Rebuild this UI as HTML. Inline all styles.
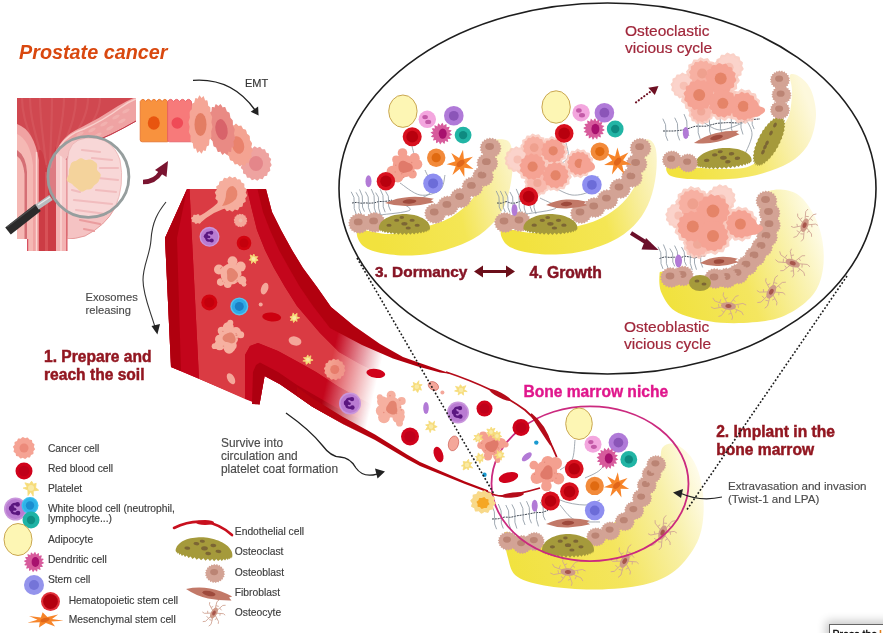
<!DOCTYPE html>
<html><head><meta charset="utf-8"><style>
html,body{margin:0;padding:0;background:#fff;}
body{width:883px;height:633px;overflow:hidden;position:relative;font-family:"Liberation Sans",sans-serif;}
svg{position:absolute;left:0;top:0;font-family:"Liberation Sans",sans-serif;filter:blur(0.3px);}
</style></head><body>
<svg width="883" height="633" viewBox="0 0 883 633">
<defs>
<linearGradient id="vfade" gradientUnits="userSpaceOnUse" x1="330" y1="366" x2="378" y2="377">
<stop offset="0" stop-color="#fff"/><stop offset="1" stop-color="#000"/></linearGradient>
<mask id="vmask" maskUnits="userSpaceOnUse" x="0" y="0" width="883" height="633"><rect x="0" y="0" width="883" height="633" fill="url(#vfade)"/></mask>
<linearGradient id="boneA" gradientUnits="objectBoundingBox" x1="0" y1="0.2" x2="1" y2="0">
<stop offset="0" stop-color="#f2e23e"/><stop offset="0.55" stop-color="#f4e655"/><stop offset="0.8" stop-color="#f8eea0"/><stop offset="1" stop-color="#fcf6d0"/></linearGradient>
<linearGradient id="boneB" gradientUnits="objectBoundingBox" x1="0" y1="0" x2="1" y2="0">
<stop offset="0" stop-color="#f3e445"/><stop offset="0.55" stop-color="#f5e862"/><stop offset="1" stop-color="#fffbe8" stop-opacity="0.2"/></linearGradient>
<marker id="ah" viewBox="0 0 10 10" refX="8" refY="5" markerWidth="7" markerHeight="7" orient="auto"><path d="M0,0 L10,5 L0,10 z" fill="#222"/></marker>
</defs>
<ellipse cx="607.5" cy="188.5" rx="268.5" ry="185.5" fill="#fff" stroke="#1e1e1e" stroke-width="1.6"/>
<g mask="url(#vmask)">
<path d="M187,189 L266,189 L272,212 L281,230 L292,250 L303,268 L317,287 L331,307 L354,326 L380,344 L403,357 L417,362 L430,394 L430,470 L420,466 L407,459 L375,440 L343,424 L312,406.5 L297,396 L280,384.3 L264.6,376 L259.5,404.5 L171,367 L165,238Z" fill="#c4061c"/>
<path d="M189.5,189 L247,189 L252,210 L257,230 L265,250 L274,268 L285,287 L297,306 L320,333 L339,352 L360,364 L385,376 L420,390 L430,394 L430,436 L420,431 L400,421 L370,404 L339,387 L316,372 L300,363 L278,351 L258,343 L250,346 L245,355 L245,399 L199,378.8Z" fill="#da3b43"/>
<path d="M257.5,189 L263,212 L270,230 L279,250 L289,268 L300,287 L313,306 L330,328 L362,345 L393,358.4 L417,366.3 L440,372.5 L452,374 L430,394 L420,390 L385,376 L360,364 L339,352 L320,333 L297,306 L285,287 L274,268 L265,250 L257,230 L252,210 L247,189Z" fill="#c4061c"/>
<path d="M187,189 L189.5,189 L199,378.8 L171,367 L165,238Z" fill="#c3051b"/>
<path d="M187,189 L177,238 L181,371 L171,367 L165,238Z" fill="#b0000f"/>
<path d="M245,399 L245,355 L250,346 L258,343 L278,351 L300,363 L316,372 L339,387 L370,404 L400,421 L420,431 L420,466 L407,459 L375,440 L343,424 L312,406.5 L297,396 L280,384.3 L264.6,376 L259.5,404.5Z" fill="#c4061c"/>
<path d="M252,404 L253,372 L256,365 L260,362.5 L278,372 L297,385 L335,407 L372,425 L400,441 L420,452 L420,466 L407,459 L375,440 L343,424 L312,406.5 L297,396 L280,384.3 L264.6,376 L259.5,404.5Z" fill="#ad0010"/>
</g>
<path d="M266,189 L272,212 L281,230 L292,250 L303,268 L317,287 L331,307 L354,326 L380,344 L403,357 L417,362 L440,370 L452,374 L452,374 L440,372.5 L417,366.3 L393,358.4 L362,345 L330,328 L313,306 L300,287 L289,268 L279,250 L270,230 L263,212 L257.5,189Z" fill="#b2010f"/>
<path d="M297,387 L312,398.0 L343,417 L375,434.5 L407,454.5 L420,462 L440,470.8 L465,481.4 L488,490.3 L488,492.5 L465,484 L440,474 L420,466 L407,459 L375,440 L343,424 L312,406.5 L297,396Z" fill="#b5030f"/>
<text x="19.0" y="58.5" font-size="19.8" fill="#d9480f" font-weight="bold" font-style="italic" letter-spacing="0">Prostate cancer</text>
<text x="245.0" y="86.7" font-size="11" fill="#333" font-weight="normal" font-style="normal" letter-spacing="0" stroke="#333" stroke-width="0.15" paint-order="stroke">EMT</text>
<text x="85.5" y="301.2" font-size="11.2" fill="#4a4a4a" font-weight="normal" font-style="normal" letter-spacing="0" stroke="#4a4a4a" stroke-width="0.15" paint-order="stroke">Exosomes</text>
<text x="85.5" y="313.9" font-size="11.2" fill="#4a4a4a" font-weight="normal" font-style="normal" letter-spacing="0" stroke="#4a4a4a" stroke-width="0.15" paint-order="stroke">releasing</text>
<text x="44.0" y="361.6" font-size="15.6" fill="#921620" font-weight="bold" font-style="normal" letter-spacing="0" stroke="#921620" stroke-width="0.45" paint-order="stroke">1. Prepare and</text>
<text x="44.0" y="379.9" font-size="15.6" fill="#921620" font-weight="bold" font-style="normal" letter-spacing="0" stroke="#921620" stroke-width="0.45" paint-order="stroke">reach the soil</text>
<text x="221.0" y="447.2" font-size="11.9" fill="#4a4a4a" font-weight="normal" font-style="normal" letter-spacing="0" stroke="#4a4a4a" stroke-width="0.15" paint-order="stroke">Survive into</text>
<text x="221.0" y="460.1" font-size="11.9" fill="#4a4a4a" font-weight="normal" font-style="normal" letter-spacing="0" stroke="#4a4a4a" stroke-width="0.15" paint-order="stroke">circulation and</text>
<text x="221.0" y="473.0" font-size="11.9" fill="#4a4a4a" font-weight="normal" font-style="normal" letter-spacing="0" stroke="#4a4a4a" stroke-width="0.15" paint-order="stroke">platelet coat formation</text>
<text x="375.0" y="276.8" font-size="15.4" fill="#861424" font-weight="bold" font-style="normal" letter-spacing="0" stroke="#861424" stroke-width="0.45" paint-order="stroke">3. Dormancy</text>
<text x="529.5" y="278.0" font-size="15.7" fill="#861424" font-weight="bold" font-style="normal" letter-spacing="0" stroke="#861424" stroke-width="0.45" paint-order="stroke">4. Growth</text>
<text x="625.0" y="36.3" font-size="15.5" fill="#a0263a" font-weight="normal" font-style="normal" letter-spacing="0" stroke="#a0263a" stroke-width="0.2" paint-order="stroke">Osteoclastic</text>
<text x="625.0" y="53.0" font-size="15.5" fill="#a0263a" font-weight="normal" font-style="normal" letter-spacing="0" stroke="#a0263a" stroke-width="0.2" paint-order="stroke">vicious cycle</text>
<text x="624.0" y="332.4" font-size="15.5" fill="#a0263a" font-weight="normal" font-style="normal" letter-spacing="0" stroke="#a0263a" stroke-width="0.2" paint-order="stroke">Osteoblastic</text>
<text x="624.0" y="349.4" font-size="15.5" fill="#a0263a" font-weight="normal" font-style="normal" letter-spacing="0" stroke="#a0263a" stroke-width="0.2" paint-order="stroke">vicious cycle</text>
<text x="523.4" y="397.4" font-size="15.6" fill="#e0168c" font-weight="bold" font-style="normal" letter-spacing="0" stroke="#e0168c" stroke-width="0.35" paint-order="stroke">Bone marrow niche</text>
<text x="716.2" y="437.4" font-size="15.6" fill="#921620" font-weight="bold" font-style="normal" letter-spacing="0" stroke="#921620" stroke-width="0.45" paint-order="stroke">2. Implant in the</text>
<text x="716.2" y="455.0" font-size="15.6" fill="#921620" font-weight="bold" font-style="normal" letter-spacing="0" stroke="#921620" stroke-width="0.45" paint-order="stroke">bone marrow</text>
<text x="728.0" y="490.0" font-size="11.6" fill="#4a4a4a" font-weight="normal" font-style="normal" letter-spacing="0" stroke="#4a4a4a" stroke-width="0.15" paint-order="stroke">Extravasation and invasion</text>
<text x="728.0" y="502.5" font-size="11.6" fill="#4a4a4a" font-weight="normal" font-style="normal" letter-spacing="0" stroke="#4a4a4a" stroke-width="0.15" paint-order="stroke">(Twist-1 and LPA)</text>
<text x="47.9" y="451.8" font-size="10.3" fill="#3c3c3c" font-weight="normal" font-style="normal" letter-spacing="0" stroke="#3c3c3c" stroke-width="0.15" paint-order="stroke">Cancer cell</text>
<text x="47.9" y="471.8" font-size="10.3" fill="#3c3c3c" font-weight="normal" font-style="normal" letter-spacing="0" stroke="#3c3c3c" stroke-width="0.15" paint-order="stroke">Red blood cell</text>
<text x="47.9" y="492.2" font-size="10.3" fill="#3c3c3c" font-weight="normal" font-style="normal" letter-spacing="0" stroke="#3c3c3c" stroke-width="0.15" paint-order="stroke">Platelet</text>
<text x="47.9" y="512.4" font-size="10.3" fill="#3c3c3c" font-weight="normal" font-style="normal" letter-spacing="0" stroke="#3c3c3c" stroke-width="0.15" paint-order="stroke">White blood cell (neutrophil,</text>
<text x="47.9" y="522.0" font-size="10.3" fill="#3c3c3c" font-weight="normal" font-style="normal" letter-spacing="0" stroke="#3c3c3c" stroke-width="0.15" paint-order="stroke">lymphocyte...)</text>
<text x="47.9" y="542.8" font-size="10.3" fill="#3c3c3c" font-weight="normal" font-style="normal" letter-spacing="0" stroke="#3c3c3c" stroke-width="0.15" paint-order="stroke">Adipocyte</text>
<text x="47.9" y="562.8" font-size="10.3" fill="#3c3c3c" font-weight="normal" font-style="normal" letter-spacing="0" stroke="#3c3c3c" stroke-width="0.15" paint-order="stroke">Dendritic cell</text>
<text x="47.9" y="583.2" font-size="10.3" fill="#3c3c3c" font-weight="normal" font-style="normal" letter-spacing="0" stroke="#3c3c3c" stroke-width="0.15" paint-order="stroke">Stem cell</text>
<text x="68.7" y="603.6" font-size="10.3" fill="#3c3c3c" font-weight="normal" font-style="normal" letter-spacing="0" stroke="#3c3c3c" stroke-width="0.15" paint-order="stroke">Hematopoietic stem cell</text>
<text x="68.7" y="623.0" font-size="10.3" fill="#3c3c3c" font-weight="normal" font-style="normal" letter-spacing="0" stroke="#3c3c3c" stroke-width="0.15" paint-order="stroke">Mesenchymal stem cell</text>
<text x="234.8" y="534.6" font-size="10.3" fill="#3c3c3c" font-weight="normal" font-style="normal" letter-spacing="0" stroke="#3c3c3c" stroke-width="0.15" paint-order="stroke">Endothelial cell</text>
<text x="234.8" y="555.0" font-size="10.3" fill="#3c3c3c" font-weight="normal" font-style="normal" letter-spacing="0" stroke="#3c3c3c" stroke-width="0.15" paint-order="stroke">Osteoclast</text>
<text x="234.8" y="575.5" font-size="10.3" fill="#3c3c3c" font-weight="normal" font-style="normal" letter-spacing="0" stroke="#3c3c3c" stroke-width="0.15" paint-order="stroke">Osteoblast</text>
<text x="234.8" y="595.5" font-size="10.3" fill="#3c3c3c" font-weight="normal" font-style="normal" letter-spacing="0" stroke="#3c3c3c" stroke-width="0.15" paint-order="stroke">Fibroblast</text>
<text x="234.8" y="615.6" font-size="10.3" fill="#3c3c3c" font-weight="normal" font-style="normal" letter-spacing="0" stroke="#3c3c3c" stroke-width="0.15" paint-order="stroke">Osteocyte</text>
<g mask="url(#vmask)">
<path d="M196,218 Q204,214 213,207 Q220,201 224,197 L232,206 Q222,209 214,213 Q205,218 199,224Z" fill="#f4ab9b"/>
<path d="M202.5,219.0 L203.0,220.0 L202.1,220.7 L201.0,221.2 L200.9,222.2 L200.4,223.2 L199.1,223.2 L197.9,222.9 L197.0,223.5 L195.8,223.9 L194.9,223.2 L194.3,222.3 L193.1,222.2 L191.9,221.8 L191.9,220.7 L192.3,219.8 L191.5,219.0 L191.0,218.0 L191.9,217.3 L193.0,216.8 L193.1,215.8 L193.6,214.8 L194.9,214.8 L196.1,215.1 L197.0,214.5 L198.2,214.1 L199.1,214.8 L199.7,215.7 L200.9,215.8 L202.1,216.2 L202.1,217.3 L201.7,218.2Z" fill="#f4ab9b"/>
<path d="M246.5,194.0 L247.2,195.6 L246.3,197.0 L245.2,198.2 L245.6,199.8 L245.8,201.5 L244.4,202.5 L243.1,203.3 L242.9,204.9 L242.5,206.6 L241.0,207.0 L239.4,207.2 L238.8,208.7 L237.9,210.2 L236.3,210.0 L234.8,209.6 L233.7,210.7 L232.4,211.8 L231.0,211.0 L229.7,210.1 L228.3,210.7 L226.8,211.2 L225.7,210.0 L224.8,208.6 L223.2,208.7 L221.7,208.6 L221.0,207.0 L220.6,205.4 L219.1,204.9 L217.7,204.2 L217.6,202.5 L217.7,200.8 L216.4,199.8 L215.3,198.6 L215.7,197.0 L216.3,195.4 L215.5,194.0 L214.8,192.4 L215.7,191.0 L216.8,189.8 L216.4,188.2 L216.2,186.5 L217.6,185.5 L218.9,184.7 L219.1,183.1 L219.5,181.4 L221.0,181.0 L222.6,180.8 L223.2,179.3 L224.1,177.8 L225.7,178.0 L227.2,178.4 L228.3,177.3 L229.6,176.2 L231.0,177.0 L232.3,177.9 L233.7,177.3 L235.2,176.8 L236.3,178.0 L237.2,179.4 L238.7,179.3 L240.3,179.4 L241.0,181.0 L241.4,182.6 L242.9,183.1 L244.3,183.8 L244.4,185.5 L244.3,187.2 L245.6,188.2 L246.7,189.4 L246.3,191.0 L245.7,192.6Z" fill="#f5ad9d"/>
<path d="M233,186 Q240,190 236,199 Q230,205 222,206 Q226,200 226,194 Q227,186 233,186Z" fill="#e8866e"/>
<path d="M247.0,220.5 L247.3,221.3 L246.8,221.9 L246.3,222.5 L246.4,223.3 L246.3,224.2 L245.6,224.6 L244.8,224.8 L244.6,225.6 L244.2,226.3 L243.3,226.4 L242.5,226.3 L241.9,226.8 L241.3,227.3 L240.5,227.0 L239.8,226.6 L239.1,226.8 L238.2,227.0 L237.7,226.4 L237.2,225.7 L236.4,225.6 L235.6,225.4 L235.4,224.6 L235.3,223.8 L234.6,223.3 L234.0,222.8 L234.2,221.9 L234.4,221.2 L234.0,220.5 L233.7,219.7 L234.2,219.1 L234.7,218.5 L234.6,217.7 L234.7,216.8 L235.4,216.4 L236.2,216.2 L236.4,215.4 L236.8,214.7 L237.7,214.6 L238.5,214.7 L239.1,214.2 L239.7,213.7 L240.5,214.0 L241.2,214.4 L241.9,214.2 L242.8,214.0 L243.3,214.6 L243.8,215.3 L244.6,215.4 L245.4,215.6 L245.6,216.4 L245.7,217.2 L246.4,217.7 L247.0,218.2 L246.8,219.1 L246.6,219.8Z" fill="#f4a79a" opacity="1"/>
<circle cx="240.5" cy="220.5" r="2.0" fill="#f0b8a8" opacity="1"/>
<circle cx="209.5" cy="236.8" r="10.0" fill="#c996dc"/>
<circle cx="209.5" cy="236.8" r="8.6" fill="#b97bd2"/>
<path d="M211.0,232.6 Q205.0,231.8 206.5,236.8 Q205.0,241.3 211.5,240.6" stroke="#5b1780" stroke-width="2.2" fill="none" stroke-linecap="round"/>
<circle cx="211.3" cy="232.8" r="2.0" fill="#5b1780"/>
<circle cx="206.2" cy="236.3" r="2.4" fill="#5b1780"/>
<circle cx="211.7" cy="240.4" r="2.0" fill="#5b1780"/>
<circle cx="209.0" cy="237.0" r="1.3" fill="#5b1780"/>
<circle cx="244.0" cy="243.0" r="7.3" fill="#d2030f"/>
<circle cx="244.0" cy="243.0" r="4.5" fill="#c4000c"/>
<path d="M258.1,260.2 L255.6,261.3 L255.6,263.4 L253.2,261.3 L251.5,263.5 L251.6,260.6 L249.2,260.1 L251.0,258.1 L250.2,254.9 L252.7,256.2 L253.9,254.1 L254.9,256.7 L257.8,256.7 L256.3,258.2Z" fill="#f6dc7a" stroke="#f6dc7a" stroke-width="0.8" stroke-linejoin="round"/>
<circle cx="253.6" cy="259.0" r="1.9" fill="#f9eaa6"/>
<g fill="#f6b0a0"><circle cx="231.0" cy="274.0" r="10.5"/><circle cx="218.9" cy="269.5" r="4.9"/><circle cx="232.5" cy="261.2" r="4.9"/><circle cx="240.7" cy="266.6" r="5.0"/><circle cx="242.0" cy="280.3" r="4.3"/><circle cx="244.0" cy="284.3" r="2.4"/><circle cx="227.7" cy="284.3" r="3.8"/><circle cx="220.7" cy="282.1" r="3.8"/></g>
<path d="M238.0,275.0 L238.0,275.6 L237.9,276.3 L237.7,276.8 L237.4,277.4 L237.1,277.9 L236.7,278.4 L236.3,278.9 L235.9,279.3 L235.5,279.8 L235.0,280.2 L234.5,280.6 L234.0,281.0 L233.4,281.4 L232.7,281.7 L232.0,281.9 L231.3,282.0 L230.5,281.9 L229.8,281.8 L229.1,281.5 L228.5,281.0 L228.0,280.5 L227.6,279.8 L227.4,279.2 L227.2,278.5 L227.2,277.8 L227.2,277.2 L227.2,276.6 L227.2,276.0 L227.2,275.5 L227.2,275.0 L227.1,274.5 L227.1,273.9 L227.0,273.4 L226.9,272.7 L226.9,272.0 L226.9,271.3 L227.1,270.6 L227.4,269.9 L227.8,269.3 L228.4,268.7 L229.0,268.3 L229.8,268.1 L230.5,268.0 L231.3,268.0 L232.0,268.2 L232.7,268.5 L233.3,268.8 L233.9,269.2 L234.4,269.6 L234.9,270.0 L235.3,270.5 L235.7,270.9 L236.1,271.3 L236.5,271.7 L236.9,272.2 L237.2,272.7 L237.5,273.2 L237.8,273.8 L237.9,274.4Z" fill="#e48470"/>
<circle cx="221.4" cy="267.5" r="0.7" fill="#e58a7a"/>
<circle cx="222.6" cy="281.1" r="0.7" fill="#e58a7a"/>
<circle cx="221.4" cy="278.8" r="0.7" fill="#e58a7a"/>
<circle cx="220.6" cy="268.6" r="0.7" fill="#e58a7a"/>
<circle cx="237.1" cy="280.9" r="0.7" fill="#e58a7a"/>
<circle cx="240.5" cy="276.2" r="0.7" fill="#e58a7a"/>
<ellipse cx="264.6" cy="288.6" rx="3.5" ry="6" transform="rotate(20 264.6 288.6)" fill="#f4a79a"/>
<circle cx="209.3" cy="302.4" r="8.0" fill="#d2030f"/>
<circle cx="209.3" cy="302.4" r="5.0" fill="#c4000c"/>
<circle cx="239.3" cy="306.4" r="9.0" fill="#58c3ee"/>
<circle cx="239.3" cy="306.4" r="7.6" fill="#2fa9e6"/>
<circle cx="239.3" cy="306.4" r="4.5" fill="#1b7fc4"/>
<circle cx="260.7" cy="304.4" r="2" fill="#f4a79a"/>
<ellipse cx="271.7" cy="317.0" rx="9.5" ry="4.5" transform="rotate(5 271.7 317.0)" fill="#cc000f"/>
<path d="M297.1,321.4 L295.3,320.2 L293.6,322.5 L292.9,320.1 L290.5,320.5 L291.6,318.2 L289.9,317.0 L292.4,316.0 L293.1,312.9 L294.6,315.2 L297.1,313.3 L296.7,316.8 L299.7,317.8 L296.6,318.8Z" fill="#f6dc7a" stroke="#f6dc7a" stroke-width="0.8" stroke-linejoin="round"/>
<circle cx="294.3" cy="318.0" r="1.9" fill="#f9eaa6"/>
<g fill="#f6b0a0"><circle cx="228.5" cy="337.0" r="9.9"/><circle cx="229.1" cy="348.3" r="5.4"/><circle cx="219.7" cy="345.0" r="5.3"/><circle cx="214.6" cy="346.2" r="2.9"/><circle cx="219.4" cy="339.2" r="4.4"/><circle cx="221.8" cy="330.8" r="4.1"/><circle cx="228.3" cy="327.5" r="5.5"/><circle cx="230.3" cy="322.7" r="3.0"/><circle cx="236.0" cy="331.9" r="4.9"/><circle cx="240.7" cy="334.7" r="3.5"/><circle cx="232.8" cy="345.4" r="3.9"/><circle cx="232.6" cy="349.2" r="2.1"/></g>
<path d="M235.4,338.0 L235.5,338.6 L235.6,339.3 L235.6,340.0 L235.4,340.6 L235.2,341.3 L234.9,341.9 L234.4,342.4 L233.9,342.8 L233.2,343.1 L232.6,343.3 L231.9,343.4 L231.2,343.3 L230.6,343.2 L230.0,343.0 L229.5,342.8 L229.0,342.6 L228.6,342.4 L228.1,342.3 L227.6,342.2 L227.1,342.1 L226.6,342.0 L226.0,341.9 L225.4,341.7 L224.8,341.4 L224.2,341.1 L223.6,340.6 L223.2,340.1 L222.8,339.4 L222.6,338.7 L222.6,338.0 L222.7,337.3 L223.0,336.6 L223.3,336.0 L223.8,335.5 L224.3,335.0 L224.8,334.6 L225.4,334.3 L225.9,334.0 L226.4,333.8 L226.9,333.5 L227.4,333.3 L227.9,333.1 L228.4,332.9 L228.9,332.7 L229.5,332.6 L230.1,332.5 L230.7,332.5 L231.3,332.6 L231.8,332.8 L232.4,333.1 L232.8,333.4 L233.3,333.8 L233.7,334.2 L234.0,334.7 L234.3,335.2 L234.6,335.7 L234.8,336.3 L235.0,336.8 L235.2,337.4Z" fill="#e48470"/>
<circle cx="222.9" cy="331.4" r="0.7" fill="#e58a7a"/>
<circle cx="236.3" cy="335.4" r="0.7" fill="#e58a7a"/>
<circle cx="237.0" cy="335.1" r="0.7" fill="#e58a7a"/>
<circle cx="237.3" cy="338.2" r="0.7" fill="#e58a7a"/>
<circle cx="236.1" cy="333.7" r="0.7" fill="#e58a7a"/>
<circle cx="223.4" cy="346.1" r="0.7" fill="#e58a7a"/>
<ellipse cx="295" cy="341" rx="6.5" ry="4.5" transform="rotate(15 295 341)" fill="#f4a79a"/>
<path d="M313.1,360.1 L310.2,361.0 L310.2,364.0 L308.7,362.5 L306.1,364.3 L305.8,361.4 L302.8,361.0 L305.7,359.8 L303.4,357.7 L306.4,357.5 L307.9,354.9 L308.6,357.5 L310.9,355.7 L310.4,358.9Z" fill="#f6dc7a" stroke="#f6dc7a" stroke-width="0.8" stroke-linejoin="round"/>
<circle cx="308.0" cy="359.7" r="1.9" fill="#f9eaa6"/>
<path d="M345.0,369.5 L345.5,370.7 L344.7,371.8 L343.8,372.7 L344.0,374.0 L343.9,375.3 L342.8,375.9 L341.5,376.3 L341.1,377.6 L340.5,378.7 L339.2,378.8 L337.9,378.6 L337.0,379.5 L335.9,380.3 L334.7,379.8 L333.6,379.1 L332.4,379.5 L331.1,379.8 L330.2,378.8 L329.5,377.7 L328.3,377.6 L327.0,377.2 L326.6,375.9 L326.5,374.7 L325.4,374.0 L324.4,373.1 L324.7,371.8 L325.1,370.6 L324.4,369.5 L323.9,368.3 L324.7,367.2 L325.6,366.3 L325.4,365.0 L325.5,363.7 L326.6,363.1 L327.9,362.7 L328.3,361.4 L328.9,360.3 L330.2,360.2 L331.5,360.4 L332.4,359.5 L333.5,358.7 L334.7,359.2 L335.8,359.9 L337.0,359.5 L338.3,359.2 L339.2,360.2 L339.9,361.3 L341.1,361.4 L342.4,361.8 L342.8,363.1 L342.9,364.3 L344.0,365.0 L345.0,365.9 L344.7,367.2 L344.3,368.4Z" fill="#f4a391" opacity="1"/>
<circle cx="334.7" cy="369.5" r="4.5" fill="#e8826e" opacity="1"/>
<ellipse cx="231" cy="378.7" rx="3.5" ry="6" transform="rotate(-30 231 378.7)" fill="#f4a79a"/>
</g>
<ellipse cx="375.8" cy="373.4" rx="9.5" ry="4.5" transform="rotate(8 375.8 373.4)" fill="#d0021b"/>
<circle cx="350.0" cy="403.5" r="11.0" fill="#c996dc"/>
<circle cx="350.0" cy="403.5" r="9.5" fill="#b97bd2"/>
<path d="M351.6,398.9 Q345.1,398.0 346.7,403.5 Q345.1,408.4 352.2,407.7" stroke="#5b1780" stroke-width="2.4" fill="none" stroke-linecap="round"/>
<circle cx="352.0" cy="399.1" r="2.2" fill="#5b1780"/>
<circle cx="346.4" cy="402.9" r="2.6" fill="#5b1780"/>
<circle cx="352.4" cy="407.5" r="2.2" fill="#5b1780"/>
<circle cx="349.4" cy="403.7" r="1.4" fill="#5b1780"/>
<g fill="#f6b0a0"><circle cx="391.0" cy="407.0" r="10.5"/><circle cx="382.5" cy="401.6" r="5.4"/><circle cx="379.8" cy="397.2" r="2.9"/><circle cx="391.2" cy="395.3" r="4.5"/><circle cx="401.6" cy="401.0" r="4.1"/><circle cx="400.5" cy="412.6" r="4.1"/><circle cx="402.4" cy="416.3" r="2.3"/><circle cx="398.5" cy="417.3" r="6.1"/><circle cx="399.5" cy="423.2" r="3.4"/><circle cx="384.0" cy="417.3" r="5.9"/><circle cx="381.4" cy="410.7" r="5.6"/></g>
<path d="M396.9,408.0 L397.1,408.5 L397.2,409.1 L397.3,409.7 L397.3,410.4 L397.3,411.1 L397.2,411.7 L396.9,412.4 L396.5,413.0 L396.0,413.5 L395.4,414.0 L394.8,414.3 L394.1,414.5 L393.4,414.5 L392.7,414.5 L392.0,414.4 L391.3,414.3 L390.7,414.1 L390.1,413.8 L389.5,413.6 L389.0,413.3 L388.4,412.9 L387.9,412.6 L387.4,412.1 L387.0,411.6 L386.6,411.1 L386.3,410.5 L386.1,409.9 L386.1,409.3 L386.1,408.6 L386.2,408.0 L386.3,407.4 L386.6,406.8 L386.8,406.3 L387.1,405.8 L387.4,405.4 L387.7,404.9 L388.0,404.4 L388.3,403.9 L388.6,403.4 L389.0,402.8 L389.4,402.3 L390.0,401.8 L390.6,401.3 L391.3,401.0 L392.0,400.7 L392.8,400.7 L393.5,400.7 L394.3,401.0 L394.9,401.4 L395.5,402.0 L395.9,402.6 L396.3,403.3 L396.5,404.0 L396.6,404.7 L396.7,405.3 L396.7,405.9 L396.7,406.5 L396.8,407.0 L396.8,407.5Z" fill="#e48470"/>
<circle cx="383.8" cy="412.5" r="0.7" fill="#e58a7a"/>
<circle cx="401.3" cy="409.9" r="0.7" fill="#e58a7a"/>
<circle cx="400.4" cy="407.3" r="0.7" fill="#e58a7a"/>
<circle cx="399.9" cy="400.1" r="0.7" fill="#e58a7a"/>
<circle cx="396.6" cy="413.6" r="0.7" fill="#e58a7a"/>
<circle cx="390.0" cy="395.8" r="0.7" fill="#e58a7a"/>
<path d="M421.4,390.2 L419.1,389.2 L417.7,392.5 L415.6,389.8 L413.0,390.9 L413.8,387.6 L411.1,386.6 L414.1,385.4 L413.2,382.4 L416.4,383.9 L418.9,380.7 L418.6,384.4 L422.1,384.7 L420.2,386.6Z" fill="#f6dc7a" stroke="#f6dc7a" stroke-width="0.8" stroke-linejoin="round"/>
<circle cx="416.8" cy="386.8" r="2.3" fill="#f9eaa6"/>
<ellipse cx="433.4" cy="386" rx="5.5" ry="4" transform="rotate(30 433.4 386)" fill="#f4a79a" stroke="#c9574e" stroke-width="0.6"/>
<circle cx="442.4" cy="392.4" r="2" fill="#f4a79a"/>
<path d="M467.2,391.6 L463.3,391.5 L463.5,395.2 L461.2,392.8 L458.1,395.0 L458.9,392.1 L454.6,391.0 L457.6,389.6 L455.5,386.4 L459.3,387.4 L460.3,384.8 L462.6,387.0 L465.9,385.7 L463.9,389.4Z" fill="#f6dc7a" stroke="#f6dc7a" stroke-width="0.8" stroke-linejoin="round"/>
<circle cx="461.0" cy="390.0" r="2.3" fill="#f9eaa6"/>
<ellipse cx="426" cy="408" rx="2.8" ry="6" fill="#b27ad6"/>
<path d="M435.2,430.5 L431.4,429.4 L430.2,432.6 L428.8,429.1 L425.7,429.8 L427.8,426.4 L425.6,424.9 L429.3,424.3 L428.8,420.9 L432.2,423.4 L434.6,421.2 L433.9,425.1 L437.2,426.7 L433.9,428.2Z" fill="#f6dc7a" stroke="#f6dc7a" stroke-width="0.8" stroke-linejoin="round"/>
<circle cx="431.0" cy="426.6" r="2.3" fill="#f9eaa6"/>
<circle cx="458.0" cy="412.5" r="11.0" fill="#c996dc"/>
<circle cx="458.0" cy="412.5" r="9.5" fill="#b97bd2"/>
<path d="M459.6,407.9 Q453.1,407.0 454.7,412.5 Q453.1,417.4 460.2,416.7" stroke="#5b1780" stroke-width="2.4" fill="none" stroke-linecap="round"/>
<circle cx="460.0" cy="408.1" r="2.2" fill="#5b1780"/>
<circle cx="454.4" cy="411.9" r="2.6" fill="#5b1780"/>
<circle cx="460.4" cy="416.5" r="2.2" fill="#5b1780"/>
<circle cx="457.4" cy="412.7" r="1.4" fill="#5b1780"/>
<circle cx="484.5" cy="408.6" r="8.0" fill="#d0021b"/>
<circle cx="484.5" cy="408.6" r="5.0" fill="#c0001a"/>
<circle cx="410.0" cy="436.5" r="9.0" fill="#d0021b"/>
<circle cx="410.0" cy="436.5" r="5.6" fill="#c0001a"/>
<ellipse cx="453.5" cy="443.4" rx="5" ry="7.5" transform="rotate(15 453.5 443.4)" fill="#f4a79a" stroke="#c9574e" stroke-width="0.6"/>
<ellipse cx="438.5" cy="454.5" rx="4.5" ry="8.0" transform="rotate(-20 438.5 454.5)" fill="#d0021b"/>
<path d="M472.8,468.1 L468.9,467.2 L468.3,470.0 L466.8,467.9 L463.1,470.0 L463.9,466.2 L461.4,465.9 L463.9,464.2 L463.2,461.5 L466.4,462.0 L468.6,459.2 L469.0,462.6 L472.1,462.8 L469.9,465.1Z" fill="#f6dc7a" stroke="#f6dc7a" stroke-width="0.8" stroke-linejoin="round"/>
<circle cx="467.0" cy="465.0" r="2.3" fill="#f9eaa6"/>
<clipPath id="pclip"><path d="M17,98 L136,98 L136,239 L67.5,239 L67.5,251 L27,251 L27,239 L17,239Z"/></clipPath>
<g clip-path="url(#pclip)">
<rect x="17" y="98" width="119" height="153" fill="#d04850"/>
<path d="M22,98 C22,120 31.0,135 40,165" stroke="#dc6a6e" stroke-width="2.2" fill="none" opacity="0.35"/>
<path d="M30,98 C30,120 36.5,135 43,165" stroke="#dc6a6e" stroke-width="2.2" fill="none" opacity="0.35"/>
<path d="M40,98 C40,120 43.0,135 46,165" stroke="#dc6a6e" stroke-width="2.2" fill="none" opacity="0.35"/>
<path d="M52,98 C52,120 51.0,135 50,165" stroke="#dc6a6e" stroke-width="2.2" fill="none" opacity="0.35"/>
<path d="M64,98 C64,120 59.0,135 54,165" stroke="#dc6a6e" stroke-width="2.2" fill="none" opacity="0.35"/>
<path d="M76,98 C76,120 66.5,135 57,165" stroke="#dc6a6e" stroke-width="2.2" fill="none" opacity="0.35"/>
<path d="M88,98 C88,120 73.5,135 59,165" stroke="#dc6a6e" stroke-width="2.2" fill="none" opacity="0.35"/>
<path d="M100,98 C100,120 81.0,135 62,165" stroke="#dc6a6e" stroke-width="2.2" fill="none" opacity="0.35"/>
<path d="M17,124 Q34,130 38.8,160 L38.8,251 L17,251Z" fill="#f0a2a2"/>
<path d="M17,134 Q30,140 33,165 L33,251 L17,251Z" fill="#f5b8b4"/>
<path d="M17,150 Q26,156 27,172 L27,251 L24.5,251 L24.5,174 Q23,160 17,156Z" fill="#c8505a" opacity="0.7"/>
<path d="M36.5,152 L36.5,251" stroke="#fbd6d2" stroke-width="1.4"/>
<rect x="17" y="239" width="10" height="12" fill="#fff"/>
<path d="M27.6,239 L27.6,251" stroke="#d85060" stroke-width="1.3"/>
<path d="M39,150 Q43,148 46,168 L52,168 Q54,150 56,146 L56,251 L39,251Z" fill="#cc3c45"/>
<path d="M46.5,172 L46.5,251" stroke="#dc5a60" stroke-width="3" opacity="0.7"/>
<path d="M56,150 Q60,146 66.6,148 L66.6,251 L56,251Z" fill="#f3b2b2"/>
<path d="M61,156 L61,251" stroke="#f9d2d0" stroke-width="1.6"/>
<path d="M67,150 L67,251" stroke="#d85060" stroke-width="1.1"/>
<path d="M96,141 Q112,135 136,121.5 L136,251 L67.5,251 L67.5,236 L92,226Z" fill="#ffffff"/>
<path d="M56,152 Q62,136 80,128 Q100,118 118,106 Q128,100 136,97 L136,121 Q120,130 102,138 Q84,144 74,150 Q68,154 66,160Z" fill="#efa3a3"/>
<ellipse cx="80" cy="134" rx="4" ry="1.6" transform="rotate(-28 80 134)" fill="#f6c0bc" opacity="0.5"/>
<ellipse cx="92" cy="130" rx="4" ry="1.6" transform="rotate(-28 92 130)" fill="#f6c0bc" opacity="0.5"/>
<ellipse cx="104" cy="124" rx="4" ry="1.6" transform="rotate(-28 104 124)" fill="#f6c0bc" opacity="0.5"/>
<ellipse cx="116" cy="117" rx="4" ry="1.6" transform="rotate(-28 116 117)" fill="#f6c0bc" opacity="0.5"/>
<ellipse cx="126" cy="111" rx="4" ry="1.6" transform="rotate(-28 126 111)" fill="#f6c0bc" opacity="0.5"/>
<ellipse cx="86" cy="139" rx="4" ry="1.6" transform="rotate(-28 86 139)" fill="#f6c0bc" opacity="0.5"/>
<ellipse cx="110" cy="128" rx="4" ry="1.6" transform="rotate(-28 110 128)" fill="#f6c0bc" opacity="0.5"/>
<ellipse cx="122" cy="121" rx="4" ry="1.6" transform="rotate(-28 122 121)" fill="#f6c0bc" opacity="0.5"/>
<ellipse cx="98" cy="135" rx="4" ry="1.6" transform="rotate(-28 98 135)" fill="#f6c0bc" opacity="0.5"/>
<path d="M60,146 Q68,134 84,129 Q104,120 120,108 Q128,102 136,99" stroke="#f9d0cc" stroke-width="1.4" fill="none"/>
<path d="M66,160 Q70,152 80,147 Q96,141 110,135 Q124,128 136,121" stroke="#c03848" stroke-width="1" fill="none"/>
<path d="M67.5,160 Q68,140 86,138 Q112,136 120,160 Q125,185 115,208 Q105,226 85,236 Q75,239 67.5,239Z" fill="#f5c3c3" stroke="#e08a8a" stroke-width="0.8"/>
<path d="M82,150 L100,152" stroke="#ea9c9e" stroke-width="2.2" stroke-linecap="round"/>
<path d="M92,158 L112,160" stroke="#ea9c9e" stroke-width="2.2" stroke-linecap="round"/>
<path d="M100,168 L118,168" stroke="#ea9c9e" stroke-width="2.2" stroke-linecap="round"/>
<path d="M98,178 L118,180" stroke="#ea9c9e" stroke-width="2.2" stroke-linecap="round"/>
<path d="M96,190 L116,192" stroke="#ea9c9e" stroke-width="2.2" stroke-linecap="round"/>
<path d="M74,200 L112,204" stroke="#ea9c9e" stroke-width="2.2" stroke-linecap="round"/>
<path d="M76,210 L106,214" stroke="#ea9c9e" stroke-width="2.2" stroke-linecap="round"/>
<path d="M80,220 L100,224" stroke="#ea9c9e" stroke-width="2.2" stroke-linecap="round"/>
<path d="M84,229 L94,231" stroke="#ea9c9e" stroke-width="2.2" stroke-linecap="round"/>
<path d="M72,190 L80,192" stroke="#ea9c9e" stroke-width="2.2" stroke-linecap="round"/>
</g>
<circle cx="88.4" cy="176.8" r="40.5" fill="#ffffff" opacity="0.33"/>
<path d="M100.7,174.5 L100.6,176.3 L100.0,178.0 L99.3,179.6 L98.7,181.2 L97.8,182.6 L96.4,183.8 L95.0,184.7 L93.9,185.8 L92.9,187.2 L91.8,188.6 L90.3,189.3 L88.6,189.4 L86.9,189.5 L85.3,190.2 L83.7,191.2 L81.9,191.7 L80.1,191.2 L78.7,190.0 L77.4,188.7 L76.1,187.7 L74.8,186.8 L73.6,185.7 L72.6,184.5 L71.3,183.5 L69.5,182.7 L67.7,181.6 L66.7,180.0 L67.0,178.1 L67.9,176.2 L68.7,174.5 L68.8,172.9 L68.7,171.3 L68.9,169.7 L69.4,168.2 L70.1,166.6 L70.5,164.9 L71.2,163.3 L72.5,162.0 L74.1,161.3 L75.8,160.9 L77.3,160.1 L78.7,159.0 L80.2,158.2 L82.0,158.3 L83.7,159.2 L85.2,159.9 L86.8,159.9 L88.5,159.6 L90.4,159.5 L92.1,160.0 L93.6,160.9 L95.0,161.9 L96.4,163.1 L97.2,164.7 L97.2,166.7 L96.9,168.6 L97.1,170.1 L98.3,171.4 L99.7,172.8Z" fill="#f4d39c"/>
<circle cx="88.4" cy="176.8" r="40.5" fill="none" stroke="#969e9e" stroke-width="2.8"/>
<path d="M8,231 L38,207.5" stroke="#2a2a2a" stroke-width="9"/>
<path d="M37,207 L51,197.5" stroke="#b8bcbe" stroke-width="6"/>
<path d="M38,205 L50,197" stroke="#e8eaea" stroke-width="1.4"/>
<path d="M7,227 L36,205" stroke="#555" stroke-width="1.2" opacity="0.8"/>
<path d="M140.2,139.8 L140.2,101.5 Q142.94,97.2 145.68,101.5 Q148.42,97.2 151.16,101.5 Q153.90,97.2 156.64,101.5 Q159.38,97.2 162.12,101.5 Q164.86,97.2 167.60,101.5 L167.6,141.8 L142.2,141.8 Q140.2,141.8 140.2,139.8Z" fill="#f8923e" stroke="#e36c25" stroke-width="0.8"/>
<path d="M167.6,139.8 L167.6,101.5 Q170.59,97.2 173.57,101.5 Q176.56,97.2 179.55,101.5 Q182.54,97.2 185.53,101.5 Q188.51,97.2 191.50,101.5 L191.5,141.8 L169.6,141.8 Q167.6,141.8 167.6,139.8Z" fill="#f77a7a" stroke="#e45a62" stroke-width="0.8"/>
<ellipse cx="153.8" cy="123" rx="6" ry="6.7" fill="#e8550f"/>
<circle cx="177.3" cy="123" r="5.8" fill="#ef4b57"/>
<path d="M271.0,163.5 L271.7,165.0 L270.8,166.4 L269.8,167.6 L270.1,169.1 L270.3,170.8 L269.0,171.8 L267.7,172.5 L267.5,174.1 L267.1,175.8 L265.6,176.1 L264.2,176.3 L263.5,177.8 L262.7,179.2 L261.1,179.0 L259.7,178.6 L258.6,179.7 L257.4,180.8 L256.0,180.0 L254.8,179.1 L253.4,179.7 L251.9,180.2 L250.9,179.0 L250.0,177.7 L248.5,177.8 L247.0,177.7 L246.4,176.1 L245.9,174.6 L244.5,174.1 L243.1,173.4 L243.0,171.8 L243.1,170.1 L241.9,169.1 L240.8,168.0 L241.2,166.4 L241.8,164.9 L241.0,163.5 L240.3,162.0 L241.2,160.6 L242.2,159.4 L241.9,157.9 L241.7,156.2 L243.0,155.2 L244.3,154.5 L244.5,152.9 L244.9,151.2 L246.4,150.9 L247.8,150.7 L248.5,149.2 L249.3,147.8 L250.9,148.0 L252.3,148.4 L253.4,147.3 L254.6,146.2 L256.0,147.0 L257.2,147.9 L258.6,147.3 L260.1,146.8 L261.1,148.0 L262.0,149.3 L263.5,149.2 L265.0,149.3 L265.6,150.9 L266.1,152.4 L267.5,152.9 L268.9,153.6 L269.0,155.2 L268.9,156.9 L270.1,157.9 L271.2,159.0 L270.8,160.6 L270.2,162.1Z" fill="#eea3a0"/>
<ellipse cx="256" cy="163.5" rx="7" ry="7.5" transform="rotate(0 256 163.5)" fill="#e4868a"/>
<path d="M251.0,141.5 L252.1,143.2 L251.8,145.1 L251.3,146.8 L252.1,148.7 L252.8,150.7 L252.0,152.1 L251.1,153.3 L251.5,155.4 L251.7,157.5 L250.5,158.3 L249.3,158.9 L249.2,160.8 L249.0,162.8 L247.6,162.9 L246.2,162.8 L245.6,164.4 L244.9,165.9 L243.4,165.3 L242.1,164.5 L241.1,165.6 L240.0,166.5 L238.6,165.3 L237.4,163.9 L236.2,164.3 L234.8,164.6 L233.8,162.8 L232.9,161.0 L231.5,160.7 L230.1,160.2 L229.4,158.2 L229.0,156.2 L227.6,155.2 L226.3,154.1 L226.1,152.0 L226.1,150.0 L225.0,148.5 L223.9,146.8 L224.2,144.9 L224.7,143.2 L223.9,141.3 L223.2,139.3 L224.0,137.9 L224.9,136.7 L224.5,134.6 L224.3,132.5 L225.5,131.7 L226.7,131.1 L226.8,129.2 L227.0,127.2 L228.4,127.1 L229.8,127.2 L230.4,125.6 L231.1,124.1 L232.6,124.7 L233.9,125.5 L234.9,124.4 L236.0,123.5 L237.4,124.7 L238.6,126.1 L239.8,125.7 L241.2,125.4 L242.2,127.2 L243.1,129.0 L244.5,129.3 L245.9,129.8 L246.6,131.8 L247.0,133.8 L248.4,134.8 L249.7,135.9 L249.9,138.0 L249.9,140.0Z" fill="#f4a392"/>
<ellipse cx="238" cy="145" rx="6" ry="9" transform="rotate(-15 238 145)" fill="#e9826c"/>
<path d="M233.8,127.3 L234.8,129.5 L234.4,131.6 L233.9,133.6 L234.6,135.9 L235.1,138.4 L234.3,139.9 L233.4,141.2 L233.7,143.7 L233.9,146.2 L232.7,147.0 L231.6,147.5 L231.4,149.7 L231.1,152.0 L229.8,151.9 L228.5,151.6 L227.9,153.4 L227.2,155.1 L225.8,154.1 L224.6,153.0 L223.6,154.1 L222.6,155.1 L221.4,153.4 L220.3,151.6 L219.1,151.9 L217.8,152.0 L216.9,149.8 L216.1,147.5 L214.9,147.0 L213.5,146.2 L213.0,143.7 L212.6,141.3 L211.4,140.0 L210.2,138.4 L210.1,135.9 L210.2,133.6 L209.2,131.7 L208.2,129.5 L208.6,127.4 L209.1,125.4 L208.4,123.1 L207.9,120.6 L208.7,119.1 L209.6,117.8 L209.3,115.3 L209.1,112.8 L210.3,112.0 L211.4,111.5 L211.6,109.3 L211.9,107.0 L213.2,107.1 L214.5,107.4 L215.1,105.6 L215.8,103.9 L217.2,104.9 L218.4,106.0 L219.4,104.9 L220.4,103.9 L221.6,105.6 L222.7,107.4 L223.9,107.1 L225.2,107.0 L226.1,109.2 L226.9,111.5 L228.1,112.0 L229.5,112.8 L230.0,115.3 L230.4,117.7 L231.6,119.0 L232.8,120.6 L232.9,123.1 L232.8,125.4Z" fill="#e98a84"/>
<ellipse cx="221.5" cy="129.5" rx="6" ry="10.5" transform="rotate(-10 221.5 129.5)" fill="#d8636a"/>
<path d="M212.0,124.5 L212.5,127.1 L211.8,129.4 L211.1,131.4 L211.3,134.1 L211.4,136.9 L210.5,138.5 L209.4,139.8 L209.3,142.5 L209.0,145.3 L207.9,145.9 L206.8,146.3 L206.2,148.7 L205.6,151.1 L204.4,150.8 L203.3,150.2 L202.5,152.1 L201.6,153.8 L200.5,152.5 L199.5,151.0 L198.5,152.1 L197.4,152.9 L196.6,150.8 L195.9,148.6 L194.8,148.7 L193.6,148.6 L193.1,145.9 L192.8,143.3 L191.7,142.5 L190.6,141.4 L190.5,138.5 L190.6,135.7 L189.7,134.1 L188.8,132.1 L189.2,129.4 L189.6,126.8 L189.0,124.5 L188.5,121.9 L189.2,119.6 L189.9,117.6 L189.7,114.9 L189.6,112.1 L190.5,110.5 L191.6,109.2 L191.7,106.5 L192.0,103.7 L193.1,103.1 L194.2,102.7 L194.8,100.3 L195.4,97.9 L196.6,98.2 L197.7,98.8 L198.5,96.9 L199.4,95.2 L200.5,96.5 L201.5,98.0 L202.5,96.9 L203.6,96.1 L204.4,98.2 L205.1,100.4 L206.2,100.3 L207.4,100.4 L207.9,103.1 L208.2,105.7 L209.3,106.5 L210.4,107.6 L210.5,110.5 L210.4,113.3 L211.3,114.9 L212.2,116.9 L211.8,119.6 L211.4,122.2Z" fill="#f5a696"/>
<ellipse cx="200.5" cy="124.5" rx="6" ry="11.5" transform="rotate(0 200.5 124.5)" fill="#e37d63"/>
<path d="M359.0,230.0 C354.2,231.8 358.3,241.2 362.0,245.0 C365.7,248.8 372.7,251.2 381.0,253.0 C389.3,254.8 401.8,255.8 412.0,255.5 C422.2,255.2 431.8,253.8 442.0,251.0 C452.2,248.2 464.3,243.8 473.0,239.0 C481.7,234.2 488.5,228.2 494.0,222.0 C499.5,215.8 503.0,209.8 506.0,202.0 C509.0,194.2 511.0,183.7 512.0,175.0 C513.0,166.3 513.0,155.8 512.0,150.0 C511.0,144.2 509.8,141.3 506.0,140.0 C502.2,138.7 491.7,139.2 489.0,142.0 C486.3,144.8 490.7,151.2 490.0,157.0 C489.3,162.8 487.8,170.2 485.0,177.0 C482.2,183.8 478.3,191.5 473.0,198.0 C467.7,204.5 460.5,211.3 453.0,216.0 C445.5,220.7 438.3,223.0 428.0,226.0 C417.7,229.0 402.5,233.3 391.0,234.0 C379.5,234.7 363.8,228.2 359.0,230.0Z" fill="url(#boneA)"/>
<path d="M352,203 L356.4,202.4 L360.9,203.2 L365.3,202.9 L369.8,203.2 L374.2,202.9 L378.7,201.5 L383.1,201.5 L387.6,201.1 L392.0,200.1 " stroke="#3e4651" stroke-width="1" fill="none" stroke-dasharray="2 0.8"/>
<path d="M351.2,191.8 Q355.2,197.4 354.2,202.9 Q353.2,208.5 356.2,214.1" stroke="#8f99a4" stroke-width="0.85" fill="none"/>
<path d="M356.1,192.4 Q360.1,197.5 359.1,202.7 Q358.1,208.5 361.1,214.3" stroke="#8f99a4" stroke-width="0.85" fill="none"/>
<path d="M359.5,189.4 Q363.5,195.9 362.5,202.4 Q361.5,207.0 364.5,211.6" stroke="#8f99a4" stroke-width="0.85" fill="none"/>
<path d="M365.4,191.7 Q369.4,196.9 368.4,202.2 Q367.4,207.5 370.4,212.8" stroke="#8f99a4" stroke-width="0.85" fill="none"/>
<path d="M371.3,189.1 Q375.3,195.5 374.3,201.9 Q373.3,208.1 376.3,214.2" stroke="#8f99a4" stroke-width="0.85" fill="none"/>
<path d="M375.6,192.6 Q379.6,197.1 378.6,201.7 Q377.6,208.2 380.6,214.7" stroke="#8f99a4" stroke-width="0.85" fill="none"/>
<path d="M380.2,189.3 Q384.2,195.4 383.2,201.4 Q382.2,206.8 385.2,212.3" stroke="#8f99a4" stroke-width="0.85" fill="none"/>
<path d="M385.6,191.4 Q389.6,196.3 388.6,201.2 Q387.6,205.9 390.6,210.7" stroke="#8f99a4" stroke-width="0.85" fill="none"/>
<path d="M412.0,146.0 C412.3,148.3 415.2,156.3 414.0,160.0 C412.8,163.7 406.5,166.7 405.0,168.0" stroke="#8d96a0" stroke-width="0.8" fill="none"/>
<path d="M400.0,183.0 C403.3,185.0 413.3,193.8 420.0,195.0 C426.7,196.2 435.8,193.3 440.0,190.0 C444.2,186.7 444.2,177.5 445.0,175.0" stroke="#8d96a0" stroke-width="0.8" fill="none"/>
<path d="M425.0,170.0 C426.2,173.3 433.2,185.0 432.0,190.0 C430.8,195.0 420.3,198.3 418.0,200.0" stroke="#8d96a0" stroke-width="0.8" fill="none"/>
<path d="M395.0,200.0 C397.5,201.7 412.5,207.5 410.0,210.0 C407.5,212.5 385.0,214.2 380.0,215.0" stroke="#8d96a0" stroke-width="0.8" fill="none"/>
<path d="M369.5,223.4 L370.2,224.1 L369.4,224.8 L368.6,225.3 L369.1,226.2 L369.5,227.1 L368.6,227.5 L367.6,227.8 L367.9,228.7 L368.0,229.7 L367.0,229.8 L366.0,229.8 L365.9,230.8 L365.8,231.8 L364.8,231.6 L363.8,231.4 L363.5,232.3 L363.0,233.2 L362.1,232.8 L361.2,232.3 L360.7,233.1 L360.0,233.9 L359.2,233.2 L358.5,232.5 L357.7,233.1 L356.9,233.6 L356.3,232.8 L355.9,231.9 L354.9,232.3 L353.9,232.6 L353.6,231.6 L353.5,230.7 L352.5,230.8 L351.4,230.8 L351.4,229.8 L351.5,228.9 L350.5,228.7 L349.5,228.4 L349.8,227.5 L350.2,226.6 L349.3,226.2 L348.4,225.6 L349.0,224.8 L349.7,224.1 L348.9,223.4 L348.2,222.7 L349.0,222.0 L349.8,221.5 L349.3,220.6 L348.9,219.7 L349.8,219.3 L350.8,219.0 L350.5,218.1 L350.4,217.1 L351.4,217.0 L352.4,217.0 L352.5,216.0 L352.6,215.0 L353.6,215.2 L354.6,215.4 L354.9,214.5 L355.4,213.6 L356.3,214.0 L357.2,214.5 L357.7,213.7 L358.4,212.9 L359.2,213.6 L359.9,214.3 L360.7,213.7 L361.5,213.2 L362.1,214.0 L362.5,214.9 L363.5,214.5 L364.5,214.2 L364.8,215.2 L364.9,216.1 L365.9,216.0 L367.0,216.0 L367.0,217.0 L366.9,217.9 L367.9,218.1 L368.9,218.4 L368.6,219.3 L368.2,220.2 L369.1,220.6 L370.0,221.2 L369.4,222.0 L368.7,222.7Z" fill="#d3a395"/>
<ellipse cx="358.2" cy="221.9" rx="4.4" ry="3.4" fill="#bb8474"/>
<path d="M384.9,222.4 L385.6,223.1 L384.8,223.8 L384.0,224.3 L384.5,225.2 L384.9,226.1 L384.0,226.5 L383.0,226.8 L383.3,227.7 L383.4,228.7 L382.4,228.8 L381.4,228.8 L381.3,229.8 L381.2,230.8 L380.2,230.6 L379.2,230.4 L378.9,231.3 L378.4,232.2 L377.5,231.8 L376.6,231.3 L376.1,232.1 L375.4,232.9 L374.6,232.2 L373.9,231.5 L373.1,232.1 L372.3,232.6 L371.7,231.8 L371.3,230.9 L370.3,231.3 L369.3,231.6 L369.0,230.6 L368.9,229.7 L367.9,229.8 L366.8,229.8 L366.8,228.8 L366.9,227.9 L365.9,227.7 L364.9,227.4 L365.2,226.5 L365.6,225.6 L364.7,225.2 L363.8,224.6 L364.4,223.8 L365.1,223.1 L364.3,222.4 L363.6,221.7 L364.4,221.0 L365.2,220.5 L364.7,219.6 L364.3,218.7 L365.2,218.3 L366.2,218.0 L365.9,217.1 L365.8,216.1 L366.8,216.0 L367.8,216.0 L367.9,215.0 L368.0,214.0 L369.0,214.2 L370.0,214.4 L370.3,213.5 L370.8,212.6 L371.7,213.0 L372.6,213.5 L373.1,212.7 L373.8,211.9 L374.6,212.6 L375.3,213.3 L376.1,212.7 L376.9,212.2 L377.5,213.0 L377.9,213.9 L378.9,213.5 L379.9,213.2 L380.2,214.2 L380.3,215.1 L381.3,215.0 L382.4,215.0 L382.4,216.0 L382.3,216.9 L383.3,217.1 L384.3,217.4 L384.0,218.3 L383.6,219.2 L384.5,219.6 L385.4,220.2 L384.8,221.0 L384.1,221.7Z" fill="#d3a395"/>
<ellipse cx="373.6" cy="220.9" rx="4.4" ry="3.4" fill="#bb8474"/>
<path d="M445.5,213.5 L446.2,214.2 L445.4,214.9 L444.6,215.4 L445.1,216.3 L445.5,217.2 L444.6,217.6 L443.6,217.9 L443.9,218.8 L444.0,219.8 L443.0,219.9 L442.0,219.9 L441.9,220.9 L441.8,221.9 L440.8,221.7 L439.8,221.5 L439.5,222.4 L439.0,223.3 L438.1,222.9 L437.2,222.4 L436.7,223.2 L436.0,224.0 L435.2,223.3 L434.5,222.6 L433.7,223.2 L432.9,223.7 L432.3,222.9 L431.9,222.0 L430.9,222.4 L429.9,222.7 L429.6,221.7 L429.5,220.8 L428.5,220.9 L427.4,220.9 L427.4,219.9 L427.5,219.0 L426.5,218.8 L425.5,218.5 L425.8,217.6 L426.2,216.7 L425.3,216.3 L424.4,215.7 L425.0,214.9 L425.7,214.2 L424.9,213.5 L424.2,212.8 L425.0,212.1 L425.8,211.6 L425.3,210.7 L424.9,209.8 L425.8,209.4 L426.8,209.1 L426.5,208.2 L426.4,207.2 L427.4,207.1 L428.4,207.1 L428.5,206.1 L428.6,205.1 L429.6,205.3 L430.6,205.5 L430.9,204.6 L431.4,203.7 L432.3,204.1 L433.2,204.6 L433.7,203.8 L434.4,203.0 L435.2,203.7 L435.9,204.4 L436.7,203.8 L437.5,203.3 L438.1,204.1 L438.5,205.0 L439.5,204.6 L440.5,204.3 L440.8,205.3 L440.9,206.2 L441.9,206.1 L443.0,206.1 L443.0,207.1 L442.9,208.0 L443.9,208.2 L444.9,208.5 L444.6,209.4 L444.2,210.3 L445.1,210.7 L446.0,211.3 L445.4,212.1 L444.7,212.8Z" fill="#d3a395"/>
<ellipse cx="434.2" cy="212.0" rx="4.4" ry="3.4" fill="#bb8474"/>
<path d="M458.2,205.9 L458.9,206.6 L458.1,207.3 L457.3,207.8 L457.8,208.7 L458.2,209.6 L457.3,210.0 L456.3,210.3 L456.6,211.2 L456.7,212.2 L455.7,212.3 L454.7,212.3 L454.6,213.3 L454.5,214.3 L453.5,214.1 L452.5,213.9 L452.2,214.8 L451.7,215.7 L450.8,215.3 L449.9,214.8 L449.4,215.6 L448.7,216.4 L447.9,215.7 L447.2,215.0 L446.4,215.6 L445.6,216.1 L445.0,215.3 L444.6,214.4 L443.6,214.8 L442.6,215.1 L442.3,214.1 L442.2,213.2 L441.2,213.3 L440.1,213.3 L440.1,212.3 L440.2,211.4 L439.2,211.2 L438.2,210.9 L438.5,210.0 L438.9,209.1 L438.0,208.7 L437.1,208.1 L437.7,207.3 L438.4,206.6 L437.6,205.9 L436.9,205.2 L437.7,204.5 L438.5,204.0 L438.0,203.1 L437.6,202.2 L438.5,201.8 L439.5,201.5 L439.2,200.6 L439.1,199.6 L440.1,199.5 L441.1,199.5 L441.2,198.5 L441.3,197.5 L442.3,197.7 L443.3,197.9 L443.6,197.0 L444.1,196.1 L445.0,196.5 L445.9,197.0 L446.4,196.2 L447.1,195.4 L447.9,196.1 L448.6,196.8 L449.4,196.2 L450.2,195.7 L450.8,196.5 L451.2,197.4 L452.2,197.0 L453.2,196.7 L453.5,197.7 L453.6,198.6 L454.6,198.5 L455.7,198.5 L455.7,199.5 L455.6,200.4 L456.6,200.6 L457.6,200.9 L457.3,201.8 L456.9,202.7 L457.8,203.1 L458.7,203.7 L458.1,204.5 L457.4,205.2Z" fill="#d3a395"/>
<ellipse cx="446.9" cy="204.4" rx="4.4" ry="3.4" fill="#bb8474"/>
<path d="M470.9,198.0 L471.6,198.7 L470.8,199.4 L470.0,199.9 L470.5,200.8 L470.9,201.7 L470.0,202.1 L469.0,202.4 L469.3,203.3 L469.4,204.3 L468.4,204.4 L467.4,204.4 L467.3,205.4 L467.2,206.4 L466.2,206.2 L465.2,206.0 L464.9,206.9 L464.4,207.8 L463.5,207.4 L462.6,206.9 L462.1,207.7 L461.4,208.5 L460.6,207.8 L459.9,207.1 L459.1,207.7 L458.3,208.2 L457.7,207.4 L457.3,206.5 L456.3,206.9 L455.3,207.2 L455.0,206.2 L454.9,205.3 L453.9,205.4 L452.8,205.4 L452.8,204.4 L452.9,203.5 L451.9,203.3 L450.9,203.0 L451.2,202.1 L451.6,201.2 L450.7,200.8 L449.8,200.2 L450.4,199.4 L451.1,198.7 L450.3,198.0 L449.6,197.3 L450.4,196.6 L451.2,196.1 L450.7,195.2 L450.3,194.3 L451.2,193.9 L452.2,193.6 L451.9,192.7 L451.8,191.7 L452.8,191.6 L453.8,191.6 L453.9,190.6 L454.0,189.6 L455.0,189.8 L456.0,190.0 L456.3,189.1 L456.8,188.2 L457.7,188.6 L458.6,189.1 L459.1,188.3 L459.8,187.5 L460.6,188.2 L461.3,188.9 L462.1,188.3 L462.9,187.8 L463.5,188.6 L463.9,189.5 L464.9,189.1 L465.9,188.8 L466.2,189.8 L466.3,190.7 L467.3,190.6 L468.4,190.6 L468.4,191.6 L468.3,192.5 L469.3,192.7 L470.3,193.0 L470.0,193.9 L469.6,194.8 L470.5,195.2 L471.4,195.8 L470.8,196.6 L470.1,197.3Z" fill="#d3a395"/>
<ellipse cx="459.6" cy="196.5" rx="4.4" ry="3.4" fill="#bb8474"/>
<path d="M482.7,186.9 L483.4,187.6 L482.6,188.3 L481.8,188.8 L482.3,189.7 L482.7,190.6 L481.8,191.0 L480.8,191.3 L481.1,192.2 L481.2,193.2 L480.2,193.3 L479.2,193.3 L479.1,194.3 L479.0,195.3 L478.0,195.1 L477.0,194.9 L476.7,195.8 L476.2,196.7 L475.3,196.3 L474.4,195.8 L473.9,196.6 L473.2,197.4 L472.4,196.7 L471.7,196.0 L470.9,196.6 L470.1,197.1 L469.5,196.3 L469.1,195.4 L468.1,195.8 L467.1,196.1 L466.8,195.1 L466.7,194.2 L465.7,194.3 L464.6,194.3 L464.6,193.3 L464.7,192.4 L463.7,192.2 L462.7,191.9 L463.0,191.0 L463.4,190.1 L462.5,189.7 L461.6,189.1 L462.2,188.3 L462.9,187.6 L462.1,186.9 L461.4,186.2 L462.2,185.5 L463.0,185.0 L462.5,184.1 L462.1,183.2 L463.0,182.8 L464.0,182.5 L463.7,181.6 L463.6,180.6 L464.6,180.5 L465.6,180.5 L465.7,179.5 L465.8,178.5 L466.8,178.7 L467.8,178.9 L468.1,178.0 L468.6,177.1 L469.5,177.5 L470.4,178.0 L470.9,177.2 L471.6,176.4 L472.4,177.1 L473.1,177.8 L473.9,177.2 L474.7,176.7 L475.3,177.5 L475.7,178.4 L476.7,178.0 L477.7,177.7 L478.0,178.7 L478.1,179.6 L479.1,179.5 L480.2,179.5 L480.2,180.5 L480.1,181.4 L481.1,181.6 L482.1,181.9 L481.8,182.8 L481.4,183.7 L482.3,184.1 L483.2,184.7 L482.6,185.5 L481.9,186.2Z" fill="#d3a395"/>
<ellipse cx="471.4" cy="185.4" rx="4.4" ry="3.4" fill="#bb8474"/>
<path d="M493.3,176.5 L494.0,177.2 L493.2,177.9 L492.4,178.4 L492.9,179.3 L493.3,180.2 L492.4,180.6 L491.4,180.9 L491.7,181.8 L491.8,182.8 L490.8,182.9 L489.8,182.9 L489.7,183.9 L489.6,184.9 L488.6,184.7 L487.6,184.5 L487.3,185.4 L486.8,186.3 L485.9,185.9 L485.0,185.4 L484.5,186.2 L483.8,187.0 L483.0,186.3 L482.3,185.6 L481.5,186.2 L480.7,186.7 L480.1,185.9 L479.7,185.0 L478.7,185.4 L477.7,185.7 L477.4,184.7 L477.3,183.8 L476.3,183.9 L475.2,183.9 L475.2,182.9 L475.3,182.0 L474.3,181.8 L473.3,181.5 L473.6,180.6 L474.0,179.7 L473.1,179.3 L472.2,178.7 L472.8,177.9 L473.5,177.2 L472.7,176.5 L472.0,175.8 L472.8,175.1 L473.6,174.6 L473.1,173.7 L472.7,172.8 L473.6,172.4 L474.6,172.1 L474.3,171.2 L474.2,170.2 L475.2,170.1 L476.2,170.1 L476.3,169.1 L476.4,168.1 L477.4,168.3 L478.4,168.5 L478.7,167.6 L479.2,166.7 L480.1,167.1 L481.0,167.6 L481.5,166.8 L482.2,166.0 L483.0,166.7 L483.7,167.4 L484.5,166.8 L485.3,166.3 L485.9,167.1 L486.3,168.0 L487.3,167.6 L488.3,167.3 L488.6,168.3 L488.7,169.2 L489.7,169.1 L490.8,169.1 L490.8,170.1 L490.7,171.0 L491.7,171.2 L492.7,171.5 L492.4,172.4 L492.0,173.3 L492.9,173.7 L493.8,174.3 L493.2,175.1 L492.5,175.8Z" fill="#d3a395"/>
<ellipse cx="482.0" cy="175.0" rx="4.4" ry="3.4" fill="#bb8474"/>
<path d="M497.7,163.2 L498.4,163.9 L497.6,164.6 L496.8,165.1 L497.3,166.0 L497.7,166.9 L496.8,167.3 L495.8,167.6 L496.1,168.5 L496.2,169.5 L495.2,169.6 L494.2,169.6 L494.1,170.6 L494.0,171.6 L493.0,171.4 L492.0,171.2 L491.7,172.1 L491.2,173.0 L490.3,172.6 L489.4,172.1 L488.9,172.9 L488.2,173.7 L487.4,173.0 L486.7,172.3 L485.9,172.9 L485.1,173.4 L484.5,172.6 L484.1,171.7 L483.1,172.1 L482.1,172.4 L481.8,171.4 L481.7,170.5 L480.7,170.6 L479.6,170.6 L479.6,169.6 L479.7,168.7 L478.7,168.5 L477.7,168.2 L478.0,167.3 L478.4,166.4 L477.5,166.0 L476.6,165.4 L477.2,164.6 L477.9,163.9 L477.1,163.2 L476.4,162.5 L477.2,161.8 L478.0,161.3 L477.5,160.4 L477.1,159.5 L478.0,159.1 L479.0,158.8 L478.7,157.9 L478.6,156.9 L479.6,156.8 L480.6,156.8 L480.7,155.8 L480.8,154.8 L481.8,155.0 L482.8,155.2 L483.1,154.3 L483.6,153.4 L484.5,153.8 L485.4,154.3 L485.9,153.5 L486.6,152.7 L487.4,153.4 L488.1,154.1 L488.9,153.5 L489.7,153.0 L490.3,153.8 L490.7,154.7 L491.7,154.3 L492.7,154.0 L493.0,155.0 L493.1,155.9 L494.1,155.8 L495.2,155.8 L495.2,156.8 L495.1,157.7 L496.1,157.9 L497.1,158.2 L496.8,159.1 L496.4,160.0 L497.3,160.4 L498.2,161.0 L497.6,161.8 L496.9,162.5Z" fill="#d3a395"/>
<ellipse cx="486.4" cy="161.7" rx="4.4" ry="3.4" fill="#bb8474"/>
<path d="M500.9,148.0 L501.6,148.7 L500.8,149.4 L500.0,149.9 L500.5,150.8 L500.9,151.7 L500.0,152.1 L499.0,152.4 L499.3,153.3 L499.4,154.3 L498.4,154.4 L497.4,154.4 L497.3,155.4 L497.2,156.4 L496.2,156.2 L495.2,156.0 L494.9,156.9 L494.4,157.8 L493.5,157.4 L492.6,156.9 L492.1,157.7 L491.4,158.5 L490.6,157.8 L489.9,157.1 L489.1,157.7 L488.3,158.2 L487.7,157.4 L487.3,156.5 L486.3,156.9 L485.3,157.2 L485.0,156.2 L484.9,155.3 L483.9,155.4 L482.8,155.4 L482.8,154.4 L482.9,153.5 L481.9,153.3 L480.9,153.0 L481.2,152.1 L481.6,151.2 L480.7,150.8 L479.8,150.2 L480.4,149.4 L481.1,148.7 L480.3,148.0 L479.6,147.3 L480.4,146.6 L481.2,146.1 L480.7,145.2 L480.3,144.3 L481.2,143.9 L482.2,143.6 L481.9,142.7 L481.8,141.7 L482.8,141.6 L483.8,141.6 L483.9,140.6 L484.0,139.6 L485.0,139.8 L486.0,140.0 L486.3,139.1 L486.8,138.2 L487.7,138.6 L488.6,139.1 L489.1,138.3 L489.8,137.5 L490.6,138.2 L491.3,138.9 L492.1,138.3 L492.9,137.8 L493.5,138.6 L493.9,139.5 L494.9,139.1 L495.9,138.8 L496.2,139.8 L496.3,140.7 L497.3,140.6 L498.4,140.6 L498.4,141.6 L498.3,142.5 L499.3,142.7 L500.3,143.0 L500.0,143.9 L499.6,144.8 L500.5,145.2 L501.4,145.8 L500.8,146.6 L500.1,147.3Z" fill="#d3a395"/>
<ellipse cx="489.6" cy="146.5" rx="4.4" ry="3.4" fill="#bb8474"/>
<g transform="translate(404.4 228) rotate(0)"><path d="M-25.6,0.0 L-25.5,-1.1 L-25.3,-2.2 L-24.9,-3.3 L-24.3,-4.3 L-23.7,-5.4 L-22.8,-6.4 L-21.8,-7.3 L-20.7,-8.2 L-19.5,-9.1 L-18.1,-9.9 L-16.6,-10.6 L-15.0,-11.3 L-13.4,-11.9 L-11.6,-12.5 L-9.8,-12.9 L-7.9,-13.3 L-6.0,-13.6 L-4.0,-13.8 L-2.0,-14.0 L-0.0,-14.0 L2.0,-14.0 L4.0,-13.8 L6.0,-13.6 L7.9,-13.3 L9.8,-12.9 L11.6,-12.5 L13.4,-11.9 L15.0,-11.3 L16.6,-10.6 L18.1,-9.9 L19.5,-9.1 L20.7,-8.2 L21.8,-7.3 L22.8,-6.4 L23.7,-5.4 L24.3,-4.3 L24.9,-3.3 L25.3,-2.2 L25.5,-1.1 L25.6,-0.0 L25.6,0.0 L25.5,1.7 L25.3,0.8 L24.9,2.5 L24.3,1.5 L23.7,3.4 L22.8,2.2 L21.8,4.2 L20.7,2.9 L19.5,4.9 L18.1,3.5 L16.6,5.6 L15.0,4.0 L13.4,6.1 L11.6,4.4 L9.8,6.5 L7.9,4.7 L6.0,6.8 L4.0,4.8 L2.0,6.9 L0.0,4.9 L-2.0,6.9 L-4.0,4.8 L-6.0,6.8 L-7.9,4.7 L-9.8,6.5 L-11.6,4.4 L-13.4,6.1 L-15.0,4.0 L-16.6,5.6 L-18.1,3.5 L-19.5,4.9 L-20.7,2.9 L-21.8,4.2 L-22.8,2.2 L-23.7,3.4 L-24.3,1.5 L-24.9,2.5 L-25.3,0.8 L-25.5,1.7 L-25.6,0.0Z" fill="#a59a3b"/><ellipse cx="-15.4" cy="-2.8" rx="2.6" ry="1.5" fill="#7c6634"/><ellipse cx="-7.7" cy="-7.7" rx="2.6" ry="1.5" fill="#7c6634"/><ellipse cx="0.0" cy="-4.2" rx="3.1" ry="1.8" fill="#7c6634"/><ellipse cx="7.7" cy="-7.7" rx="2.6" ry="1.5" fill="#7c6634"/><ellipse cx="12.8" cy="-2.8" rx="2.6" ry="1.5" fill="#7c6634"/><ellipse cx="-2.6" cy="-10.5" rx="2.3" ry="1.4" fill="#7c6634"/><ellipse cx="3.8" cy="0.0" rx="2.6" ry="1.5" fill="#7c6634"/></g>
<g transform="translate(409.5 201.5) rotate(-3.5)"><path d="M-24.5,0 Q-12.3,-4.5 0,-4.5 Q12.3,-4.5 24.5,-1.3 L21.5,0 L24.5,2.2 Q12.3,4.5 0,4.5 Q-12.3,4.5 -24.5,0Z" fill="#c27968"/><ellipse cx="0" cy="0" rx="6.9" ry="2.2" fill="#9e4a3c"/></g>
<ellipse cx="402.9" cy="111.2" rx="14.2" ry="16.2" fill="#fdf6b4" stroke="#c9a651" stroke-width="1"/>
<circle cx="427.3" cy="119.3" r="8.7" fill="#f3a6de"/>
<ellipse cx="425.1" cy="117.1" rx="2.8" ry="2.2" fill="#c45aa8"/>
<ellipse cx="428.2" cy="121.9" rx="3.0" ry="2.2" fill="#c45aa8"/>
<circle cx="453.8" cy="115.8" r="9.8" fill="#b07ad8"/>
<circle cx="453.8" cy="115.8" r="4.9" fill="#8b55b8"/>
<circle cx="412.2" cy="136.7" r="9.5" fill="#d8101e"/>
<circle cx="412.2" cy="136.7" r="5.9" fill="#b8000e"/>
<path d="M450.8,133.6 L452.1,134.7 L450.6,135.5 L449.1,136.0 L450.1,137.2 L450.9,138.7 L449.2,138.9 L447.6,138.8 L448.0,140.3 L448.2,142.0 L446.6,141.5 L445.2,140.8 L444.9,142.4 L444.4,144.0 L443.2,142.9 L442.1,141.7 L441.3,143.1 L440.2,144.4 L439.4,142.9 L438.9,141.4 L437.7,142.4 L436.2,143.2 L436.0,141.5 L436.1,139.9 L434.6,140.3 L432.9,140.5 L433.4,138.9 L434.1,137.5 L432.5,137.2 L430.9,136.7 L432.0,135.5 L433.2,134.4 L431.8,133.6 L430.5,132.5 L432.0,131.7 L433.5,131.2 L432.5,130.0 L431.7,128.5 L433.4,128.3 L435.0,128.4 L434.6,126.9 L434.4,125.2 L436.0,125.7 L437.4,126.4 L437.7,124.8 L438.2,123.2 L439.4,124.3 L440.5,125.5 L441.3,124.1 L442.4,122.8 L443.2,124.3 L443.7,125.8 L444.9,124.8 L446.4,124.0 L446.6,125.7 L446.5,127.3 L448.0,126.9 L449.7,126.7 L449.2,128.3 L448.5,129.7 L450.1,130.0 L451.7,130.5 L450.6,131.7 L449.4,132.8Z" fill="#d75b9c"/>
<ellipse cx="442.7" cy="133.6" rx="4.0" ry="5.2" fill="#a8116e"/>
<circle cx="463.1" cy="135.1" r="8.4" fill="#22b5a5"/>
<circle cx="463.1" cy="135.1" r="4.2" fill="#0e8a80"/>
<circle cx="436.2" cy="157.7" r="9.2" fill="#f28a3a"/>
<circle cx="436.2" cy="157.7" r="4.6" fill="#e06a10"/>
<path d="M473.5,169.0 L464.3,167.7 L464.4,177.0 L459.6,169.0 L452.4,174.9 L455.7,166.2 L446.6,164.2 L455.4,161.3 L451.3,153.0 L459.1,158.1 L463.0,149.7 L463.9,159.0 L472.9,156.8 L466.2,163.2Z" fill="#f7852a"/>
<ellipse cx="460.6" cy="163.5" rx="4.5" ry="2.8" transform="rotate(-37 460.6 163.5)" fill="#e0661a"/>
<g fill="#f4a090"><circle cx="404.0" cy="166.0" r="11.2"/><circle cx="414.6" cy="158.2" r="5.1"/><circle cx="417.1" cy="164.2" r="5.2"/><circle cx="412.5" cy="174.1" r="4.3"/><circle cx="397.9" cy="176.9" r="5.5"/><circle cx="393.3" cy="179.8" r="3.0"/><circle cx="392.2" cy="171.4" r="5.6"/><circle cx="396.2" cy="159.5" r="4.0"/><circle cx="402.5" cy="153.0" r="4.8"/></g>
<path d="M412.8,167.0 L412.8,167.8 L412.7,168.6 L412.3,169.4 L411.8,170.0 L411.2,170.6 L410.6,171.1 L409.9,171.4 L409.2,171.6 L408.5,171.8 L407.9,172.0 L407.3,172.1 L406.7,172.2 L406.1,172.4 L405.6,172.5 L405.0,172.7 L404.4,172.8 L403.8,172.9 L403.1,172.9 L402.4,172.8 L401.8,172.6 L401.1,172.3 L400.5,172.0 L400.0,171.5 L399.6,170.9 L399.2,170.3 L398.9,169.7 L398.7,169.0 L398.6,168.4 L398.5,167.7 L398.4,167.0 L398.4,166.3 L398.5,165.6 L398.6,164.9 L398.7,164.2 L398.9,163.5 L399.3,162.8 L399.7,162.2 L400.2,161.7 L400.8,161.2 L401.5,160.9 L402.2,160.7 L402.9,160.7 L403.7,160.7 L404.4,160.9 L405.0,161.1 L405.6,161.4 L406.1,161.7 L406.6,162.0 L407.1,162.2 L407.6,162.5 L408.1,162.7 L408.7,162.9 L409.3,163.1 L409.9,163.4 L410.6,163.8 L411.2,164.2 L411.8,164.8 L412.3,165.4 L412.6,166.2Z" fill="#e07a6a"/>
<circle cx="401.8" cy="173.8" r="0.7" fill="#e58a7a"/>
<circle cx="413.5" cy="171.6" r="0.7" fill="#e58a7a"/>
<circle cx="395.2" cy="171.9" r="0.7" fill="#e58a7a"/>
<circle cx="411.7" cy="162.5" r="0.7" fill="#e58a7a"/>
<circle cx="403.7" cy="177.5" r="0.7" fill="#e58a7a"/>
<circle cx="395.8" cy="165.3" r="0.7" fill="#e58a7a"/>
<circle cx="385.9" cy="181.3" r="9.2" fill="#d8101e"/>
<circle cx="385.9" cy="181.3" r="5.7" fill="#b8000e"/>
<ellipse cx="368.5" cy="181.3" rx="3" ry="6" fill="#b27ad6"/>
<circle cx="433.1" cy="183.4" r="9.9" fill="#8e8ef0"/>
<circle cx="433.1" cy="183.4" r="5.0" fill="#6c6cd8"/>
<path d="M503.0,229.0 C497.8,230.8 502.3,240.2 506.0,244.0 C509.7,247.8 516.7,250.2 525.0,252.0 C533.3,253.8 545.5,254.8 556.0,254.5 C566.5,254.2 577.7,252.8 588.0,250.0 C598.3,247.2 609.7,242.8 618.0,238.0 C626.3,233.2 632.7,227.3 638.0,221.0 C643.3,214.7 647.0,207.8 650.0,200.0 C653.0,192.2 655.0,182.3 656.0,174.0 C657.0,165.7 657.0,155.7 656.0,150.0 C655.0,144.3 652.2,141.3 650.0,140.0 C647.8,138.7 644.0,139.2 643.0,142.0 C642.0,144.8 644.7,151.2 644.0,157.0 C643.3,162.8 641.8,170.2 639.0,177.0 C636.2,183.8 632.3,191.7 627.0,198.0 C621.7,204.3 614.5,210.5 607.0,215.0 C599.5,219.5 593.7,222.0 582.0,225.0 C570.3,228.0 550.2,232.3 537.0,233.0 C523.8,233.7 508.2,227.2 503.0,229.0Z" fill="url(#boneA)"/>
<path d="M497,203 L501.6,203.2 L506.1,201.5 L510.7,203.1 L515.2,203.1 L519.8,201.5 L524.3,200.7 L528.9,200.5 L533.4,201.0 L538.0,200.5 " stroke="#3e4651" stroke-width="1" fill="none" stroke-dasharray="2 0.8"/>
<path d="M496.2,190.9 Q500.2,196.9 499.2,202.9 Q498.2,207.0 501.2,211.1" stroke="#8f99a4" stroke-width="0.85" fill="none"/>
<path d="M500.3,190.9 Q504.3,196.8 503.3,202.7 Q502.3,207.4 505.3,212.1" stroke="#8f99a4" stroke-width="0.85" fill="none"/>
<path d="M505.0,191.3 Q509.0,196.8 508.0,202.4 Q507.0,207.6 510.0,212.7" stroke="#8f99a4" stroke-width="0.85" fill="none"/>
<path d="M509.9,191.9 Q513.9,197.1 512.9,202.2 Q511.9,208.5 514.9,214.8" stroke="#8f99a4" stroke-width="0.85" fill="none"/>
<path d="M516.2,188.9 Q520.2,195.4 519.2,201.9 Q518.2,207.1 521.2,212.2" stroke="#8f99a4" stroke-width="0.85" fill="none"/>
<path d="M521.2,190.3 Q525.2,196.0 524.2,201.7 Q523.2,208.0 526.2,214.3" stroke="#8f99a4" stroke-width="0.85" fill="none"/>
<path d="M527.2,189.2 Q531.2,195.3 530.2,201.4 Q529.2,206.7 532.2,212.0" stroke="#8f99a4" stroke-width="0.85" fill="none"/>
<path d="M531.0,191.3 Q535.0,196.2 534.0,201.2 Q533.0,207.5 536.0,213.9" stroke="#8f99a4" stroke-width="0.85" fill="none"/>
<path d="M566.0,143.0 C566.3,145.3 569.3,153.2 568.0,157.0 C566.7,160.8 559.7,164.5 558.0,166.0" stroke="#8d96a0" stroke-width="0.8" fill="none"/>
<path d="M550.0,185.0 C553.7,186.7 565.0,194.2 572.0,195.0 C579.0,195.8 587.7,193.2 592.0,190.0 C596.3,186.8 597.0,178.3 598.0,176.0" stroke="#8d96a0" stroke-width="0.8" fill="none"/>
<path d="M540.0,198.0 C542.7,199.7 558.3,205.3 556.0,208.0 C553.7,210.7 531.0,213.0 526.0,214.0" stroke="#8d96a0" stroke-width="0.8" fill="none"/>
<path d="M515.3,222.5 L516.0,223.2 L515.2,223.9 L514.4,224.4 L514.9,225.3 L515.3,226.2 L514.4,226.6 L513.4,226.9 L513.7,227.8 L513.8,228.8 L512.8,228.9 L511.8,228.9 L511.7,229.9 L511.6,230.9 L510.6,230.7 L509.6,230.5 L509.3,231.4 L508.8,232.3 L507.9,231.9 L507.0,231.4 L506.5,232.2 L505.8,233.0 L505.0,232.3 L504.3,231.6 L503.5,232.2 L502.7,232.7 L502.1,231.9 L501.7,231.0 L500.7,231.4 L499.7,231.7 L499.4,230.7 L499.3,229.8 L498.3,229.9 L497.2,229.9 L497.2,228.9 L497.3,228.0 L496.3,227.8 L495.3,227.5 L495.6,226.6 L496.0,225.7 L495.1,225.3 L494.2,224.7 L494.8,223.9 L495.5,223.2 L494.7,222.5 L494.0,221.8 L494.8,221.1 L495.6,220.6 L495.1,219.7 L494.7,218.8 L495.6,218.4 L496.6,218.1 L496.3,217.2 L496.2,216.2 L497.2,216.1 L498.2,216.1 L498.3,215.1 L498.4,214.1 L499.4,214.3 L500.4,214.5 L500.7,213.6 L501.2,212.7 L502.1,213.1 L503.0,213.6 L503.5,212.8 L504.2,212.0 L505.0,212.7 L505.7,213.4 L506.5,212.8 L507.3,212.3 L507.9,213.1 L508.3,214.0 L509.3,213.6 L510.3,213.3 L510.6,214.3 L510.7,215.2 L511.7,215.1 L512.8,215.1 L512.8,216.1 L512.7,217.0 L513.7,217.2 L514.7,217.5 L514.4,218.4 L514.0,219.3 L514.9,219.7 L515.8,220.3 L515.2,221.1 L514.5,221.8Z" fill="#d3a395"/>
<ellipse cx="504.0" cy="221.0" rx="4.4" ry="3.4" fill="#bb8474"/>
<path d="M530.3,221.5 L531.0,222.2 L530.2,222.9 L529.4,223.4 L529.9,224.3 L530.3,225.2 L529.4,225.6 L528.4,225.9 L528.7,226.8 L528.8,227.8 L527.8,227.9 L526.8,227.9 L526.7,228.9 L526.6,229.9 L525.6,229.7 L524.6,229.5 L524.3,230.4 L523.8,231.3 L522.9,230.9 L522.0,230.4 L521.5,231.2 L520.8,232.0 L520.0,231.3 L519.3,230.6 L518.5,231.2 L517.7,231.7 L517.1,230.9 L516.7,230.0 L515.7,230.4 L514.7,230.7 L514.4,229.7 L514.3,228.8 L513.3,228.9 L512.2,228.9 L512.2,227.9 L512.3,227.0 L511.3,226.8 L510.3,226.5 L510.6,225.6 L511.0,224.7 L510.1,224.3 L509.2,223.7 L509.8,222.9 L510.5,222.2 L509.7,221.5 L509.0,220.8 L509.8,220.1 L510.6,219.6 L510.1,218.7 L509.7,217.8 L510.6,217.4 L511.6,217.1 L511.3,216.2 L511.2,215.2 L512.2,215.1 L513.2,215.1 L513.3,214.1 L513.4,213.1 L514.4,213.3 L515.4,213.5 L515.7,212.6 L516.2,211.7 L517.1,212.1 L518.0,212.6 L518.5,211.8 L519.2,211.0 L520.0,211.7 L520.7,212.4 L521.5,211.8 L522.3,211.3 L522.9,212.1 L523.3,213.0 L524.3,212.6 L525.3,212.3 L525.6,213.3 L525.7,214.2 L526.7,214.1 L527.8,214.1 L527.8,215.1 L527.7,216.0 L528.7,216.2 L529.7,216.5 L529.4,217.4 L529.0,218.3 L529.9,218.7 L530.8,219.3 L530.2,220.1 L529.5,220.8Z" fill="#d3a395"/>
<ellipse cx="519.0" cy="220.0" rx="4.4" ry="3.4" fill="#bb8474"/>
<path d="M591.3,213.5 L592.0,214.2 L591.2,214.9 L590.4,215.4 L590.9,216.3 L591.3,217.2 L590.4,217.6 L589.4,217.9 L589.7,218.8 L589.8,219.8 L588.8,219.9 L587.8,219.9 L587.7,220.9 L587.6,221.9 L586.6,221.7 L585.6,221.5 L585.3,222.4 L584.8,223.3 L583.9,222.9 L583.0,222.4 L582.5,223.2 L581.8,224.0 L581.0,223.3 L580.3,222.6 L579.5,223.2 L578.7,223.7 L578.1,222.9 L577.7,222.0 L576.7,222.4 L575.7,222.7 L575.4,221.7 L575.3,220.8 L574.3,220.9 L573.2,220.9 L573.2,219.9 L573.3,219.0 L572.3,218.8 L571.3,218.5 L571.6,217.6 L572.0,216.7 L571.1,216.3 L570.2,215.7 L570.8,214.9 L571.5,214.2 L570.7,213.5 L570.0,212.8 L570.8,212.1 L571.6,211.6 L571.1,210.7 L570.7,209.8 L571.6,209.4 L572.6,209.1 L572.3,208.2 L572.2,207.2 L573.2,207.1 L574.2,207.1 L574.3,206.1 L574.4,205.1 L575.4,205.3 L576.4,205.5 L576.7,204.6 L577.2,203.7 L578.1,204.1 L579.0,204.6 L579.5,203.8 L580.2,203.0 L581.0,203.7 L581.7,204.4 L582.5,203.8 L583.3,203.3 L583.9,204.1 L584.3,205.0 L585.3,204.6 L586.3,204.3 L586.6,205.3 L586.7,206.2 L587.7,206.1 L588.8,206.1 L588.8,207.1 L588.7,208.0 L589.7,208.2 L590.7,208.5 L590.4,209.4 L590.0,210.3 L590.9,210.7 L591.8,211.3 L591.2,212.1 L590.5,212.8Z" fill="#d3a395"/>
<ellipse cx="580.0" cy="212.0" rx="4.4" ry="3.4" fill="#bb8474"/>
<path d="M605.0,207.5 L605.7,208.2 L604.9,208.9 L604.1,209.4 L604.6,210.3 L605.0,211.2 L604.1,211.6 L603.1,211.9 L603.4,212.8 L603.5,213.8 L602.5,213.9 L601.5,213.9 L601.4,214.9 L601.3,215.9 L600.3,215.7 L599.3,215.5 L599.0,216.4 L598.5,217.3 L597.6,216.9 L596.7,216.4 L596.2,217.2 L595.5,218.0 L594.7,217.3 L594.0,216.6 L593.2,217.2 L592.4,217.7 L591.8,216.9 L591.4,216.0 L590.4,216.4 L589.4,216.7 L589.1,215.7 L589.0,214.8 L588.0,214.9 L586.9,214.9 L586.9,213.9 L587.0,213.0 L586.0,212.8 L585.0,212.5 L585.3,211.6 L585.7,210.7 L584.8,210.3 L583.9,209.7 L584.5,208.9 L585.2,208.2 L584.4,207.5 L583.7,206.8 L584.5,206.1 L585.3,205.6 L584.8,204.7 L584.4,203.8 L585.3,203.4 L586.3,203.1 L586.0,202.2 L585.9,201.2 L586.9,201.1 L587.9,201.1 L588.0,200.1 L588.1,199.1 L589.1,199.3 L590.1,199.5 L590.4,198.6 L590.9,197.7 L591.8,198.1 L592.7,198.6 L593.2,197.8 L593.9,197.0 L594.7,197.7 L595.4,198.4 L596.2,197.8 L597.0,197.3 L597.6,198.1 L598.0,199.0 L599.0,198.6 L600.0,198.3 L600.3,199.3 L600.4,200.2 L601.4,200.1 L602.5,200.1 L602.5,201.1 L602.4,202.0 L603.4,202.2 L604.4,202.5 L604.1,203.4 L603.7,204.3 L604.6,204.7 L605.5,205.3 L604.9,206.1 L604.2,206.8Z" fill="#d3a395"/>
<ellipse cx="593.7" cy="206.0" rx="4.4" ry="3.4" fill="#bb8474"/>
<path d="M617.7,199.6 L618.4,200.3 L617.6,201.0 L616.8,201.5 L617.3,202.4 L617.7,203.3 L616.8,203.7 L615.8,204.0 L616.1,204.9 L616.2,205.9 L615.2,206.0 L614.2,206.0 L614.1,207.0 L614.0,208.0 L613.0,207.8 L612.0,207.6 L611.7,208.5 L611.2,209.4 L610.3,209.0 L609.4,208.5 L608.9,209.3 L608.2,210.1 L607.4,209.4 L606.7,208.7 L605.9,209.3 L605.1,209.8 L604.5,209.0 L604.1,208.1 L603.1,208.5 L602.1,208.8 L601.8,207.8 L601.7,206.9 L600.7,207.0 L599.6,207.0 L599.6,206.0 L599.7,205.1 L598.7,204.9 L597.7,204.6 L598.0,203.7 L598.4,202.8 L597.5,202.4 L596.6,201.8 L597.2,201.0 L597.9,200.3 L597.1,199.6 L596.4,198.9 L597.2,198.2 L598.0,197.7 L597.5,196.8 L597.1,195.9 L598.0,195.5 L599.0,195.2 L598.7,194.3 L598.6,193.3 L599.6,193.2 L600.6,193.2 L600.7,192.2 L600.8,191.2 L601.8,191.4 L602.8,191.6 L603.1,190.7 L603.6,189.8 L604.5,190.2 L605.4,190.7 L605.9,189.9 L606.6,189.1 L607.4,189.8 L608.1,190.5 L608.9,189.9 L609.7,189.4 L610.3,190.2 L610.7,191.1 L611.7,190.7 L612.7,190.4 L613.0,191.4 L613.1,192.3 L614.1,192.2 L615.2,192.2 L615.2,193.2 L615.1,194.1 L616.1,194.3 L617.1,194.6 L616.8,195.5 L616.4,196.4 L617.3,196.8 L618.2,197.4 L617.6,198.2 L616.9,198.9Z" fill="#d3a395"/>
<ellipse cx="606.4" cy="198.1" rx="4.4" ry="3.4" fill="#bb8474"/>
<path d="M630.3,188.5 L631.0,189.2 L630.2,189.9 L629.4,190.4 L629.9,191.3 L630.3,192.2 L629.4,192.6 L628.4,192.9 L628.7,193.8 L628.8,194.8 L627.8,194.9 L626.8,194.9 L626.7,195.9 L626.6,196.9 L625.6,196.7 L624.6,196.5 L624.3,197.4 L623.8,198.3 L622.9,197.9 L622.0,197.4 L621.5,198.2 L620.8,199.0 L620.0,198.3 L619.3,197.6 L618.5,198.2 L617.7,198.7 L617.1,197.9 L616.7,197.0 L615.7,197.4 L614.7,197.7 L614.4,196.7 L614.3,195.8 L613.3,195.9 L612.2,195.9 L612.2,194.9 L612.3,194.0 L611.3,193.8 L610.3,193.5 L610.6,192.6 L611.0,191.7 L610.1,191.3 L609.2,190.7 L609.8,189.9 L610.5,189.2 L609.7,188.5 L609.0,187.8 L609.8,187.1 L610.6,186.6 L610.1,185.7 L609.7,184.8 L610.6,184.4 L611.6,184.1 L611.3,183.2 L611.2,182.2 L612.2,182.1 L613.2,182.1 L613.3,181.1 L613.4,180.1 L614.4,180.3 L615.4,180.5 L615.7,179.6 L616.2,178.7 L617.1,179.1 L618.0,179.6 L618.5,178.8 L619.2,178.0 L620.0,178.7 L620.7,179.4 L621.5,178.8 L622.3,178.3 L622.9,179.1 L623.3,180.0 L624.3,179.6 L625.3,179.3 L625.6,180.3 L625.7,181.2 L626.7,181.1 L627.8,181.1 L627.8,182.1 L627.7,183.0 L628.7,183.2 L629.7,183.5 L629.4,184.4 L629.0,185.3 L629.9,185.7 L630.8,186.3 L630.2,187.1 L629.5,187.8Z" fill="#d3a395"/>
<ellipse cx="619.0" cy="187.0" rx="4.4" ry="3.4" fill="#bb8474"/>
<path d="M642.2,177.4 L642.9,178.1 L642.1,178.8 L641.3,179.3 L641.8,180.2 L642.2,181.1 L641.3,181.5 L640.3,181.8 L640.6,182.7 L640.7,183.7 L639.7,183.8 L638.7,183.8 L638.6,184.8 L638.5,185.8 L637.5,185.6 L636.5,185.4 L636.2,186.3 L635.7,187.2 L634.8,186.8 L633.9,186.3 L633.4,187.1 L632.7,187.9 L631.9,187.2 L631.2,186.5 L630.4,187.1 L629.6,187.6 L629.0,186.8 L628.6,185.9 L627.6,186.3 L626.6,186.6 L626.3,185.6 L626.2,184.7 L625.2,184.8 L624.1,184.8 L624.1,183.8 L624.2,182.9 L623.2,182.7 L622.2,182.4 L622.5,181.5 L622.9,180.6 L622.0,180.2 L621.1,179.6 L621.7,178.8 L622.4,178.1 L621.6,177.4 L620.9,176.7 L621.7,176.0 L622.5,175.5 L622.0,174.6 L621.6,173.7 L622.5,173.3 L623.5,173.0 L623.2,172.1 L623.1,171.1 L624.1,171.0 L625.1,171.0 L625.2,170.0 L625.3,169.0 L626.3,169.2 L627.3,169.4 L627.6,168.5 L628.1,167.6 L629.0,168.0 L629.9,168.5 L630.4,167.7 L631.1,166.9 L631.9,167.6 L632.6,168.3 L633.4,167.7 L634.2,167.2 L634.8,168.0 L635.2,168.9 L636.2,168.5 L637.2,168.2 L637.5,169.2 L637.6,170.1 L638.6,170.0 L639.7,170.0 L639.7,171.0 L639.6,171.9 L640.6,172.1 L641.6,172.4 L641.3,173.3 L640.9,174.2 L641.8,174.6 L642.7,175.2 L642.1,176.0 L641.4,176.7Z" fill="#d3a395"/>
<ellipse cx="630.9" cy="175.9" rx="4.4" ry="3.4" fill="#bb8474"/>
<path d="M646.9,164.0 L647.6,164.7 L646.8,165.4 L646.0,165.9 L646.5,166.8 L646.9,167.7 L646.0,168.1 L645.0,168.4 L645.3,169.3 L645.4,170.3 L644.4,170.4 L643.4,170.4 L643.3,171.4 L643.2,172.4 L642.2,172.2 L641.2,172.0 L640.9,172.9 L640.4,173.8 L639.5,173.4 L638.6,172.9 L638.1,173.7 L637.4,174.5 L636.6,173.8 L635.9,173.1 L635.1,173.7 L634.3,174.2 L633.7,173.4 L633.3,172.5 L632.3,172.9 L631.3,173.2 L631.0,172.2 L630.9,171.3 L629.9,171.4 L628.8,171.4 L628.8,170.4 L628.9,169.5 L627.9,169.3 L626.9,169.0 L627.2,168.1 L627.6,167.2 L626.7,166.8 L625.8,166.2 L626.4,165.4 L627.1,164.7 L626.3,164.0 L625.6,163.3 L626.4,162.6 L627.2,162.1 L626.7,161.2 L626.3,160.3 L627.2,159.9 L628.2,159.6 L627.9,158.7 L627.8,157.7 L628.8,157.6 L629.8,157.6 L629.9,156.6 L630.0,155.6 L631.0,155.8 L632.0,156.0 L632.3,155.1 L632.8,154.2 L633.7,154.6 L634.6,155.1 L635.1,154.3 L635.8,153.5 L636.6,154.2 L637.3,154.9 L638.1,154.3 L638.9,153.8 L639.5,154.6 L639.9,155.5 L640.9,155.1 L641.9,154.8 L642.2,155.8 L642.3,156.7 L643.3,156.6 L644.4,156.6 L644.4,157.6 L644.3,158.5 L645.3,158.7 L646.3,159.0 L646.0,159.9 L645.6,160.8 L646.5,161.2 L647.4,161.8 L646.8,162.6 L646.1,163.3Z" fill="#d3a395"/>
<ellipse cx="635.6" cy="162.5" rx="4.4" ry="3.4" fill="#bb8474"/>
<path d="M650.9,148.2 L651.6,148.9 L650.8,149.6 L650.0,150.1 L650.5,151.0 L650.9,151.9 L650.0,152.3 L649.0,152.6 L649.3,153.5 L649.4,154.5 L648.4,154.6 L647.4,154.6 L647.3,155.6 L647.2,156.6 L646.2,156.4 L645.2,156.2 L644.9,157.1 L644.4,158.0 L643.5,157.6 L642.6,157.1 L642.1,157.9 L641.4,158.7 L640.6,158.0 L639.9,157.3 L639.1,157.9 L638.3,158.4 L637.7,157.6 L637.3,156.7 L636.3,157.1 L635.3,157.4 L635.0,156.4 L634.9,155.5 L633.9,155.6 L632.8,155.6 L632.8,154.6 L632.9,153.7 L631.9,153.5 L630.9,153.2 L631.2,152.3 L631.6,151.4 L630.7,151.0 L629.8,150.4 L630.4,149.6 L631.1,148.9 L630.3,148.2 L629.6,147.5 L630.4,146.8 L631.2,146.3 L630.7,145.4 L630.3,144.5 L631.2,144.1 L632.2,143.8 L631.9,142.9 L631.8,141.9 L632.8,141.8 L633.8,141.8 L633.9,140.8 L634.0,139.8 L635.0,140.0 L636.0,140.2 L636.3,139.3 L636.8,138.4 L637.7,138.8 L638.6,139.3 L639.1,138.5 L639.8,137.7 L640.6,138.4 L641.3,139.1 L642.1,138.5 L642.9,138.0 L643.5,138.8 L643.9,139.7 L644.9,139.3 L645.9,139.0 L646.2,140.0 L646.3,140.9 L647.3,140.8 L648.4,140.8 L648.4,141.8 L648.3,142.7 L649.3,142.9 L650.3,143.2 L650.0,144.1 L649.6,145.0 L650.5,145.4 L651.4,146.0 L650.8,146.8 L650.1,147.5Z" fill="#d3a395"/>
<ellipse cx="639.6" cy="146.7" rx="4.4" ry="3.4" fill="#bb8474"/>
<g transform="translate(550.4 228) rotate(0)"><path d="M-27.0,0.0 L-26.9,-1.1 L-26.7,-2.2 L-26.3,-3.3 L-25.7,-4.3 L-24.9,-5.4 L-24.1,-6.4 L-23.0,-7.3 L-21.8,-8.2 L-20.5,-9.1 L-19.1,-9.9 L-17.5,-10.6 L-15.9,-11.3 L-14.1,-11.9 L-12.3,-12.5 L-10.3,-12.9 L-8.3,-13.3 L-6.3,-13.6 L-4.2,-13.8 L-2.1,-14.0 L-0.0,-14.0 L2.1,-14.0 L4.2,-13.8 L6.3,-13.6 L8.3,-13.3 L10.3,-12.9 L12.3,-12.5 L14.1,-11.9 L15.9,-11.3 L17.5,-10.6 L19.1,-9.9 L20.5,-9.1 L21.8,-8.2 L23.0,-7.3 L24.1,-6.4 L24.9,-5.4 L25.7,-4.3 L26.3,-3.3 L26.7,-2.2 L26.9,-1.1 L27.0,-0.0 L27.0,0.0 L26.9,1.7 L26.7,0.8 L26.3,2.5 L25.7,1.5 L24.9,3.4 L24.1,2.2 L23.0,4.2 L21.8,2.9 L20.5,4.9 L19.1,3.5 L17.5,5.6 L15.9,4.0 L14.1,6.1 L12.3,4.4 L10.3,6.5 L8.3,4.7 L6.3,6.8 L4.2,4.8 L2.1,6.9 L0.0,4.9 L-2.1,6.9 L-4.2,4.8 L-6.3,6.8 L-8.3,4.7 L-10.3,6.5 L-12.3,4.4 L-14.1,6.1 L-15.9,4.0 L-17.5,5.6 L-19.1,3.5 L-20.5,4.9 L-21.8,2.9 L-23.0,4.2 L-24.1,2.2 L-24.9,3.4 L-25.7,1.5 L-26.3,2.5 L-26.7,0.8 L-26.9,1.7 L-27.0,0.0Z" fill="#a59a3b"/><ellipse cx="-16.2" cy="-2.8" rx="2.7" ry="1.6" fill="#7c6634"/><ellipse cx="-8.1" cy="-7.7" rx="2.7" ry="1.6" fill="#7c6634"/><ellipse cx="0.0" cy="-4.2" rx="3.2" ry="1.9" fill="#7c6634"/><ellipse cx="8.1" cy="-7.7" rx="2.7" ry="1.6" fill="#7c6634"/><ellipse cx="13.5" cy="-2.8" rx="2.7" ry="1.6" fill="#7c6634"/><ellipse cx="-2.7" cy="-10.5" rx="2.4" ry="1.5" fill="#7c6634"/><ellipse cx="4.0" cy="0.0" rx="2.7" ry="1.6" fill="#7c6634"/></g>
<g transform="translate(566.5 204.0) rotate(-2.8)"><path d="M-20.5,0 Q-10.3,-4.5 0,-4.5 Q10.3,-4.5 20.5,-1.3 L17.5,0 L20.5,2.2 Q10.3,4.5 0,4.5 Q-10.3,4.5 -20.5,0Z" fill="#c27968"/><ellipse cx="0" cy="0" rx="5.7" ry="2.2" fill="#9e4a3c"/></g>
<ellipse cx="556.1" cy="107.0" rx="14.2" ry="16.2" fill="#fdf6b4" stroke="#c9a651" stroke-width="1"/>
<circle cx="581.1" cy="112.7" r="8.7" fill="#f3a6de"/>
<ellipse cx="578.9" cy="110.5" rx="2.8" ry="2.2" fill="#c45aa8"/>
<ellipse cx="582.0" cy="115.3" rx="3.0" ry="2.2" fill="#c45aa8"/>
<circle cx="604.4" cy="112.7" r="9.8" fill="#b07ad8"/>
<circle cx="604.4" cy="112.7" r="4.9" fill="#8b55b8"/>
<path d="M603.5,129.0 L604.8,130.1 L603.3,130.9 L601.8,131.4 L602.8,132.6 L603.6,134.1 L601.9,134.3 L600.3,134.2 L600.7,135.7 L600.9,137.4 L599.3,136.9 L597.9,136.2 L597.6,137.8 L597.1,139.4 L595.9,138.3 L594.8,137.1 L594.0,138.5 L592.9,139.8 L592.1,138.3 L591.6,136.8 L590.4,137.8 L588.9,138.6 L588.7,136.9 L588.8,135.3 L587.3,135.7 L585.6,135.9 L586.1,134.3 L586.8,132.9 L585.2,132.6 L583.6,132.1 L584.7,130.9 L585.9,129.8 L584.5,129.0 L583.2,127.9 L584.7,127.1 L586.2,126.6 L585.2,125.4 L584.4,123.9 L586.1,123.7 L587.7,123.8 L587.3,122.3 L587.1,120.6 L588.7,121.1 L590.1,121.8 L590.4,120.2 L590.9,118.6 L592.1,119.7 L593.2,120.9 L594.0,119.5 L595.1,118.2 L595.9,119.7 L596.4,121.2 L597.6,120.2 L599.1,119.4 L599.3,121.1 L599.2,122.7 L600.7,122.3 L602.4,122.1 L601.9,123.7 L601.2,125.1 L602.8,125.4 L604.4,125.9 L603.3,127.1 L602.1,128.2Z" fill="#d75b9c"/>
<ellipse cx="595.4" cy="129.0" rx="4.0" ry="5.2" fill="#a8116e"/>
<circle cx="615.2" cy="129.0" r="8.4" fill="#22b5a5"/>
<circle cx="615.2" cy="129.0" r="4.2" fill="#0e8a80"/>
<circle cx="599.8" cy="151.6" r="9.2" fill="#f28a3a"/>
<circle cx="599.8" cy="151.6" r="4.6" fill="#e06a10"/>
<path d="M631.4,164.4 L622.2,165.0 L624.1,174.1 L617.8,167.2 L611.9,174.4 L613.4,165.2 L604.1,165.0 L612.2,160.5 L606.5,153.1 L615.1,156.6 L617.4,147.6 L620.0,156.5 L628.4,152.6 L623.1,160.2Z" fill="#f7852a"/>
<ellipse cx="617.7" cy="161.6" rx="4.5" ry="2.8" transform="rotate(-49 617.7 161.6)" fill="#e0661a"/>
<path d="M530.2,159.5 L530.9,161.0 L529.9,162.3 L528.8,163.4 L529.0,165.0 L528.9,166.6 L527.5,167.4 L526.0,167.9 L525.5,169.4 L524.7,170.8 L523.1,170.9 L521.5,170.7 L520.4,171.8 L519.1,172.8 L517.6,172.1 L516.3,171.3 L514.8,171.8 L513.2,172.1 L512.1,170.9 L511.3,169.6 L509.7,169.4 L508.1,169.0 L507.7,167.4 L507.5,165.8 L506.2,165.0 L505.0,163.9 L505.3,162.3 L505.8,160.8 L505.0,159.5 L504.3,158.0 L505.3,156.7 L506.4,155.6 L506.2,154.0 L506.3,152.4 L507.7,151.6 L509.2,151.1 L509.7,149.6 L510.5,148.2 L512.1,148.1 L513.7,148.3 L514.8,147.2 L516.1,146.2 L517.6,146.9 L518.9,147.7 L520.4,147.2 L522.0,146.9 L523.1,148.1 L523.9,149.4 L525.5,149.6 L527.1,150.0 L527.5,151.6 L527.7,153.2 L529.0,154.0 L530.2,155.1 L529.9,156.7 L529.4,158.2Z" fill="#f9c9bd" opacity="0.85"/>
<path d="M547.5,147.6 L548.2,149.2 L547.2,150.6 L546.0,151.7 L546.2,153.4 L546.2,155.1 L544.6,155.9 L543.1,156.5 L542.5,158.0 L541.7,159.6 L540.0,159.6 L538.3,159.4 L537.2,160.6 L535.8,161.6 L534.2,160.9 L532.8,160.1 L531.2,160.6 L529.5,160.9 L528.4,159.6 L527.5,158.2 L525.9,158.0 L524.2,157.6 L523.8,155.9 L523.6,154.3 L522.2,153.4 L520.9,152.3 L521.2,150.6 L521.7,149.0 L520.9,147.6 L520.2,146.0 L521.2,144.6 L522.4,143.5 L522.2,141.8 L522.2,140.1 L523.8,139.3 L525.3,138.7 L525.9,137.2 L526.7,135.6 L528.4,135.6 L530.1,135.8 L531.2,134.6 L532.6,133.6 L534.2,134.3 L535.6,135.1 L537.2,134.6 L538.9,134.3 L540.0,135.6 L540.9,137.0 L542.5,137.2 L544.2,137.6 L544.6,139.3 L544.8,140.9 L546.2,141.8 L547.5,142.9 L547.2,144.6 L546.7,146.2Z" fill="#f9c9bd" opacity="0.85"/>
<path d="M550.0,183.0 L550.7,184.5 L549.7,185.8 L548.6,186.9 L548.8,188.5 L548.7,190.1 L547.3,190.9 L545.8,191.4 L545.3,192.9 L544.5,194.3 L542.9,194.4 L541.3,194.2 L540.2,195.3 L538.9,196.3 L537.4,195.6 L536.1,194.8 L534.6,195.3 L533.0,195.6 L531.9,194.4 L531.1,193.1 L529.5,192.9 L527.9,192.5 L527.5,190.9 L527.3,189.3 L526.0,188.5 L524.8,187.4 L525.1,185.8 L525.6,184.3 L524.8,183.0 L524.1,181.5 L525.1,180.2 L526.2,179.1 L526.0,177.5 L526.1,175.9 L527.5,175.1 L529.0,174.6 L529.5,173.1 L530.3,171.7 L531.9,171.6 L533.5,171.8 L534.6,170.7 L535.9,169.7 L537.4,170.4 L538.7,171.2 L540.2,170.7 L541.8,170.4 L542.9,171.6 L543.7,172.9 L545.3,173.1 L546.9,173.5 L547.3,175.1 L547.5,176.7 L548.8,177.5 L550.0,178.6 L549.7,180.2 L549.2,181.7Z" fill="#f9c9bd" opacity="0.85"/>
<path d="M567.2,150.8 L568.0,152.5 L566.9,153.9 L565.6,155.2 L565.8,156.9 L565.8,158.7 L564.2,159.5 L562.5,160.1 L561.9,161.8 L561.1,163.4 L559.3,163.4 L557.6,163.2 L556.3,164.5 L554.9,165.6 L553.2,164.8 L551.7,163.9 L550.1,164.5 L548.3,164.8 L547.1,163.4 L546.2,162.0 L544.5,161.8 L542.7,161.3 L542.2,159.5 L542.0,157.8 L540.6,156.9 L539.2,155.7 L539.5,153.9 L540.1,152.3 L539.2,150.8 L538.4,149.1 L539.5,147.7 L540.8,146.4 L540.6,144.7 L540.6,142.9 L542.2,142.1 L543.9,141.5 L544.5,139.8 L545.3,138.2 L547.1,138.2 L548.8,138.4 L550.1,137.1 L551.5,136.0 L553.2,136.8 L554.7,137.7 L556.3,137.1 L558.1,136.8 L559.3,138.2 L560.2,139.6 L561.9,139.8 L563.7,140.3 L564.2,142.1 L564.4,143.8 L565.8,144.7 L567.2,145.9 L566.9,147.7 L566.3,149.3Z" fill="#f9c9bd" opacity="0.85"/>
<path d="M593.2,163.4 L594.0,165.1 L592.9,166.5 L591.6,167.8 L591.8,169.5 L591.8,171.3 L590.2,172.1 L588.5,172.7 L587.9,174.4 L587.1,176.0 L585.3,176.0 L583.6,175.8 L582.3,177.1 L580.9,178.2 L579.2,177.4 L577.7,176.5 L576.1,177.1 L574.3,177.4 L573.1,176.0 L572.2,174.6 L570.5,174.4 L568.7,173.9 L568.2,172.1 L568.0,170.4 L566.6,169.5 L565.2,168.3 L565.5,166.5 L566.1,164.9 L565.2,163.4 L564.4,161.7 L565.5,160.3 L566.8,159.0 L566.6,157.3 L566.6,155.5 L568.2,154.7 L569.9,154.1 L570.5,152.4 L571.3,150.8 L573.1,150.8 L574.8,151.0 L576.1,149.7 L577.5,148.6 L579.2,149.4 L580.7,150.3 L582.3,149.7 L584.1,149.4 L585.3,150.8 L586.2,152.2 L587.9,152.4 L589.7,152.9 L590.2,154.7 L590.4,156.4 L591.8,157.3 L593.2,158.5 L592.9,160.3 L592.3,161.9Z" fill="#f9c9bd" opacity="0.85"/>
<path d="M548.0,166.6 L548.9,168.4 L547.6,170.0 L546.3,171.4 L546.5,173.3 L546.5,175.3 L544.7,176.2 L542.9,176.9 L542.2,178.7 L541.3,180.5 L539.3,180.5 L537.4,180.3 L536.0,181.6 L534.4,182.9 L532.6,182.0 L531.0,181.0 L529.2,181.6 L527.2,182.0 L525.9,180.5 L524.9,178.9 L523.0,178.7 L521.0,178.2 L520.5,176.2 L520.3,174.3 L518.7,173.3 L517.2,172.0 L517.6,170.0 L518.2,168.2 L517.2,166.6 L516.3,164.8 L517.6,163.2 L518.9,161.8 L518.7,159.9 L518.7,157.9 L520.5,157.0 L522.3,156.3 L523.0,154.5 L523.9,152.7 L525.9,152.7 L527.8,152.9 L529.2,151.6 L530.8,150.3 L532.6,151.2 L534.2,152.2 L536.0,151.6 L538.0,151.2 L539.3,152.7 L540.3,154.3 L542.2,154.5 L544.2,155.0 L544.7,157.0 L544.9,158.9 L546.5,159.9 L548.0,161.2 L547.6,163.2 L547.0,165.0Z" fill="#f9c9bd" opacity="0.85"/>
<path d="M571.0,175.3 L571.9,177.1 L570.6,178.7 L569.3,180.1 L569.5,182.0 L569.5,184.0 L567.7,184.9 L565.9,185.6 L565.2,187.4 L564.3,189.2 L562.3,189.2 L560.4,189.0 L559.0,190.3 L557.4,191.6 L555.6,190.7 L554.0,189.7 L552.2,190.3 L550.2,190.7 L548.9,189.2 L547.9,187.6 L546.0,187.4 L544.0,186.9 L543.5,184.9 L543.3,183.0 L541.7,182.0 L540.2,180.7 L540.6,178.7 L541.2,176.9 L540.2,175.3 L539.3,173.5 L540.6,171.9 L541.9,170.5 L541.7,168.6 L541.7,166.6 L543.5,165.7 L545.3,165.0 L546.0,163.2 L546.9,161.4 L548.9,161.4 L550.8,161.6 L552.2,160.3 L553.8,159.0 L555.6,159.9 L557.2,160.9 L559.0,160.3 L561.0,159.9 L562.3,161.4 L563.3,163.0 L565.2,163.2 L567.2,163.7 L567.7,165.7 L567.9,167.6 L569.5,168.6 L571.0,169.9 L570.6,171.9 L570.0,173.7Z" fill="#f9c9bd" opacity="0.85"/>
<path d="M528.0,159.5 L528.5,160.7 L527.7,161.8 L526.8,162.7 L526.9,164.0 L526.9,165.3 L525.7,166.0 L524.5,166.4 L524.1,167.6 L523.4,168.8 L522.1,168.8 L520.8,168.7 L519.9,169.6 L518.8,170.4 L517.6,169.8 L516.5,169.2 L515.3,169.6 L514.0,169.9 L513.1,168.8 L512.4,167.7 L511.1,167.6 L509.8,167.3 L509.5,166.0 L509.4,164.7 L508.3,164.0 L507.2,163.1 L507.5,161.8 L507.9,160.6 L507.2,159.5 L506.7,158.3 L507.5,157.2 L508.4,156.3 L508.3,155.0 L508.3,153.7 L509.5,153.0 L510.7,152.6 L511.1,151.4 L511.8,150.2 L513.1,150.2 L514.4,150.3 L515.3,149.4 L516.4,148.6 L517.6,149.2 L518.7,149.8 L519.9,149.4 L521.2,149.1 L522.1,150.2 L522.8,151.3 L524.1,151.4 L525.4,151.7 L525.7,153.0 L525.8,154.3 L526.9,155.0 L528.0,155.9 L527.7,157.2 L527.3,158.4Z" fill="#fbd3cb" opacity="1"/>
<circle cx="517.6" cy="159.5" r="4.1" fill="#f7c0b4" opacity="1"/>
<path d="M545.1,147.6 L545.7,148.9 L544.9,150.0 L543.9,151.0 L544.0,152.3 L544.0,153.8 L542.7,154.4 L541.5,154.9 L541.0,156.1 L540.4,157.4 L538.9,157.4 L537.6,157.3 L536.6,158.3 L535.5,159.1 L534.2,158.5 L533.1,157.8 L531.8,158.3 L530.4,158.5 L529.5,157.4 L528.7,156.3 L527.4,156.1 L526.0,155.8 L525.7,154.4 L525.5,153.1 L524.4,152.3 L523.3,151.4 L523.5,150.0 L524.0,148.7 L523.3,147.6 L522.7,146.3 L523.5,145.2 L524.5,144.2 L524.4,142.9 L524.4,141.4 L525.7,140.8 L526.9,140.3 L527.4,139.1 L528.0,137.8 L529.5,137.8 L530.8,137.9 L531.8,136.9 L532.9,136.1 L534.2,136.7 L535.3,137.4 L536.6,136.9 L538.0,136.7 L538.9,137.8 L539.7,138.9 L541.0,139.1 L542.4,139.4 L542.7,140.8 L542.9,142.1 L544.0,142.9 L545.1,143.8 L544.9,145.2 L544.4,146.5Z" fill="#f7b0a2" opacity="1"/>
<circle cx="534.2" cy="147.6" r="4.4" fill="#efa08e" opacity="1"/>
<path d="M547.8,183.0 L548.3,184.2 L547.5,185.3 L546.6,186.2 L546.7,187.5 L546.7,188.8 L545.5,189.5 L544.3,189.9 L543.9,191.1 L543.2,192.3 L541.9,192.3 L540.6,192.2 L539.7,193.1 L538.6,193.9 L537.4,193.3 L536.3,192.7 L535.1,193.1 L533.8,193.4 L532.9,192.3 L532.2,191.2 L530.9,191.1 L529.6,190.8 L529.3,189.5 L529.2,188.2 L528.1,187.5 L527.0,186.6 L527.3,185.3 L527.7,184.1 L527.0,183.0 L526.5,181.8 L527.3,180.7 L528.2,179.8 L528.1,178.5 L528.1,177.2 L529.3,176.5 L530.5,176.1 L530.9,174.9 L531.6,173.7 L532.9,173.7 L534.2,173.8 L535.1,172.9 L536.2,172.1 L537.4,172.7 L538.5,173.3 L539.7,172.9 L541.0,172.6 L541.9,173.7 L542.6,174.8 L543.9,174.9 L545.2,175.2 L545.5,176.5 L545.6,177.8 L546.7,178.5 L547.8,179.4 L547.5,180.7 L547.1,181.9Z" fill="#f8b9ad" opacity="1"/>
<circle cx="537.4" cy="183.0" r="4.1" fill="#f0a898" opacity="1"/>
<path d="M564.7,150.8 L565.3,152.2 L564.4,153.4 L563.4,154.4 L563.6,155.8 L563.5,157.3 L562.2,158.0 L560.8,158.4 L560.4,159.8 L559.7,161.1 L558.2,161.2 L556.8,161.0 L555.8,162.0 L554.6,162.9 L553.2,162.3 L552.0,161.5 L550.6,162.0 L549.2,162.3 L548.2,161.2 L547.4,160.0 L546.0,159.8 L544.6,159.4 L544.2,158.0 L544.0,156.6 L542.8,155.8 L541.7,154.8 L542.0,153.4 L542.5,152.0 L541.7,150.8 L541.1,149.4 L542.0,148.2 L543.0,147.2 L542.8,145.8 L542.9,144.3 L544.2,143.6 L545.6,143.2 L546.0,141.8 L546.7,140.5 L548.2,140.4 L549.6,140.6 L550.6,139.6 L551.8,138.7 L553.2,139.3 L554.4,140.1 L555.8,139.6 L557.2,139.3 L558.2,140.4 L559.0,141.6 L560.4,141.8 L561.8,142.2 L562.2,143.6 L562.4,145.0 L563.6,145.8 L564.7,146.8 L564.4,148.2 L563.9,149.6Z" fill="#f5a394" opacity="1"/>
<circle cx="553.2" cy="150.8" r="4.6" fill="#e58468" opacity="1"/>
<path d="M590.7,163.4 L591.3,164.8 L590.4,166.0 L589.4,167.0 L589.6,168.4 L589.5,169.9 L588.2,170.6 L586.8,171.0 L586.4,172.4 L585.7,173.7 L584.2,173.8 L582.8,173.6 L581.8,174.6 L580.6,175.5 L579.2,174.9 L578.0,174.1 L576.6,174.6 L575.2,174.9 L574.2,173.8 L573.4,172.6 L572.0,172.4 L570.6,172.0 L570.2,170.6 L570.0,169.2 L568.8,168.4 L567.7,167.4 L568.0,166.0 L568.5,164.6 L567.7,163.4 L567.1,162.0 L568.0,160.8 L569.0,159.8 L568.8,158.4 L568.9,156.9 L570.2,156.2 L571.6,155.8 L572.0,154.4 L572.7,153.1 L574.2,153.0 L575.6,153.2 L576.6,152.2 L577.8,151.3 L579.2,151.9 L580.4,152.7 L581.8,152.2 L583.2,151.9 L584.2,153.0 L585.0,154.2 L586.4,154.4 L587.8,154.8 L588.2,156.2 L588.4,157.6 L589.6,158.4 L590.7,159.4 L590.4,160.8 L589.9,162.2Z" fill="#f5a394" opacity="1"/>
<circle cx="579.2" cy="163.4" r="4.6" fill="#e58468" opacity="1"/>
<path d="M545.2,166.6 L545.9,168.1 L544.9,169.4 L543.8,170.5 L544.0,172.1 L544.0,173.7 L542.5,174.5 L541.0,175.0 L540.5,176.5 L539.7,178.0 L538.1,178.0 L536.5,177.8 L535.4,178.9 L534.1,179.9 L532.6,179.2 L531.3,178.4 L529.8,178.9 L528.2,179.3 L527.1,178.0 L526.3,176.7 L524.7,176.5 L523.1,176.1 L522.7,174.5 L522.5,172.9 L521.2,172.1 L519.9,171.0 L520.3,169.4 L520.8,167.9 L520.0,166.6 L519.3,165.1 L520.3,163.8 L521.4,162.7 L521.2,161.1 L521.2,159.5 L522.7,158.7 L524.2,158.2 L524.7,156.7 L525.5,155.2 L527.1,155.2 L528.7,155.4 L529.8,154.3 L531.1,153.3 L532.6,153.9 L533.9,154.8 L535.4,154.3 L537.0,153.9 L538.1,155.2 L538.9,156.5 L540.5,156.7 L542.1,157.1 L542.5,158.7 L542.7,160.3 L544.0,161.1 L545.3,162.2 L544.9,163.8 L544.4,165.3Z" fill="#f5a394" opacity="1"/>
<circle cx="532.6" cy="166.6" r="5.1" fill="#e58468" opacity="1"/>
<path d="M568.2,175.3 L568.9,176.8 L567.9,178.1 L566.8,179.2 L567.0,180.8 L567.0,182.4 L565.5,183.2 L564.0,183.7 L563.5,185.2 L562.7,186.7 L561.1,186.7 L559.5,186.5 L558.4,187.6 L557.1,188.6 L555.6,188.0 L554.3,187.1 L552.8,187.6 L551.2,188.0 L550.1,186.7 L549.3,185.4 L547.7,185.2 L546.1,184.8 L545.7,183.2 L545.5,181.6 L544.2,180.8 L542.9,179.7 L543.3,178.1 L543.8,176.6 L543.0,175.3 L542.3,173.8 L543.3,172.5 L544.4,171.4 L544.2,169.8 L544.2,168.2 L545.7,167.4 L547.2,166.9 L547.7,165.4 L548.5,163.9 L550.1,163.9 L551.7,164.1 L552.8,163.0 L554.1,162.0 L555.6,162.7 L556.9,163.5 L558.4,163.0 L560.0,162.6 L561.1,163.9 L561.9,165.2 L563.5,165.4 L565.1,165.8 L565.5,167.4 L565.7,169.0 L567.0,169.8 L568.3,170.9 L567.9,172.5 L567.4,174.0Z" fill="#f5a394" opacity="1"/>
<circle cx="555.6" cy="175.3" r="5.1" fill="#e58468" opacity="1"/>
<path d="M594.9,166.0 L595.0,166.8 L594.9,167.7 L594.6,168.5 L594.1,169.2 L593.6,169.8 L592.9,170.3 L592.2,170.6 L591.4,170.9 L590.7,171.1 L590.1,171.3 L589.4,171.5 L588.8,171.7 L588.3,171.9 L587.6,172.2 L587.0,172.4 L586.3,172.7 L585.5,172.9 L584.7,173.0 L583.9,173.0 L583.1,172.8 L582.3,172.5 L581.6,172.0 L581.1,171.3 L580.7,170.6 L580.4,169.8 L580.4,169.0 L580.4,168.1 L580.5,167.4 L580.7,166.7 L580.9,166.0 L581.0,165.4 L581.2,164.8 L581.3,164.1 L581.3,163.5 L581.4,162.8 L581.6,162.0 L581.8,161.3 L582.1,160.5 L582.5,159.8 L583.1,159.2 L583.7,158.7 L584.5,158.3 L585.3,158.2 L586.2,158.2 L587.0,158.4 L587.8,158.8 L588.4,159.2 L589.0,159.7 L589.6,160.2 L590.1,160.7 L590.5,161.2 L591.0,161.6 L591.5,162.0 L592.0,162.4 L592.6,162.8 L593.2,163.3 L593.7,163.8 L594.2,164.5 L594.6,165.2Z" fill="#f5a394"/>
<circle cx="564.2" cy="133.4" r="9.3" fill="#d8101e"/>
<circle cx="564.2" cy="133.4" r="5.8" fill="#b8000e"/>
<circle cx="528.7" cy="196.6" r="9.5" fill="#d8101e"/>
<circle cx="528.7" cy="196.6" r="5.9" fill="#b8000e"/>
<ellipse cx="514.5" cy="210" rx="3" ry="6" fill="#b27ad6"/>
<circle cx="591.9" cy="184.8" r="9.8" fill="#8e8ef0"/>
<circle cx="591.9" cy="184.8" r="4.9" fill="#6c6cd8"/>
<linearGradient id="boneC" gradientUnits="userSpaceOnUse" x1="680" y1="170" x2="815" y2="120"><stop offset="0" stop-color="#f2e23e"/><stop offset="0.5" stop-color="#f5e868"/><stop offset="0.8" stop-color="#f9f0b0"/><stop offset="1" stop-color="#fdf8dc"/></linearGradient>
<linearGradient id="boneD" gradientUnits="userSpaceOnUse" x1="670" y1="300" x2="830" y2="240"><stop offset="0" stop-color="#f1e23f"/><stop offset="0.45" stop-color="#f4e660"/><stop offset="0.8" stop-color="#faf3b8"/><stop offset="1" stop-color="#fffdf0"/></linearGradient>
<linearGradient id="boneN" gradientUnits="userSpaceOnUse" x1="510" y1="570" x2="710" y2="500"><stop offset="0" stop-color="#f1e23f"/><stop offset="0.5" stop-color="#f4e55e"/><stop offset="0.8" stop-color="#f8f0a8"/><stop offset="1" stop-color="#fffcec"/></linearGradient>
<path d="M668.0,165.0 C664.8,166.5 665.7,173.6 671.0,176.0 C676.3,178.4 688.5,179.2 700.0,179.5 C711.5,179.8 728.3,179.4 740.0,178.0 C751.7,176.6 760.8,174.2 770.0,171.0 C779.2,167.8 788.3,164.0 795.0,159.0 C801.7,154.0 806.5,148.3 810.0,141.0 C813.5,133.7 815.8,123.5 816.0,115.0 C816.2,106.5 813.7,96.3 811.0,90.0 C808.3,83.7 803.5,79.5 800.0,77.0 C796.5,74.5 791.3,72.8 790.0,75.0 C788.7,77.2 792.0,83.8 792.0,90.0 C792.0,96.2 791.3,106.2 790.0,112.0 C788.7,117.8 787.3,119.0 784.0,125.0 C780.7,131.0 775.7,141.2 770.0,148.0 C764.3,154.8 758.3,162.5 750.0,166.0 C741.7,169.5 730.0,168.8 720.0,169.0 C710.0,169.2 698.7,167.7 690.0,167.0 C681.3,166.3 671.2,163.5 668.0,165.0Z" fill="url(#boneC)"/>
<path d="M663,131 L673.8,131.0 L684.6,129.8 L695.3,126.2 L706.1,126.2 L716.9,123.3 L727.7,122.6 L738.4,123.0 L749.2,119.8 L760.0,118.9 " stroke="#3e4651" stroke-width="1" fill="none" stroke-dasharray="2 0.8"/>
<path d="M662.8,118.7 Q666.8,124.6 665.8,130.6 Q664.8,135.7 667.8,140.8" stroke="#8f99a4" stroke-width="0.85" fill="none"/>
<path d="M674.7,117.7 Q678.7,123.5 677.7,129.3 Q676.7,134.8 679.7,140.4" stroke="#8f99a4" stroke-width="0.85" fill="none"/>
<path d="M684.0,114.1 Q688.0,121.0 687.0,127.9 Q686.0,132.0 689.0,136.0" stroke="#8f99a4" stroke-width="0.85" fill="none"/>
<path d="M695.2,113.5 Q699.2,120.0 698.2,126.6 Q697.2,132.8 700.2,139.0" stroke="#8f99a4" stroke-width="0.85" fill="none"/>
<path d="M706.6,114.5 Q710.6,119.9 709.6,125.3 Q708.6,131.2 711.6,137.2" stroke="#8f99a4" stroke-width="0.85" fill="none"/>
<path d="M717.4,111.3 Q721.4,117.6 720.4,123.9 Q719.4,128.6 722.4,133.3" stroke="#8f99a4" stroke-width="0.85" fill="none"/>
<path d="M728.4,109.5 Q732.4,116.0 731.4,122.6 Q730.4,128.7 733.4,134.7" stroke="#8f99a4" stroke-width="0.85" fill="none"/>
<path d="M738.0,111.3 Q742.0,116.3 741.0,121.3 Q740.0,127.9 743.0,134.5" stroke="#8f99a4" stroke-width="0.85" fill="none"/>
<path d="M749.2,109.8 Q753.2,114.9 752.2,119.9 Q751.2,124.5 754.2,129.1" stroke="#8f99a4" stroke-width="0.85" fill="none"/>
<path d="M745.0,118.0 C746.2,120.8 752.5,128.0 752.0,135.0 C751.5,142.0 743.7,155.8 742.0,160.0" stroke="#8d96a0" stroke-width="0.8" fill="none"/>
<path d="M700.0,120.0 C703.3,121.7 712.5,129.7 720.0,130.0 C727.5,130.3 740.8,123.3 745.0,122.0" stroke="#8d96a0" stroke-width="0.8" fill="none"/>
<g transform="translate(723.7 162) rotate(-4)"><path d="M-28.0,0.0 L-27.9,-1.1 L-27.7,-2.2 L-27.2,-3.3 L-26.6,-4.3 L-25.9,-5.4 L-24.9,-6.4 L-23.9,-7.3 L-22.7,-8.2 L-21.3,-9.1 L-19.8,-9.9 L-18.2,-10.6 L-16.5,-11.3 L-14.6,-11.9 L-12.7,-12.5 L-10.7,-12.9 L-8.7,-13.3 L-6.5,-13.6 L-4.4,-13.8 L-2.2,-14.0 L-0.0,-14.0 L2.2,-14.0 L4.4,-13.8 L6.5,-13.6 L8.7,-13.3 L10.7,-12.9 L12.7,-12.5 L14.6,-11.9 L16.5,-11.3 L18.2,-10.6 L19.8,-9.9 L21.3,-9.1 L22.7,-8.2 L23.9,-7.3 L24.9,-6.4 L25.9,-5.4 L26.6,-4.3 L27.2,-3.3 L27.7,-2.2 L27.9,-1.1 L28.0,-0.0 L28.0,0.0 L27.9,1.7 L27.7,0.8 L27.2,2.5 L26.6,1.5 L25.9,3.4 L24.9,2.2 L23.9,4.2 L22.7,2.9 L21.3,4.9 L19.8,3.5 L18.2,5.6 L16.5,4.0 L14.6,6.1 L12.7,4.4 L10.7,6.5 L8.7,4.7 L6.5,6.8 L4.4,4.8 L2.2,6.9 L0.0,4.9 L-2.2,6.9 L-4.4,4.8 L-6.5,6.8 L-8.7,4.7 L-10.7,6.5 L-12.7,4.4 L-14.6,6.1 L-16.5,4.0 L-18.2,5.6 L-19.8,3.5 L-21.3,4.9 L-22.7,2.9 L-23.9,4.2 L-24.9,2.2 L-25.9,3.4 L-26.6,1.5 L-27.2,2.5 L-27.7,0.8 L-27.9,1.7 L-28.0,0.0Z" fill="#a59a3b"/><ellipse cx="-16.8" cy="-2.8" rx="2.8" ry="1.7" fill="#7c6634"/><ellipse cx="-8.4" cy="-7.7" rx="2.8" ry="1.7" fill="#7c6634"/><ellipse cx="0.0" cy="-4.2" rx="3.4" ry="2.0" fill="#7c6634"/><ellipse cx="8.4" cy="-7.7" rx="2.8" ry="1.7" fill="#7c6634"/><ellipse cx="14.0" cy="-2.8" rx="2.8" ry="1.7" fill="#7c6634"/><ellipse cx="-2.8" cy="-10.5" rx="2.5" ry="1.5" fill="#7c6634"/><ellipse cx="4.2" cy="0.0" rx="2.8" ry="1.7" fill="#7c6634"/></g>
<path d="M781.7,117.2 L782.6,116.5 L782.4,117.7 L782.2,118.9 L783.1,118.4 L784.0,117.9 L783.6,119.2 L783.3,120.6 L784.1,120.3 L784.9,120.1 L784.4,121.5 L783.9,122.9 L784.6,122.8 L785.3,122.8 L784.7,124.3 L784.1,125.7 L784.7,125.9 L785.2,126.2 L784.5,127.6 L783.8,129.0 L784.2,129.5 L784.7,130.0 L783.9,131.4 L783.0,132.7 L783.4,133.3 L783.6,134.1 L782.8,135.4 L781.9,136.6 L782.0,137.5 L782.2,138.4 L781.2,139.6 L780.3,140.7 L780.3,141.7 L780.3,142.8 L779.3,143.8 L778.4,144.7 L778.3,145.9 L778.1,147.2 L777.1,148.0 L776.2,148.7 L775.9,150.0 L775.6,151.4 L774.7,151.9 L773.8,152.4 L773.4,153.8 L772.9,155.2 L772.0,155.5 L771.3,155.8 L770.7,157.2 L770.0,158.6 L769.3,158.7 L768.7,158.7 L768.0,160.1 L767.2,161.5 L766.6,161.3 L766.0,161.1 L765.2,162.4 L764.4,163.8 L763.9,163.4 L763.5,162.8 L762.7,164.1 L761.8,165.4 L761.4,164.7 L761.2,164.0 L760.3,165.1 L759.3,166.2 L759.2,165.3 L759.0,164.4 L758.1,165.3 L757.2,166.3 L757.2,165.2 L757.2,164.1 L756.3,164.8 L755.4,165.5 L755.6,164.3 L755.8,163.1 L754.9,163.6 L754.0,164.1 L754.4,162.8 L754.7,161.4 L753.9,161.7 L753.1,161.9 L753.6,160.5 L754.1,159.1 L753.4,159.2 L752.7,159.2 L753.3,157.7 L753.9,156.3 L753.3,156.1 L752.8,155.8 L753.5,154.4 L754.2,153.0 L753.8,152.5 L753.3,152.0 L754.1,150.6 L755.0,149.3 L754.6,148.7 L754.4,147.9 L755.2,146.6 L756.1,145.4 L756.0,144.5 L755.8,143.6 L756.8,142.4 L757.7,141.3 L757.7,140.3 L757.7,139.2 L758.7,138.2 L759.6,137.3 L759.7,136.1 L759.9,134.8 L760.9,134.0 L761.8,133.3 L762.1,132.0 L762.4,130.6 L763.3,130.1 L764.2,129.6 L764.6,128.2 L765.1,126.8 L766.0,126.5 L766.7,126.2 L767.3,124.8 L768.0,123.4 L768.7,123.3 L769.3,123.3 L770.0,121.9 L770.8,120.5 L771.4,120.7 L772.0,120.9 L772.8,119.6 L773.6,118.2 L774.1,118.6 L774.5,119.2 L775.3,117.9 L776.2,116.6 L776.6,117.3 L776.8,118.0 L777.7,116.9 L778.7,115.8 L778.8,116.7 L779.0,117.6 L779.9,116.7 L780.8,115.7 L780.8,116.8 L780.8,117.9Z" fill="#a59a3b"/>
<ellipse cx="763" cy="152" rx="2.6" ry="1.6" transform="rotate(-62 763 152)" fill="#7c6634"/>
<ellipse cx="767" cy="143" rx="2.6" ry="1.6" transform="rotate(-62 767 143)" fill="#7c6634"/>
<ellipse cx="771" cy="133" rx="2.6" ry="1.6" transform="rotate(-62 771 133)" fill="#7c6634"/>
<ellipse cx="775" cy="125" rx="2.6" ry="1.6" transform="rotate(-62 775 125)" fill="#7c6634"/>
<ellipse cx="765" cy="147" rx="2.6" ry="1.6" transform="rotate(-62 765 147)" fill="#7c6634"/>
<path d="M789.5,80.0 L790.1,80.7 L789.4,81.3 L788.6,81.8 L789.1,82.5 L789.5,83.4 L788.6,83.7 L787.7,84.0 L787.9,84.9 L788.1,85.8 L787.1,85.9 L786.2,85.9 L786.2,86.8 L786.1,87.7 L785.1,87.6 L784.2,87.3 L783.9,88.2 L783.5,89.0 L782.7,88.6 L781.9,88.2 L781.3,88.9 L780.7,89.6 L780.0,89.0 L779.4,88.3 L778.7,88.9 L777.9,89.4 L777.3,88.6 L776.9,87.8 L776.1,88.2 L775.2,88.5 L774.9,87.6 L774.7,86.7 L773.8,86.8 L772.9,86.8 L772.9,85.9 L773.0,85.0 L772.1,84.9 L771.1,84.6 L771.4,83.7 L771.8,82.9 L770.9,82.5 L770.1,82.0 L770.6,81.3 L771.2,80.6 L770.5,80.0 L769.9,79.3 L770.6,78.7 L771.4,78.2 L770.9,77.5 L770.5,76.6 L771.4,76.3 L772.3,76.0 L772.1,75.1 L771.9,74.2 L772.9,74.1 L773.8,74.1 L773.8,73.2 L773.9,72.3 L774.9,72.4 L775.8,72.7 L776.1,71.8 L776.5,71.0 L777.3,71.4 L778.1,71.8 L778.7,71.1 L779.3,70.4 L780.0,71.0 L780.6,71.7 L781.3,71.1 L782.1,70.6 L782.7,71.4 L783.1,72.2 L783.9,71.8 L784.8,71.5 L785.1,72.4 L785.3,73.3 L786.2,73.2 L787.1,73.2 L787.1,74.1 L787.0,75.0 L787.9,75.1 L788.9,75.4 L788.6,76.3 L788.2,77.1 L789.1,77.5 L789.9,78.0 L789.4,78.7 L788.8,79.4Z" fill="#d3a395"/>
<ellipse cx="779.1" cy="78.7" rx="4.0" ry="3.1" fill="#bb8474"/>
<path d="M791.0,95.0 L791.6,95.7 L790.9,96.3 L790.1,96.8 L790.6,97.5 L791.0,98.4 L790.1,98.7 L789.2,99.0 L789.4,99.9 L789.6,100.8 L788.6,100.9 L787.7,100.9 L787.7,101.8 L787.6,102.7 L786.6,102.6 L785.7,102.3 L785.4,103.2 L785.0,104.0 L784.2,103.6 L783.4,103.2 L782.8,103.9 L782.2,104.6 L781.5,104.0 L780.9,103.3 L780.2,103.9 L779.4,104.4 L778.8,103.6 L778.4,102.8 L777.6,103.2 L776.7,103.5 L776.4,102.6 L776.2,101.7 L775.3,101.8 L774.4,101.8 L774.4,100.9 L774.5,100.0 L773.6,99.9 L772.6,99.6 L772.9,98.7 L773.3,97.9 L772.4,97.5 L771.6,97.0 L772.1,96.3 L772.7,95.6 L772.0,95.0 L771.4,94.3 L772.1,93.7 L772.9,93.2 L772.4,92.5 L772.0,91.6 L772.9,91.3 L773.8,91.0 L773.6,90.1 L773.4,89.2 L774.4,89.1 L775.3,89.1 L775.3,88.2 L775.4,87.3 L776.4,87.4 L777.3,87.7 L777.6,86.8 L778.0,86.0 L778.8,86.4 L779.6,86.8 L780.2,86.1 L780.8,85.4 L781.5,86.0 L782.1,86.7 L782.8,86.1 L783.6,85.6 L784.2,86.4 L784.6,87.2 L785.4,86.8 L786.3,86.5 L786.6,87.4 L786.8,88.3 L787.7,88.2 L788.6,88.2 L788.6,89.1 L788.5,90.0 L789.4,90.1 L790.4,90.4 L790.1,91.3 L789.7,92.1 L790.6,92.5 L791.4,93.0 L790.9,93.7 L790.3,94.4Z" fill="#d3a395"/>
<ellipse cx="780.6" cy="93.7" rx="4.0" ry="3.1" fill="#bb8474"/>
<path d="M789.5,110.0 L790.1,110.7 L789.4,111.3 L788.6,111.8 L789.1,112.5 L789.5,113.4 L788.6,113.7 L787.7,114.0 L787.9,114.9 L788.1,115.8 L787.1,115.9 L786.2,115.9 L786.2,116.8 L786.1,117.7 L785.1,117.6 L784.2,117.3 L783.9,118.2 L783.5,119.0 L782.7,118.6 L781.9,118.2 L781.3,118.9 L780.7,119.6 L780.0,119.0 L779.4,118.3 L778.7,118.9 L777.9,119.4 L777.3,118.6 L776.9,117.8 L776.1,118.2 L775.2,118.5 L774.9,117.6 L774.7,116.7 L773.8,116.8 L772.9,116.8 L772.9,115.9 L773.0,115.0 L772.1,114.9 L771.1,114.6 L771.4,113.7 L771.8,112.9 L770.9,112.5 L770.1,112.0 L770.6,111.3 L771.2,110.6 L770.5,110.0 L769.9,109.3 L770.6,108.7 L771.4,108.2 L770.9,107.5 L770.5,106.6 L771.4,106.3 L772.3,106.0 L772.1,105.1 L771.9,104.2 L772.9,104.1 L773.8,104.1 L773.8,103.2 L773.9,102.3 L774.9,102.4 L775.8,102.7 L776.1,101.8 L776.5,101.0 L777.3,101.4 L778.1,101.8 L778.7,101.1 L779.3,100.4 L780.0,101.0 L780.6,101.7 L781.3,101.1 L782.1,100.6 L782.7,101.4 L783.1,102.2 L783.9,101.8 L784.8,101.5 L785.1,102.4 L785.3,103.3 L786.2,103.2 L787.1,103.2 L787.1,104.1 L787.0,105.0 L787.9,105.1 L788.9,105.4 L788.6,106.3 L788.2,107.1 L789.1,107.5 L789.9,108.0 L789.4,108.7 L788.8,109.4Z" fill="#d3a395"/>
<ellipse cx="779.1" cy="108.7" rx="4.0" ry="3.1" fill="#bb8474"/>
<path d="M681.5,160.0 L682.1,160.7 L681.4,161.3 L680.6,161.8 L681.1,162.5 L681.5,163.4 L680.6,163.7 L679.7,164.0 L679.9,164.9 L680.1,165.8 L679.1,165.9 L678.2,165.9 L678.2,166.8 L678.1,167.7 L677.1,167.6 L676.2,167.3 L675.9,168.2 L675.5,169.0 L674.7,168.6 L673.9,168.2 L673.3,168.9 L672.7,169.6 L672.0,169.0 L671.4,168.3 L670.7,168.9 L669.9,169.4 L669.3,168.6 L668.9,167.8 L668.1,168.2 L667.2,168.5 L666.9,167.6 L666.7,166.7 L665.8,166.8 L664.9,166.8 L664.9,165.9 L665.0,165.0 L664.1,164.9 L663.1,164.6 L663.4,163.7 L663.8,162.9 L662.9,162.5 L662.1,162.0 L662.6,161.3 L663.2,160.6 L662.5,160.0 L661.9,159.3 L662.6,158.7 L663.4,158.2 L662.9,157.5 L662.5,156.6 L663.4,156.3 L664.3,156.0 L664.1,155.1 L663.9,154.2 L664.9,154.1 L665.8,154.1 L665.8,153.2 L665.9,152.3 L666.9,152.4 L667.8,152.7 L668.1,151.8 L668.5,151.0 L669.3,151.4 L670.1,151.8 L670.7,151.1 L671.3,150.4 L672.0,151.0 L672.6,151.7 L673.3,151.1 L674.1,150.6 L674.7,151.4 L675.1,152.2 L675.9,151.8 L676.8,151.5 L677.1,152.4 L677.3,153.3 L678.2,153.2 L679.1,153.2 L679.1,154.1 L679.0,155.0 L679.9,155.1 L680.9,155.4 L680.6,156.3 L680.2,157.1 L681.1,157.5 L681.9,158.0 L681.4,158.7 L680.8,159.4Z" fill="#d3a395"/>
<ellipse cx="671.1" cy="158.7" rx="4.0" ry="3.1" fill="#bb8474"/>
<path d="M697.5,163.0 L698.1,163.7 L697.4,164.3 L696.6,164.8 L697.1,165.5 L697.5,166.4 L696.6,166.7 L695.7,167.0 L695.9,167.9 L696.1,168.8 L695.1,168.9 L694.2,168.9 L694.2,169.8 L694.1,170.7 L693.1,170.6 L692.2,170.3 L691.9,171.2 L691.5,172.0 L690.7,171.6 L689.9,171.2 L689.3,171.9 L688.7,172.6 L688.0,172.0 L687.4,171.3 L686.7,171.9 L685.9,172.4 L685.3,171.6 L684.9,170.8 L684.1,171.2 L683.2,171.5 L682.9,170.6 L682.7,169.7 L681.8,169.8 L680.9,169.8 L680.9,168.9 L681.0,168.0 L680.1,167.9 L679.1,167.6 L679.4,166.7 L679.8,165.9 L678.9,165.5 L678.1,165.0 L678.6,164.3 L679.2,163.6 L678.5,163.0 L677.9,162.3 L678.6,161.7 L679.4,161.2 L678.9,160.5 L678.5,159.6 L679.4,159.3 L680.3,159.0 L680.1,158.1 L679.9,157.2 L680.9,157.1 L681.8,157.1 L681.8,156.2 L681.9,155.3 L682.9,155.4 L683.8,155.7 L684.1,154.8 L684.5,154.0 L685.3,154.4 L686.1,154.8 L686.7,154.1 L687.3,153.4 L688.0,154.0 L688.6,154.7 L689.3,154.1 L690.1,153.6 L690.7,154.4 L691.1,155.2 L691.9,154.8 L692.8,154.5 L693.1,155.4 L693.3,156.3 L694.2,156.2 L695.1,156.2 L695.1,157.1 L695.0,158.0 L695.9,158.1 L696.9,158.4 L696.6,159.3 L696.2,160.1 L697.1,160.5 L697.9,161.0 L697.4,161.7 L696.8,162.4Z" fill="#d3a395"/>
<ellipse cx="687.1" cy="161.7" rx="4.0" ry="3.1" fill="#bb8474"/>
<g transform="translate(716.5 137.5) rotate(-13.7)"><path d="M-23.2,0 Q-11.6,-4.5 0,-4.5 Q11.6,-4.5 23.2,-1.3 L20.2,0 L23.2,2.2 Q11.6,4.5 0,4.5 Q-11.6,4.5 -23.2,0Z" fill="#c27968"/><ellipse cx="0" cy="0" rx="6.5" ry="2.2" fill="#9e4a3c"/></g>
<ellipse cx="685.8" cy="133" rx="3" ry="6" fill="#b27ad6"/>
<path d="M696.4,85.8 L697.1,87.3 L696.1,88.6 L695.0,89.7 L695.2,91.3 L695.1,92.9 L693.7,93.7 L692.2,94.2 L691.7,95.7 L690.9,97.1 L689.3,97.2 L687.7,97.0 L686.6,98.1 L685.3,99.1 L683.8,98.4 L682.5,97.6 L681.0,98.1 L679.4,98.4 L678.3,97.2 L677.5,95.9 L675.9,95.7 L674.3,95.3 L673.9,93.7 L673.7,92.1 L672.4,91.3 L671.2,90.2 L671.5,88.6 L672.0,87.1 L671.2,85.8 L670.5,84.3 L671.5,83.0 L672.6,81.9 L672.4,80.3 L672.5,78.7 L673.9,77.9 L675.4,77.4 L675.9,75.9 L676.7,74.5 L678.3,74.4 L679.9,74.6 L681.0,73.5 L682.3,72.5 L683.8,73.2 L685.1,74.0 L686.6,73.5 L688.2,73.2 L689.3,74.4 L690.1,75.7 L691.7,75.9 L693.3,76.3 L693.7,77.9 L693.9,79.5 L695.2,80.3 L696.4,81.4 L696.1,83.0 L695.6,84.5Z" fill="#f9c9bd" opacity="0.85"/>
<path d="M743.0,67.3 L743.8,69.0 L742.7,70.4 L741.4,71.7 L741.6,73.4 L741.6,75.2 L740.0,76.0 L738.3,76.6 L737.7,78.3 L736.9,79.9 L735.1,79.9 L733.4,79.7 L732.1,81.0 L730.7,82.1 L729.0,81.3 L727.5,80.4 L725.9,81.0 L724.1,81.3 L722.9,79.9 L722.0,78.5 L720.3,78.3 L718.5,77.8 L718.0,76.0 L717.8,74.3 L716.4,73.4 L715.0,72.2 L715.3,70.4 L715.9,68.8 L715.0,67.3 L714.2,65.6 L715.3,64.2 L716.6,62.9 L716.4,61.2 L716.4,59.4 L718.0,58.6 L719.7,58.0 L720.3,56.3 L721.1,54.7 L722.9,54.7 L724.6,54.9 L725.9,53.6 L727.3,52.5 L729.0,53.3 L730.5,54.2 L732.1,53.6 L733.9,53.3 L735.1,54.7 L736.0,56.1 L737.7,56.3 L739.5,56.8 L740.0,58.6 L740.2,60.3 L741.6,61.2 L743.0,62.4 L742.7,64.2 L742.1,65.8Z" fill="#f9c9bd" opacity="0.85"/>
<path d="M717.6,73.5 L718.5,75.3 L717.2,76.9 L715.9,78.3 L716.1,80.2 L716.1,82.2 L714.3,83.1 L712.5,83.8 L711.8,85.6 L710.9,87.4 L708.9,87.4 L707.0,87.2 L705.6,88.5 L704.0,89.8 L702.2,88.9 L700.6,87.9 L698.8,88.5 L696.8,88.9 L695.5,87.4 L694.5,85.8 L692.6,85.6 L690.6,85.1 L690.1,83.1 L689.9,81.2 L688.3,80.2 L686.8,78.9 L687.2,76.9 L687.8,75.1 L686.8,73.5 L685.9,71.7 L687.2,70.1 L688.5,68.7 L688.3,66.8 L688.3,64.8 L690.1,63.9 L691.9,63.2 L692.6,61.4 L693.5,59.6 L695.5,59.6 L697.4,59.8 L698.8,58.5 L700.4,57.2 L702.2,58.1 L703.8,59.1 L705.6,58.5 L707.6,58.1 L708.9,59.6 L709.9,61.2 L711.8,61.4 L713.8,61.9 L714.3,63.9 L714.5,65.8 L716.1,66.8 L717.6,68.1 L717.2,70.1 L716.6,71.9Z" fill="#f9c9bd" opacity="0.85"/>
<path d="M713.8,111.5 L714.5,113.0 L713.5,114.3 L712.4,115.4 L712.6,117.0 L712.5,118.6 L711.1,119.4 L709.6,119.9 L709.1,121.4 L708.3,122.8 L706.7,122.9 L705.1,122.7 L704.0,123.8 L702.7,124.8 L701.2,124.1 L699.9,123.3 L698.4,123.8 L696.8,124.1 L695.7,122.9 L694.9,121.6 L693.3,121.4 L691.7,121.0 L691.3,119.4 L691.1,117.8 L689.8,117.0 L688.6,115.9 L688.9,114.3 L689.4,112.8 L688.6,111.5 L687.9,110.0 L688.9,108.7 L690.0,107.6 L689.8,106.0 L689.9,104.4 L691.3,103.6 L692.8,103.1 L693.3,101.6 L694.1,100.2 L695.7,100.1 L697.3,100.3 L698.4,99.2 L699.7,98.2 L701.2,98.9 L702.5,99.7 L704.0,99.2 L705.6,98.9 L706.7,100.1 L707.5,101.4 L709.1,101.6 L710.7,102.0 L711.1,103.6 L711.3,105.2 L712.6,106.0 L713.8,107.1 L713.5,108.7 L713.0,110.2Z" fill="#f9c9bd" opacity="0.85"/>
<path d="M738.9,78.6 L739.9,80.8 L738.5,82.7 L736.9,84.3 L737.1,86.5 L737.1,88.9 L735.0,90.0 L732.8,90.7 L732.1,92.9 L731.0,95.0 L728.6,95.0 L726.4,94.8 L724.8,96.4 L722.9,97.8 L720.7,96.8 L718.8,95.6 L716.6,96.4 L714.3,96.8 L712.8,95.0 L711.6,93.1 L709.3,92.9 L707.0,92.3 L706.4,90.0 L706.2,87.7 L704.3,86.5 L702.5,85.0 L702.9,82.7 L703.7,80.5 L702.5,78.6 L701.5,76.4 L702.9,74.5 L704.5,72.9 L704.3,70.7 L704.3,68.3 L706.4,67.2 L708.6,66.5 L709.3,64.3 L710.4,62.2 L712.8,62.2 L715.0,62.4 L716.6,60.8 L718.5,59.4 L720.7,60.4 L722.6,61.6 L724.8,60.8 L727.1,60.4 L728.6,62.2 L729.8,64.1 L732.1,64.3 L734.4,64.9 L735.0,67.2 L735.2,69.5 L737.1,70.7 L738.9,72.2 L738.5,74.5 L737.7,76.7Z" fill="#f9c9bd" opacity="0.85"/>
<path d="M717.4,95.0 L718.4,97.2 L717.0,99.1 L715.4,100.7 L715.6,102.9 L715.6,105.3 L713.5,106.4 L711.3,107.1 L710.6,109.3 L709.5,111.4 L707.1,111.4 L704.9,111.2 L703.3,112.8 L701.4,114.2 L699.2,113.2 L697.3,112.0 L695.1,112.8 L692.8,113.2 L691.3,111.4 L690.1,109.5 L687.8,109.3 L685.5,108.7 L684.9,106.4 L684.7,104.1 L682.8,102.9 L681.0,101.4 L681.4,99.1 L682.2,96.9 L681.0,95.0 L680.0,92.8 L681.4,90.9 L683.0,89.3 L682.8,87.1 L682.8,84.7 L684.9,83.6 L687.1,82.9 L687.8,80.7 L688.9,78.6 L691.3,78.6 L693.5,78.8 L695.1,77.2 L697.0,75.8 L699.2,76.8 L701.1,78.0 L703.3,77.2 L705.6,76.8 L707.1,78.6 L708.3,80.5 L710.6,80.7 L712.9,81.3 L713.5,83.6 L713.7,85.9 L715.6,87.1 L717.4,88.6 L717.0,90.9 L716.2,93.1Z" fill="#f9c9bd" opacity="0.85"/>
<path d="M760.1,106.3 L761.0,108.3 L759.7,110.0 L758.2,111.5 L758.5,113.6 L758.4,115.8 L756.5,116.8 L754.5,117.5 L753.8,119.5 L752.8,121.4 L750.6,121.5 L748.5,121.2 L747.0,122.7 L745.3,124.0 L743.3,123.1 L741.5,122.0 L739.6,122.7 L737.4,123.1 L736.0,121.5 L734.9,119.7 L732.8,119.5 L730.7,118.9 L730.1,116.8 L729.9,114.7 L728.1,113.6 L726.5,112.2 L726.9,110.0 L727.6,108.1 L726.5,106.3 L725.6,104.3 L726.9,102.6 L728.4,101.1 L728.1,99.0 L728.2,96.8 L730.1,95.8 L732.1,95.1 L732.8,93.1 L733.8,91.2 L736.0,91.1 L738.1,91.4 L739.6,89.9 L741.3,88.6 L743.3,89.5 L745.1,90.6 L747.0,89.9 L749.2,89.5 L750.6,91.1 L751.7,92.9 L753.8,93.1 L755.9,93.7 L756.5,95.8 L756.7,97.9 L758.5,99.0 L760.1,100.4 L759.7,102.6 L759.0,104.5Z" fill="#f9c9bd" opacity="0.85"/>
<path d="M739.6,103.3 L740.5,105.3 L739.2,107.0 L737.7,108.5 L738.0,110.6 L737.9,112.8 L736.0,113.8 L734.0,114.5 L733.3,116.5 L732.3,118.4 L730.1,118.5 L728.0,118.2 L726.5,119.7 L724.8,121.0 L722.8,120.1 L721.0,119.0 L719.1,119.7 L716.9,120.1 L715.5,118.5 L714.4,116.7 L712.3,116.5 L710.2,115.9 L709.6,113.8 L709.4,111.7 L707.6,110.6 L706.0,109.2 L706.4,107.0 L707.1,105.1 L706.0,103.3 L705.1,101.3 L706.4,99.6 L707.9,98.1 L707.6,96.0 L707.7,93.8 L709.6,92.8 L711.6,92.1 L712.3,90.1 L713.3,88.2 L715.5,88.1 L717.6,88.4 L719.1,86.9 L720.8,85.6 L722.8,86.5 L724.6,87.6 L726.5,86.9 L728.7,86.5 L730.1,88.1 L731.2,89.9 L733.3,90.1 L735.4,90.7 L736.0,92.8 L736.2,94.9 L738.0,96.0 L739.6,97.4 L739.2,99.6 L738.5,101.5Z" fill="#f9c9bd" opacity="0.85"/>
<path d="M694.1,85.8 L694.7,87.0 L693.9,88.1 L693.0,89.0 L693.1,90.3 L693.1,91.6 L691.9,92.3 L690.7,92.7 L690.3,93.9 L689.6,95.1 L688.3,95.1 L687.0,95.0 L686.1,95.9 L685.0,96.7 L683.8,96.1 L682.7,95.5 L681.5,95.9 L680.2,96.2 L679.3,95.1 L678.6,94.0 L677.3,93.9 L676.0,93.6 L675.7,92.3 L675.6,91.0 L674.5,90.3 L673.4,89.4 L673.7,88.1 L674.1,86.9 L673.4,85.8 L672.9,84.6 L673.7,83.5 L674.6,82.6 L674.5,81.3 L674.5,80.0 L675.7,79.3 L676.9,78.9 L677.3,77.7 L678.0,76.5 L679.3,76.5 L680.6,76.6 L681.5,75.7 L682.6,74.9 L683.8,75.5 L684.9,76.1 L686.1,75.7 L687.4,75.4 L688.3,76.5 L689.0,77.6 L690.3,77.7 L691.6,78.0 L691.9,79.3 L692.0,80.6 L693.1,81.3 L694.2,82.2 L693.9,83.5 L693.5,84.7Z" fill="#fbd3cb" opacity="1"/>
<circle cx="683.8" cy="85.8" r="4.1" fill="#f7c0b4" opacity="1"/>
<path d="M740.5,67.3 L741.1,68.7 L740.2,69.9 L739.2,70.9 L739.4,72.3 L739.3,73.8 L738.0,74.5 L736.6,74.9 L736.2,76.3 L735.5,77.6 L734.0,77.7 L732.6,77.5 L731.6,78.5 L730.4,79.4 L729.0,78.8 L727.8,78.0 L726.4,78.5 L725.0,78.8 L724.0,77.7 L723.2,76.5 L721.8,76.3 L720.4,75.9 L720.0,74.5 L719.8,73.1 L718.6,72.3 L717.5,71.3 L717.8,69.9 L718.3,68.5 L717.5,67.3 L716.9,65.9 L717.8,64.7 L718.8,63.7 L718.6,62.3 L718.7,60.8 L720.0,60.1 L721.4,59.7 L721.8,58.3 L722.5,57.0 L724.0,56.9 L725.4,57.1 L726.4,56.1 L727.6,55.2 L729.0,55.8 L730.2,56.6 L731.6,56.1 L733.0,55.8 L734.0,56.9 L734.8,58.1 L736.2,58.3 L737.6,58.7 L738.0,60.1 L738.2,61.5 L739.4,62.3 L740.5,63.3 L740.2,64.7 L739.7,66.1Z" fill="#fbd3cb" opacity="1"/>
<circle cx="729.0" cy="67.3" r="4.6" fill="#f7c0b4" opacity="1"/>
<path d="M714.9,73.5 L715.5,75.0 L714.5,76.3 L713.4,77.4 L713.6,79.0 L713.6,80.6 L712.1,81.4 L710.6,81.9 L710.1,83.4 L709.3,84.9 L707.7,84.9 L706.1,84.7 L705.0,85.8 L703.7,86.8 L702.2,86.2 L700.9,85.3 L699.4,85.8 L697.8,86.2 L696.7,84.9 L695.9,83.6 L694.3,83.4 L692.7,83.0 L692.3,81.4 L692.1,79.8 L690.8,79.0 L689.5,77.9 L689.9,76.3 L690.4,74.8 L689.6,73.5 L688.9,72.0 L689.9,70.7 L691.0,69.6 L690.8,68.0 L690.8,66.4 L692.3,65.6 L693.8,65.1 L694.3,63.6 L695.1,62.1 L696.7,62.1 L698.3,62.3 L699.4,61.2 L700.7,60.2 L702.2,60.9 L703.5,61.7 L705.0,61.2 L706.6,60.8 L707.7,62.1 L708.5,63.4 L710.1,63.6 L711.7,64.0 L712.1,65.6 L712.3,67.2 L713.6,68.0 L714.9,69.1 L714.5,70.7 L714.0,72.2Z" fill="#f7b0a2" opacity="1"/>
<circle cx="702.2" cy="73.5" r="5.1" fill="#efa08e" opacity="1"/>
<path d="M711.6,111.5 L712.1,112.7 L711.3,113.8 L710.4,114.7 L710.5,116.0 L710.5,117.3 L709.3,118.0 L708.1,118.4 L707.7,119.6 L707.0,120.8 L705.7,120.8 L704.4,120.7 L703.5,121.6 L702.4,122.4 L701.2,121.8 L700.1,121.2 L698.9,121.6 L697.6,121.9 L696.7,120.8 L696.0,119.7 L694.7,119.6 L693.4,119.3 L693.1,118.0 L693.0,116.7 L691.9,116.0 L690.8,115.1 L691.1,113.8 L691.5,112.6 L690.9,111.5 L690.3,110.3 L691.1,109.2 L692.0,108.3 L691.9,107.0 L691.9,105.7 L693.1,105.0 L694.3,104.6 L694.7,103.4 L695.4,102.2 L696.7,102.2 L698.0,102.3 L698.9,101.4 L700.0,100.6 L701.2,101.2 L702.3,101.8 L703.5,101.4 L704.8,101.1 L705.7,102.2 L706.4,103.3 L707.7,103.4 L709.0,103.7 L709.3,105.0 L709.4,106.3 L710.5,107.0 L711.6,107.9 L711.3,109.2 L710.9,110.4Z" fill="#f8b9ad" opacity="1"/>
<circle cx="701.2" cy="111.5" r="4.1" fill="#f0a898" opacity="1"/>
<path d="M735.7,78.6 L736.4,80.4 L735.3,81.9 L734.0,83.2 L734.2,85.1 L734.1,87.0 L732.4,87.9 L730.6,88.5 L730.0,90.3 L729.1,92.0 L727.2,92.1 L725.3,91.9 L724.0,93.2 L722.5,94.3 L720.7,93.5 L719.1,92.6 L717.4,93.2 L715.5,93.6 L714.2,92.1 L713.2,90.5 L711.4,90.3 L709.5,89.8 L709.0,87.9 L708.8,86.1 L707.2,85.1 L705.7,83.8 L706.1,81.9 L706.7,80.2 L705.8,78.6 L705.0,76.8 L706.1,75.3 L707.4,74.0 L707.2,72.1 L707.3,70.2 L709.0,69.3 L710.8,68.7 L711.4,66.9 L712.3,65.2 L714.2,65.1 L716.1,65.3 L717.4,64.0 L718.9,62.9 L720.7,63.6 L722.3,64.6 L724.0,64.0 L725.9,63.6 L727.2,65.1 L728.2,66.7 L730.0,66.9 L731.9,67.4 L732.4,69.3 L732.6,71.1 L734.2,72.1 L735.7,73.4 L735.3,75.3 L734.7,77.0Z" fill="#f5a394" opacity="1"/>
<circle cx="720.7" cy="78.6" r="6.0" fill="#e58468" opacity="1"/>
<path d="M714.2,95.0 L714.9,96.8 L713.8,98.3 L712.5,99.6 L712.7,101.5 L712.6,103.4 L710.9,104.3 L709.1,104.9 L708.5,106.7 L707.6,108.4 L705.7,108.5 L703.8,108.3 L702.5,109.6 L701.0,110.7 L699.2,110.0 L697.6,109.0 L695.9,109.6 L694.0,110.0 L692.7,108.5 L691.7,106.9 L689.9,106.7 L688.0,106.2 L687.5,104.3 L687.3,102.5 L685.7,101.5 L684.2,100.2 L684.6,98.3 L685.2,96.6 L684.2,95.0 L683.5,93.2 L684.6,91.7 L685.9,90.4 L685.7,88.5 L685.8,86.6 L687.5,85.7 L689.3,85.1 L689.9,83.3 L690.8,81.6 L692.7,81.5 L694.6,81.7 L695.9,80.4 L697.4,79.3 L699.2,80.0 L700.8,81.0 L702.5,80.4 L704.4,80.0 L705.7,81.5 L706.7,83.1 L708.5,83.3 L710.4,83.8 L710.9,85.7 L711.1,87.5 L712.7,88.5 L714.2,89.8 L713.8,91.7 L713.2,93.4Z" fill="#f5a394" opacity="1"/>
<circle cx="699.2" cy="95.0" r="6.0" fill="#e58468" opacity="1"/>
<path d="M757.1,106.3 L757.8,107.9 L756.8,109.4 L755.5,110.6 L755.7,112.3 L755.7,114.1 L754.1,114.9 L752.5,115.5 L751.9,117.1 L751.1,118.7 L749.3,118.7 L747.6,118.5 L746.4,119.8 L744.9,120.8 L743.3,120.1 L741.8,119.2 L740.2,119.8 L738.5,120.1 L737.3,118.7 L736.4,117.3 L734.7,117.1 L733.0,116.6 L732.5,114.9 L732.3,113.2 L730.9,112.3 L729.5,111.1 L729.8,109.4 L730.4,107.8 L729.5,106.3 L728.8,104.7 L729.8,103.2 L731.1,102.0 L730.9,100.3 L730.9,98.5 L732.5,97.7 L734.1,97.1 L734.7,95.5 L735.5,93.9 L737.3,93.9 L739.0,94.1 L740.2,92.8 L741.7,91.8 L743.3,92.5 L744.8,93.4 L746.4,92.8 L748.1,92.5 L749.3,93.9 L750.2,95.3 L751.9,95.5 L753.6,96.0 L754.1,97.7 L754.3,99.4 L755.7,100.3 L757.1,101.5 L756.8,103.2 L756.2,104.8Z" fill="#f5a394" opacity="1"/>
<circle cx="743.3" cy="106.3" r="5.5" fill="#e58468" opacity="1"/>
<path d="M736.6,103.3 L737.3,104.9 L736.3,106.4 L735.0,107.6 L735.2,109.3 L735.2,111.1 L733.6,111.9 L732.0,112.5 L731.4,114.1 L730.6,115.7 L728.8,115.7 L727.1,115.5 L725.9,116.8 L724.4,117.8 L722.8,117.1 L721.3,116.2 L719.7,116.8 L718.0,117.1 L716.8,115.7 L715.9,114.3 L714.2,114.1 L712.5,113.6 L712.0,111.9 L711.8,110.2 L710.4,109.3 L709.0,108.1 L709.3,106.4 L709.9,104.8 L709.0,103.3 L708.3,101.7 L709.3,100.2 L710.6,99.0 L710.4,97.3 L710.4,95.5 L712.0,94.7 L713.6,94.1 L714.2,92.5 L715.0,90.9 L716.8,90.9 L718.5,91.1 L719.7,89.8 L721.2,88.8 L722.8,89.5 L724.3,90.4 L725.9,89.8 L727.6,89.5 L728.8,90.9 L729.7,92.3 L731.4,92.5 L733.1,93.0 L733.6,94.7 L733.8,96.4 L735.2,97.3 L736.6,98.5 L736.3,100.2 L735.7,101.8Z" fill="#f5a394" opacity="1"/>
<circle cx="722.8" cy="103.3" r="5.5" fill="#e58468" opacity="1"/>
<path d="M765.1,110.0 L765.0,111.0 L764.5,112.0 L763.7,112.8 L762.8,113.5 L762.0,114.0 L761.2,114.5 L760.5,115.0 L759.9,115.5 L759.3,115.9 L758.7,116.3 L757.9,116.6 L757.2,116.8 L756.4,116.8 L755.7,116.8 L755.0,116.8 L754.3,116.9 L753.5,117.1 L752.6,117.5 L751.5,117.8 L750.4,118.0 L749.2,118.0 L748.1,117.6 L747.4,116.9 L746.9,115.9 L746.9,114.7 L747.3,113.4 L747.8,112.3 L748.4,111.4 L748.8,110.6 L749.1,110.0 L749.0,109.4 L748.8,108.7 L748.5,107.9 L748.2,107.0 L748.1,106.0 L748.3,105.1 L748.6,104.3 L749.2,103.6 L749.9,103.0 L750.7,102.5 L751.4,102.0 L752.3,101.6 L753.1,101.2 L754.0,100.9 L755.0,100.8 L755.9,101.0 L756.8,101.5 L757.5,102.3 L758.0,103.2 L758.4,104.2 L758.6,105.0 L758.8,105.7 L759.2,106.2 L759.9,106.5 L760.8,106.7 L761.9,106.9 L763.0,107.4 L764.0,108.1 L764.8,109.0Z" fill="#f5a394"/>
<path d="M659.5,275.0 C659.2,278.7 658.8,287.7 662.0,294.0 C665.2,300.3 668.7,308.2 678.5,313.0 C688.3,317.8 705.9,321.5 721.0,322.7 C736.1,323.9 756.3,322.7 769.0,320.3 C781.7,317.9 789.5,313.5 797.4,308.4 C805.3,303.2 812.1,296.9 816.5,289.4 C820.9,281.9 822.8,272.3 823.6,263.2 C824.4,254.1 823.2,243.4 821.2,234.7 C819.2,226.0 815.7,217.7 811.7,211.0 C807.7,204.3 803.0,197.9 797.4,194.3 C791.8,190.7 784.3,189.5 778.4,189.5 C772.5,189.5 765.2,191.7 761.8,194.3 C758.4,196.9 756.3,199.9 758.0,205.0 C759.7,210.1 771.3,217.5 772.0,225.0 C772.7,232.5 766.0,242.5 762.0,250.0 C758.0,257.5 755.0,265.0 748.0,270.0 C741.0,275.0 729.7,278.5 720.0,280.0 C710.3,281.5 699.3,280.3 690.0,279.0 C680.7,277.7 669.1,272.7 664.0,272.0 C658.9,271.3 659.8,271.3 659.5,275.0Z" fill="url(#boneD)"/>
<path d="M659.5,258.5 L664.6,256.9 L669.6,257.4 L674.7,257.2 L679.7,258.0 L684.8,256.2 L689.8,257.0 L694.9,258.0 L699.9,256.3 L705.0,256.0 " stroke="#3e4651" stroke-width="1" fill="none" stroke-dasharray="2 0.8"/>
<path d="M658.0,246.7 Q662.0,252.5 661.0,258.4 Q660.0,263.6 663.0,268.9" stroke="#8f99a4" stroke-width="0.85" fill="none"/>
<path d="M663.4,244.5 Q667.4,251.3 666.4,258.1 Q665.4,263.5 668.4,268.9" stroke="#8f99a4" stroke-width="0.85" fill="none"/>
<path d="M669.8,248.5 Q673.8,253.1 672.8,257.8 Q671.8,262.1 674.8,266.4" stroke="#8f99a4" stroke-width="0.85" fill="none"/>
<path d="M674.6,245.6 Q678.6,251.5 677.6,257.5 Q676.6,262.3 679.6,267.2" stroke="#8f99a4" stroke-width="0.85" fill="none"/>
<path d="M681.5,247.0 Q685.5,252.1 684.5,257.2 Q683.5,261.4 686.5,265.6" stroke="#8f99a4" stroke-width="0.85" fill="none"/>
<path d="M687.3,246.0 Q691.3,251.4 690.3,256.8 Q689.3,263.5 692.3,270.1" stroke="#8f99a4" stroke-width="0.85" fill="none"/>
<path d="M691.5,244.8 Q695.5,250.7 694.5,256.5 Q693.5,263.1 696.5,269.7" stroke="#8f99a4" stroke-width="0.85" fill="none"/>
<path d="M697.7,246.7 Q701.7,251.5 700.7,256.2 Q699.7,261.8 702.7,267.5" stroke="#8f99a4" stroke-width="0.85" fill="none"/>
<path d="M776.8,201.0 L777.5,201.7 L776.7,202.4 L775.9,202.9 L776.4,203.8 L776.8,204.7 L775.9,205.1 L774.9,205.4 L775.2,206.3 L775.3,207.3 L774.3,207.4 L773.3,207.4 L773.2,208.4 L773.1,209.4 L772.1,209.2 L771.1,209.0 L770.8,209.9 L770.3,210.8 L769.4,210.4 L768.5,209.9 L768.0,210.7 L767.3,211.5 L766.5,210.8 L765.8,210.1 L765.0,210.7 L764.2,211.2 L763.6,210.4 L763.2,209.5 L762.2,209.9 L761.2,210.2 L760.9,209.2 L760.8,208.3 L759.8,208.4 L758.7,208.4 L758.7,207.4 L758.8,206.5 L757.8,206.3 L756.8,206.0 L757.1,205.1 L757.5,204.2 L756.6,203.8 L755.7,203.2 L756.3,202.4 L757.0,201.7 L756.2,201.0 L755.5,200.3 L756.3,199.6 L757.1,199.1 L756.6,198.2 L756.2,197.3 L757.1,196.9 L758.1,196.6 L757.8,195.7 L757.7,194.7 L758.7,194.6 L759.7,194.6 L759.8,193.6 L759.9,192.6 L760.9,192.8 L761.9,193.0 L762.2,192.1 L762.7,191.2 L763.6,191.6 L764.5,192.1 L765.0,191.3 L765.7,190.5 L766.5,191.2 L767.2,191.9 L768.0,191.3 L768.8,190.8 L769.4,191.6 L769.8,192.5 L770.8,192.1 L771.8,191.8 L772.1,192.8 L772.2,193.7 L773.2,193.6 L774.3,193.6 L774.3,194.6 L774.2,195.5 L775.2,195.7 L776.2,196.0 L775.9,196.9 L775.5,197.8 L776.4,198.2 L777.3,198.8 L776.7,199.6 L776.0,200.3Z" fill="#d3a395"/>
<ellipse cx="765.5" cy="199.5" rx="4.4" ry="3.4" fill="#bb8474"/>
<path d="M779.8,213.0 L780.5,213.7 L779.7,214.4 L778.9,214.9 L779.4,215.8 L779.8,216.7 L778.9,217.1 L777.9,217.4 L778.2,218.3 L778.3,219.3 L777.3,219.4 L776.3,219.4 L776.2,220.4 L776.1,221.4 L775.1,221.2 L774.1,221.0 L773.8,221.9 L773.3,222.8 L772.4,222.4 L771.5,221.9 L771.0,222.7 L770.3,223.5 L769.5,222.8 L768.8,222.1 L768.0,222.7 L767.2,223.2 L766.6,222.4 L766.2,221.5 L765.2,221.9 L764.2,222.2 L763.9,221.2 L763.8,220.3 L762.8,220.4 L761.7,220.4 L761.7,219.4 L761.8,218.5 L760.8,218.3 L759.8,218.0 L760.1,217.1 L760.5,216.2 L759.6,215.8 L758.7,215.2 L759.3,214.4 L760.0,213.7 L759.2,213.0 L758.5,212.3 L759.3,211.6 L760.1,211.1 L759.6,210.2 L759.2,209.3 L760.1,208.9 L761.1,208.6 L760.8,207.7 L760.7,206.7 L761.7,206.6 L762.7,206.6 L762.8,205.6 L762.9,204.6 L763.9,204.8 L764.9,205.0 L765.2,204.1 L765.7,203.2 L766.6,203.6 L767.5,204.1 L768.0,203.3 L768.7,202.5 L769.5,203.2 L770.2,203.9 L771.0,203.3 L771.8,202.8 L772.4,203.6 L772.8,204.5 L773.8,204.1 L774.8,203.8 L775.1,204.8 L775.2,205.7 L776.2,205.6 L777.3,205.6 L777.3,206.6 L777.2,207.5 L778.2,207.7 L779.2,208.0 L778.9,208.9 L778.5,209.8 L779.4,210.2 L780.3,210.8 L779.7,211.6 L779.0,212.3Z" fill="#d3a395"/>
<ellipse cx="768.5" cy="211.5" rx="4.4" ry="3.4" fill="#bb8474"/>
<path d="M780.3,225.2 L781.0,225.9 L780.2,226.6 L779.4,227.1 L779.9,228.0 L780.3,228.9 L779.4,229.3 L778.4,229.6 L778.7,230.5 L778.8,231.5 L777.8,231.6 L776.8,231.6 L776.7,232.6 L776.6,233.6 L775.6,233.4 L774.6,233.2 L774.3,234.1 L773.8,235.0 L772.9,234.6 L772.0,234.1 L771.5,234.9 L770.8,235.7 L770.0,235.0 L769.3,234.3 L768.5,234.9 L767.7,235.4 L767.1,234.6 L766.7,233.7 L765.7,234.1 L764.7,234.4 L764.4,233.4 L764.3,232.5 L763.3,232.6 L762.2,232.6 L762.2,231.6 L762.3,230.7 L761.3,230.5 L760.3,230.2 L760.6,229.3 L761.0,228.4 L760.1,228.0 L759.2,227.4 L759.8,226.6 L760.5,225.9 L759.7,225.2 L759.0,224.5 L759.8,223.8 L760.6,223.3 L760.1,222.4 L759.7,221.5 L760.6,221.1 L761.6,220.8 L761.3,219.9 L761.2,218.9 L762.2,218.8 L763.2,218.8 L763.3,217.8 L763.4,216.8 L764.4,217.0 L765.4,217.2 L765.7,216.3 L766.2,215.4 L767.1,215.8 L768.0,216.3 L768.5,215.5 L769.2,214.7 L770.0,215.4 L770.7,216.1 L771.5,215.5 L772.3,215.0 L772.9,215.8 L773.3,216.7 L774.3,216.3 L775.3,216.0 L775.6,217.0 L775.7,217.9 L776.7,217.8 L777.8,217.8 L777.8,218.8 L777.7,219.7 L778.7,219.9 L779.7,220.2 L779.4,221.1 L779.0,222.0 L779.9,222.4 L780.8,223.0 L780.2,223.8 L779.5,224.5Z" fill="#d3a395"/>
<ellipse cx="769.0" cy="223.7" rx="4.4" ry="3.4" fill="#bb8474"/>
<path d="M777.3,237.0 L778.0,237.7 L777.2,238.4 L776.4,238.9 L776.9,239.8 L777.3,240.7 L776.4,241.1 L775.4,241.4 L775.7,242.3 L775.8,243.3 L774.8,243.4 L773.8,243.4 L773.7,244.4 L773.6,245.4 L772.6,245.2 L771.6,245.0 L771.3,245.9 L770.8,246.8 L769.9,246.4 L769.0,245.9 L768.5,246.7 L767.8,247.5 L767.0,246.8 L766.3,246.1 L765.5,246.7 L764.7,247.2 L764.1,246.4 L763.7,245.5 L762.7,245.9 L761.7,246.2 L761.4,245.2 L761.3,244.3 L760.3,244.4 L759.2,244.4 L759.2,243.4 L759.3,242.5 L758.3,242.3 L757.3,242.0 L757.6,241.1 L758.0,240.2 L757.1,239.8 L756.2,239.2 L756.8,238.4 L757.5,237.7 L756.7,237.0 L756.0,236.3 L756.8,235.6 L757.6,235.1 L757.1,234.2 L756.7,233.3 L757.6,232.9 L758.6,232.6 L758.3,231.7 L758.2,230.7 L759.2,230.6 L760.2,230.6 L760.3,229.6 L760.4,228.6 L761.4,228.8 L762.4,229.0 L762.7,228.1 L763.2,227.2 L764.1,227.6 L765.0,228.1 L765.5,227.3 L766.2,226.5 L767.0,227.2 L767.7,227.9 L768.5,227.3 L769.3,226.8 L769.9,227.6 L770.3,228.5 L771.3,228.1 L772.3,227.8 L772.6,228.8 L772.7,229.7 L773.7,229.6 L774.8,229.6 L774.8,230.6 L774.7,231.5 L775.7,231.7 L776.7,232.0 L776.4,232.9 L776.0,233.8 L776.9,234.2 L777.8,234.8 L777.2,235.6 L776.5,236.3Z" fill="#d3a395"/>
<ellipse cx="766.0" cy="235.5" rx="4.4" ry="3.4" fill="#bb8474"/>
<path d="M772.3,247.0 L773.0,247.7 L772.2,248.4 L771.4,248.9 L771.9,249.8 L772.3,250.7 L771.4,251.1 L770.4,251.4 L770.7,252.3 L770.8,253.3 L769.8,253.4 L768.8,253.4 L768.7,254.4 L768.6,255.4 L767.6,255.2 L766.6,255.0 L766.3,255.9 L765.8,256.8 L764.9,256.4 L764.0,255.9 L763.5,256.7 L762.8,257.5 L762.0,256.8 L761.3,256.1 L760.5,256.7 L759.7,257.2 L759.1,256.4 L758.7,255.5 L757.7,255.9 L756.7,256.2 L756.4,255.2 L756.3,254.3 L755.3,254.4 L754.2,254.4 L754.2,253.4 L754.3,252.5 L753.3,252.3 L752.3,252.0 L752.6,251.1 L753.0,250.2 L752.1,249.8 L751.2,249.2 L751.8,248.4 L752.5,247.7 L751.7,247.0 L751.0,246.3 L751.8,245.6 L752.6,245.1 L752.1,244.2 L751.7,243.3 L752.6,242.9 L753.6,242.6 L753.3,241.7 L753.2,240.7 L754.2,240.6 L755.2,240.6 L755.3,239.6 L755.4,238.6 L756.4,238.8 L757.4,239.0 L757.7,238.1 L758.2,237.2 L759.1,237.6 L760.0,238.1 L760.5,237.3 L761.2,236.5 L762.0,237.2 L762.7,237.9 L763.5,237.3 L764.3,236.8 L764.9,237.6 L765.3,238.5 L766.3,238.1 L767.3,237.8 L767.6,238.8 L767.7,239.7 L768.7,239.6 L769.8,239.6 L769.8,240.6 L769.7,241.5 L770.7,241.7 L771.7,242.0 L771.4,242.9 L771.0,243.8 L771.9,244.2 L772.8,244.8 L772.2,245.6 L771.5,246.3Z" fill="#d3a395"/>
<ellipse cx="761.0" cy="245.5" rx="4.4" ry="3.4" fill="#bb8474"/>
<path d="M765.3,256.5 L766.0,257.2 L765.2,257.9 L764.4,258.4 L764.9,259.3 L765.3,260.2 L764.4,260.6 L763.4,260.9 L763.7,261.8 L763.8,262.8 L762.8,262.9 L761.8,262.9 L761.7,263.9 L761.6,264.9 L760.6,264.7 L759.6,264.5 L759.3,265.4 L758.8,266.3 L757.9,265.9 L757.0,265.4 L756.5,266.2 L755.8,267.0 L755.0,266.3 L754.3,265.6 L753.5,266.2 L752.7,266.7 L752.1,265.9 L751.7,265.0 L750.7,265.4 L749.7,265.7 L749.4,264.7 L749.3,263.8 L748.3,263.9 L747.2,263.9 L747.2,262.9 L747.3,262.0 L746.3,261.8 L745.3,261.5 L745.6,260.6 L746.0,259.7 L745.1,259.3 L744.2,258.7 L744.8,257.9 L745.5,257.2 L744.7,256.5 L744.0,255.8 L744.8,255.1 L745.6,254.6 L745.1,253.7 L744.7,252.8 L745.6,252.4 L746.6,252.1 L746.3,251.2 L746.2,250.2 L747.2,250.1 L748.2,250.1 L748.3,249.1 L748.4,248.1 L749.4,248.3 L750.4,248.5 L750.7,247.6 L751.2,246.7 L752.1,247.1 L753.0,247.6 L753.5,246.8 L754.2,246.0 L755.0,246.7 L755.7,247.4 L756.5,246.8 L757.3,246.3 L757.9,247.1 L758.3,248.0 L759.3,247.6 L760.3,247.3 L760.6,248.3 L760.7,249.2 L761.7,249.1 L762.8,249.1 L762.8,250.1 L762.7,251.0 L763.7,251.2 L764.7,251.5 L764.4,252.4 L764.0,253.3 L764.9,253.7 L765.8,254.3 L765.2,255.1 L764.5,255.8Z" fill="#d3a395"/>
<ellipse cx="754.0" cy="255.0" rx="4.4" ry="3.4" fill="#bb8474"/>
<path d="M757.3,265.6 L758.0,266.3 L757.2,267.0 L756.4,267.5 L756.9,268.4 L757.3,269.3 L756.4,269.7 L755.4,270.0 L755.7,270.9 L755.8,271.9 L754.8,272.0 L753.8,272.0 L753.7,273.0 L753.6,274.0 L752.6,273.8 L751.6,273.6 L751.3,274.5 L750.8,275.4 L749.9,275.0 L749.0,274.5 L748.5,275.3 L747.8,276.1 L747.0,275.4 L746.3,274.7 L745.5,275.3 L744.7,275.8 L744.1,275.0 L743.7,274.1 L742.7,274.5 L741.7,274.8 L741.4,273.8 L741.3,272.9 L740.3,273.0 L739.2,273.0 L739.2,272.0 L739.3,271.1 L738.3,270.9 L737.3,270.6 L737.6,269.7 L738.0,268.8 L737.1,268.4 L736.2,267.8 L736.8,267.0 L737.5,266.3 L736.7,265.6 L736.0,264.9 L736.8,264.2 L737.6,263.7 L737.1,262.8 L736.7,261.9 L737.6,261.5 L738.6,261.2 L738.3,260.3 L738.2,259.3 L739.2,259.2 L740.2,259.2 L740.3,258.2 L740.4,257.2 L741.4,257.4 L742.4,257.6 L742.7,256.7 L743.2,255.8 L744.1,256.2 L745.0,256.7 L745.5,255.9 L746.2,255.1 L747.0,255.8 L747.7,256.5 L748.5,255.9 L749.3,255.4 L749.9,256.2 L750.3,257.1 L751.3,256.7 L752.3,256.4 L752.6,257.4 L752.7,258.3 L753.7,258.2 L754.8,258.2 L754.8,259.2 L754.7,260.1 L755.7,260.3 L756.7,260.6 L756.4,261.5 L756.0,262.4 L756.9,262.8 L757.8,263.4 L757.2,264.2 L756.5,264.9Z" fill="#d3a395"/>
<ellipse cx="746.0" cy="264.1" rx="4.4" ry="3.4" fill="#bb8474"/>
<path d="M748.3,274.0 L749.0,274.7 L748.2,275.4 L747.4,275.9 L747.9,276.8 L748.3,277.7 L747.4,278.1 L746.4,278.4 L746.7,279.3 L746.8,280.3 L745.8,280.4 L744.8,280.4 L744.7,281.4 L744.6,282.4 L743.6,282.2 L742.6,282.0 L742.3,282.9 L741.8,283.8 L740.9,283.4 L740.0,282.9 L739.5,283.7 L738.8,284.5 L738.0,283.8 L737.3,283.1 L736.5,283.7 L735.7,284.2 L735.1,283.4 L734.7,282.5 L733.7,282.9 L732.7,283.2 L732.4,282.2 L732.3,281.3 L731.3,281.4 L730.2,281.4 L730.2,280.4 L730.3,279.5 L729.3,279.3 L728.3,279.0 L728.6,278.1 L729.0,277.2 L728.1,276.8 L727.2,276.2 L727.8,275.4 L728.5,274.7 L727.7,274.0 L727.0,273.3 L727.8,272.6 L728.6,272.1 L728.1,271.2 L727.7,270.3 L728.6,269.9 L729.6,269.6 L729.3,268.7 L729.2,267.7 L730.2,267.6 L731.2,267.6 L731.3,266.6 L731.4,265.6 L732.4,265.8 L733.4,266.0 L733.7,265.1 L734.2,264.2 L735.1,264.6 L736.0,265.1 L736.5,264.3 L737.2,263.5 L738.0,264.2 L738.7,264.9 L739.5,264.3 L740.3,263.8 L740.9,264.6 L741.3,265.5 L742.3,265.1 L743.3,264.8 L743.6,265.8 L743.7,266.7 L744.7,266.6 L745.8,266.6 L745.8,267.6 L745.7,268.5 L746.7,268.7 L747.7,269.0 L747.4,269.9 L747.0,270.8 L747.9,271.2 L748.8,271.8 L748.2,272.6 L747.5,273.3Z" fill="#d3a395"/>
<ellipse cx="737.0" cy="272.5" rx="4.4" ry="3.4" fill="#bb8474"/>
<path d="M737.3,278.0 L738.0,278.7 L737.2,279.4 L736.4,279.9 L736.9,280.8 L737.3,281.7 L736.4,282.1 L735.4,282.4 L735.7,283.3 L735.8,284.3 L734.8,284.4 L733.8,284.4 L733.7,285.4 L733.6,286.4 L732.6,286.2 L731.6,286.0 L731.3,286.9 L730.8,287.8 L729.9,287.4 L729.0,286.9 L728.5,287.7 L727.8,288.5 L727.0,287.8 L726.3,287.1 L725.5,287.7 L724.7,288.2 L724.1,287.4 L723.7,286.5 L722.7,286.9 L721.7,287.2 L721.4,286.2 L721.3,285.3 L720.3,285.4 L719.2,285.4 L719.2,284.4 L719.3,283.5 L718.3,283.3 L717.3,283.0 L717.6,282.1 L718.0,281.2 L717.1,280.8 L716.2,280.2 L716.8,279.4 L717.5,278.7 L716.7,278.0 L716.0,277.3 L716.8,276.6 L717.6,276.1 L717.1,275.2 L716.7,274.3 L717.6,273.9 L718.6,273.6 L718.3,272.7 L718.2,271.7 L719.2,271.6 L720.2,271.6 L720.3,270.6 L720.4,269.6 L721.4,269.8 L722.4,270.0 L722.7,269.1 L723.2,268.2 L724.1,268.6 L725.0,269.1 L725.5,268.3 L726.2,267.5 L727.0,268.2 L727.7,268.9 L728.5,268.3 L729.3,267.8 L729.9,268.6 L730.3,269.5 L731.3,269.1 L732.3,268.8 L732.6,269.8 L732.7,270.7 L733.7,270.6 L734.8,270.6 L734.8,271.6 L734.7,272.5 L735.7,272.7 L736.7,273.0 L736.4,273.9 L736.0,274.8 L736.9,275.2 L737.8,275.8 L737.2,276.6 L736.5,277.3Z" fill="#d3a395"/>
<ellipse cx="726.0" cy="276.5" rx="4.4" ry="3.4" fill="#bb8474"/>
<path d="M725.3,278.5 L726.0,279.2 L725.2,279.9 L724.4,280.4 L724.9,281.3 L725.3,282.2 L724.4,282.6 L723.4,282.9 L723.7,283.8 L723.8,284.8 L722.8,284.9 L721.8,284.9 L721.7,285.9 L721.6,286.9 L720.6,286.7 L719.6,286.5 L719.3,287.4 L718.8,288.3 L717.9,287.9 L717.0,287.4 L716.5,288.2 L715.8,289.0 L715.0,288.3 L714.3,287.6 L713.5,288.2 L712.7,288.7 L712.1,287.9 L711.7,287.0 L710.7,287.4 L709.7,287.7 L709.4,286.7 L709.3,285.8 L708.3,285.9 L707.2,285.9 L707.2,284.9 L707.3,284.0 L706.3,283.8 L705.3,283.5 L705.6,282.6 L706.0,281.7 L705.1,281.3 L704.2,280.7 L704.8,279.9 L705.5,279.2 L704.7,278.5 L704.0,277.8 L704.8,277.1 L705.6,276.6 L705.1,275.7 L704.7,274.8 L705.6,274.4 L706.6,274.1 L706.3,273.2 L706.2,272.2 L707.2,272.1 L708.2,272.1 L708.3,271.1 L708.4,270.1 L709.4,270.3 L710.4,270.5 L710.7,269.6 L711.2,268.7 L712.1,269.1 L713.0,269.6 L713.5,268.8 L714.2,268.0 L715.0,268.7 L715.7,269.4 L716.5,268.8 L717.3,268.3 L717.9,269.1 L718.3,270.0 L719.3,269.6 L720.3,269.3 L720.6,270.3 L720.7,271.2 L721.7,271.1 L722.8,271.1 L722.8,272.1 L722.7,273.0 L723.7,273.2 L724.7,273.5 L724.4,274.4 L724.0,275.3 L724.9,275.7 L725.8,276.3 L725.2,277.1 L724.5,277.8Z" fill="#d3a395"/>
<ellipse cx="714.0" cy="277.0" rx="4.4" ry="3.4" fill="#bb8474"/>
<path d="M693.3,276.0 L694.0,276.7 L693.2,277.4 L692.4,277.9 L692.9,278.8 L693.3,279.7 L692.4,280.1 L691.4,280.4 L691.7,281.3 L691.8,282.3 L690.8,282.4 L689.8,282.4 L689.7,283.4 L689.6,284.4 L688.6,284.2 L687.6,284.0 L687.3,284.9 L686.8,285.8 L685.9,285.4 L685.0,284.9 L684.5,285.7 L683.8,286.5 L683.0,285.8 L682.3,285.1 L681.5,285.7 L680.7,286.2 L680.1,285.4 L679.7,284.5 L678.7,284.9 L677.7,285.2 L677.4,284.2 L677.3,283.3 L676.3,283.4 L675.2,283.4 L675.2,282.4 L675.3,281.5 L674.3,281.3 L673.3,281.0 L673.6,280.1 L674.0,279.2 L673.1,278.8 L672.2,278.2 L672.8,277.4 L673.5,276.7 L672.7,276.0 L672.0,275.3 L672.8,274.6 L673.6,274.1 L673.1,273.2 L672.7,272.3 L673.6,271.9 L674.6,271.6 L674.3,270.7 L674.2,269.7 L675.2,269.6 L676.2,269.6 L676.3,268.6 L676.4,267.6 L677.4,267.8 L678.4,268.0 L678.7,267.1 L679.2,266.2 L680.1,266.6 L681.0,267.1 L681.5,266.3 L682.2,265.5 L683.0,266.2 L683.7,266.9 L684.5,266.3 L685.3,265.8 L685.9,266.6 L686.3,267.5 L687.3,267.1 L688.3,266.8 L688.6,267.8 L688.7,268.7 L689.7,268.6 L690.8,268.6 L690.8,269.6 L690.7,270.5 L691.7,270.7 L692.7,271.0 L692.4,271.9 L692.0,272.8 L692.9,273.2 L693.8,273.8 L693.2,274.6 L692.5,275.3Z" fill="#d3a395"/>
<ellipse cx="682.0" cy="274.5" rx="4.4" ry="3.4" fill="#bb8474"/>
<path d="M681.3,277.5 L682.0,278.2 L681.2,278.9 L680.4,279.4 L680.9,280.3 L681.3,281.2 L680.4,281.6 L679.4,281.9 L679.7,282.8 L679.8,283.8 L678.8,283.9 L677.8,283.9 L677.7,284.9 L677.6,285.9 L676.6,285.7 L675.6,285.5 L675.3,286.4 L674.8,287.3 L673.9,286.9 L673.0,286.4 L672.5,287.2 L671.8,288.0 L671.0,287.3 L670.3,286.6 L669.5,287.2 L668.7,287.7 L668.1,286.9 L667.7,286.0 L666.7,286.4 L665.7,286.7 L665.4,285.7 L665.3,284.8 L664.3,284.9 L663.2,284.9 L663.2,283.9 L663.3,283.0 L662.3,282.8 L661.3,282.5 L661.6,281.6 L662.0,280.7 L661.1,280.3 L660.2,279.7 L660.8,278.9 L661.5,278.2 L660.7,277.5 L660.0,276.8 L660.8,276.1 L661.6,275.6 L661.1,274.7 L660.7,273.8 L661.6,273.4 L662.6,273.1 L662.3,272.2 L662.2,271.2 L663.2,271.1 L664.2,271.1 L664.3,270.1 L664.4,269.1 L665.4,269.3 L666.4,269.5 L666.7,268.6 L667.2,267.7 L668.1,268.1 L669.0,268.6 L669.5,267.8 L670.2,267.0 L671.0,267.7 L671.7,268.4 L672.5,267.8 L673.3,267.3 L673.9,268.1 L674.3,269.0 L675.3,268.6 L676.3,268.3 L676.6,269.3 L676.7,270.2 L677.7,270.1 L678.8,270.1 L678.8,271.1 L678.7,272.0 L679.7,272.2 L680.7,272.5 L680.4,273.4 L680.0,274.3 L680.9,274.7 L681.8,275.3 L681.2,276.1 L680.5,276.8Z" fill="#d3a395"/>
<ellipse cx="670.0" cy="276.0" rx="4.4" ry="3.4" fill="#bb8474"/>
<ellipse cx="700" cy="283" rx="11" ry="8" fill="#a59a3b"/>
<ellipse cx="697" cy="281" rx="2.5" ry="1.5" fill="#7c6634"/><ellipse cx="704" cy="284" rx="2.5" ry="1.5" fill="#7c6634"/>
<g transform="translate(719.0 261.5) rotate(-4.5)"><path d="M-19.1,0 Q-9.5,-4.5 0,-4.5 Q9.5,-4.5 19.1,-1.3 L16.1,0 L19.1,2.2 Q9.5,4.5 0,4.5 Q-9.5,4.5 -19.1,0Z" fill="#c27968"/><ellipse cx="0" cy="0" rx="5.3" ry="2.2" fill="#9e4a3c"/></g>
<ellipse cx="678.5" cy="261" rx="3.5" ry="6.5" fill="#b27ad6"/>
<g transform="translate(804.6 225.2) rotate(-70)" stroke="#d0a494" stroke-width="0.8" fill="none"><path d="M0,0 L-13.2,-3.6 M-8.6,-2.3 l0.9,-3.3 M-13.2,-3.6 l-2.1,-2.7"/><path d="M0,0 L-5.9,-9.5 M-3.8,-6.2 l2.4,-1.5 M-5.9,-9.5 l0.2,-2.8"/><path d="M0,0 L5.9,-9.5 M3.8,-6.2 l2.4,1.5 M5.9,-9.5 l2.6,-1.0"/><path d="M0,0 L13.2,-3.6 M8.6,-2.3 l0.9,3.3 M13.2,-3.6 l3.2,1.3"/><path d="M0,0 L12.7,4.4 M8.2,2.9 l-1.1,3.2 M12.7,4.4 l1.9,2.8"/><path d="M0,0 L4.8,9.9 M3.1,6.4 l-2.5,1.2 M4.8,9.9 l-0.5,2.7"/><path d="M0,0 L-5.9,9.5 M-3.8,6.2 l-2.4,-1.5 M-5.9,9.5 l-2.6,1.0"/><path d="M0,0 L-13.2,3.6 M-8.6,2.3 l-0.9,-3.3 M-13.2,3.6 l-3.2,-1.3"/></g><g transform="translate(804.6 225.2) rotate(-70)"><ellipse rx="7.0" ry="3.5" fill="#cf9a88"/><ellipse rx="2.9" ry="1.9" fill="#a8564c"/></g>
<g transform="translate(792.7 263.2) rotate(20)" stroke="#d0a494" stroke-width="0.8" fill="none"><path d="M0,0 L-14.1,-3.8 M-9.2,-2.5 l1.0,-3.5 M-14.1,-3.8 l-2.2,-2.9"/><path d="M0,0 L-6.3,-10.2 M-4.1,-6.6 l2.5,-1.6 M-6.3,-10.2 l0.3,-3.0"/><path d="M0,0 L6.3,-10.2 M4.1,-6.6 l2.5,1.6 M6.3,-10.2 l2.8,-1.1"/><path d="M0,0 L14.1,-3.8 M9.2,-2.5 l1.0,3.5 M14.1,-3.8 l3.4,1.3"/><path d="M0,0 L13.6,4.8 M8.8,3.1 l-1.2,3.4 M13.6,4.8 l2.0,3.0"/><path d="M0,0 L5.1,10.6 M3.3,6.9 l-2.6,1.3 M5.1,10.6 l-0.6,2.9"/><path d="M0,0 L-6.3,10.2 M-4.1,6.6 l-2.5,-1.6 M-6.3,10.2 l-2.8,1.1"/><path d="M0,0 L-14.1,3.8 M-9.2,2.5 l-1.0,-3.5 M-14.1,3.8 l-3.4,-1.3"/></g><g transform="translate(792.7 263.2) rotate(20)"><ellipse rx="7.5" ry="3.8" fill="#cf9a88"/><ellipse rx="3.1" ry="2.0" fill="#a8564c"/></g>
<g transform="translate(771.3 291.8) rotate(-60)" stroke="#d0a494" stroke-width="0.8" fill="none"><path d="M0,0 L-14.1,-3.8 M-9.2,-2.5 l1.0,-3.5 M-14.1,-3.8 l-2.2,-2.9"/><path d="M0,0 L-6.3,-10.2 M-4.1,-6.6 l2.5,-1.6 M-6.3,-10.2 l0.3,-3.0"/><path d="M0,0 L6.3,-10.2 M4.1,-6.6 l2.5,1.6 M6.3,-10.2 l2.8,-1.1"/><path d="M0,0 L14.1,-3.8 M9.2,-2.5 l1.0,3.5 M14.1,-3.8 l3.4,1.3"/><path d="M0,0 L13.6,4.8 M8.8,3.1 l-1.2,3.4 M13.6,4.8 l2.0,3.0"/><path d="M0,0 L5.1,10.6 M3.3,6.9 l-2.6,1.3 M5.1,10.6 l-0.6,2.9"/><path d="M0,0 L-6.3,10.2 M-4.1,6.6 l-2.5,-1.6 M-6.3,10.2 l-2.8,1.1"/><path d="M0,0 L-14.1,3.8 M-9.2,2.5 l-1.0,-3.5 M-14.1,3.8 l-3.4,-1.3"/></g><g transform="translate(771.3 291.8) rotate(-60)"><ellipse rx="7.5" ry="3.8" fill="#cf9a88"/><ellipse rx="3.1" ry="2.0" fill="#a8564c"/></g>
<g transform="translate(728.5 306.0) rotate(5)" stroke="#d0a494" stroke-width="0.8" fill="none"><path d="M0,0 L-14.1,-3.8 M-9.2,-2.5 l1.0,-3.5 M-14.1,-3.8 l-2.2,-2.9"/><path d="M0,0 L-6.3,-10.2 M-4.1,-6.6 l2.5,-1.6 M-6.3,-10.2 l0.3,-3.0"/><path d="M0,0 L6.3,-10.2 M4.1,-6.6 l2.5,1.6 M6.3,-10.2 l2.8,-1.1"/><path d="M0,0 L14.1,-3.8 M9.2,-2.5 l1.0,3.5 M14.1,-3.8 l3.4,1.3"/><path d="M0,0 L13.6,4.8 M8.8,3.1 l-1.2,3.4 M13.6,4.8 l2.0,3.0"/><path d="M0,0 L5.1,10.6 M3.3,6.9 l-2.6,1.3 M5.1,10.6 l-0.6,2.9"/><path d="M0,0 L-6.3,10.2 M-4.1,6.6 l-2.5,-1.6 M-6.3,10.2 l-2.8,1.1"/><path d="M0,0 L-14.1,3.8 M-9.2,2.5 l-1.0,-3.5 M-14.1,3.8 l-3.4,-1.3"/></g><g transform="translate(728.5 306.0) rotate(5)"><ellipse rx="7.5" ry="3.8" fill="#cf9a88"/><ellipse rx="3.1" ry="2.0" fill="#a8564c"/></g>
<path d="M691.1,215.7 L691.8,217.2 L690.8,218.5 L689.7,219.6 L689.9,221.2 L689.8,222.8 L688.4,223.6 L686.9,224.1 L686.4,225.6 L685.6,227.0 L684.0,227.1 L682.4,226.9 L681.3,228.0 L680.0,229.0 L678.5,228.3 L677.2,227.5 L675.7,228.0 L674.1,228.3 L673.0,227.1 L672.2,225.8 L670.6,225.6 L669.0,225.2 L668.6,223.6 L668.4,222.0 L667.1,221.2 L665.9,220.1 L666.2,218.5 L666.7,217.0 L665.9,215.7 L665.2,214.2 L666.2,212.9 L667.3,211.8 L667.1,210.2 L667.2,208.6 L668.6,207.8 L670.1,207.3 L670.6,205.8 L671.4,204.4 L673.0,204.3 L674.6,204.5 L675.7,203.4 L677.0,202.4 L678.5,203.1 L679.8,203.9 L681.3,203.4 L682.9,203.1 L684.0,204.3 L684.8,205.6 L686.4,205.8 L688.0,206.2 L688.4,207.8 L688.6,209.4 L689.9,210.2 L691.1,211.3 L690.8,212.9 L690.3,214.4Z" fill="#f9c9bd" opacity="0.85"/>
<path d="M735.3,199.0 L736.1,200.7 L735.0,202.1 L733.7,203.4 L733.9,205.1 L733.9,206.9 L732.3,207.7 L730.6,208.3 L730.0,210.0 L729.2,211.6 L727.4,211.6 L725.7,211.4 L724.4,212.7 L723.0,213.8 L721.3,213.0 L719.8,212.1 L718.2,212.7 L716.4,213.0 L715.2,211.6 L714.3,210.2 L712.6,210.0 L710.8,209.5 L710.3,207.7 L710.1,206.0 L708.7,205.1 L707.3,203.9 L707.6,202.1 L708.2,200.5 L707.3,199.0 L706.5,197.3 L707.6,195.9 L708.9,194.6 L708.7,192.9 L708.7,191.1 L710.3,190.3 L712.0,189.7 L712.6,188.0 L713.4,186.4 L715.2,186.4 L716.9,186.6 L718.2,185.3 L719.6,184.2 L721.3,185.0 L722.8,185.9 L724.4,185.3 L726.2,185.0 L727.4,186.4 L728.3,187.8 L730.0,188.0 L731.8,188.5 L732.3,190.3 L732.5,192.0 L733.9,192.9 L735.3,194.1 L735.0,195.9 L734.4,197.5Z" fill="#f9c9bd" opacity="0.85"/>
<path d="M709.6,203.8 L710.5,205.8 L709.2,207.5 L707.7,209.0 L708.0,211.1 L707.9,213.3 L706.0,214.3 L704.0,215.0 L703.3,217.0 L702.3,218.9 L700.1,219.0 L698.0,218.7 L696.5,220.2 L694.8,221.5 L692.8,220.6 L691.0,219.5 L689.1,220.2 L686.9,220.6 L685.5,219.0 L684.4,217.2 L682.3,217.0 L680.2,216.4 L679.6,214.3 L679.4,212.2 L677.6,211.1 L676.0,209.7 L676.4,207.5 L677.1,205.6 L676.0,203.8 L675.1,201.8 L676.4,200.1 L677.9,198.6 L677.6,196.5 L677.7,194.3 L679.6,193.3 L681.6,192.6 L682.3,190.6 L683.3,188.7 L685.5,188.6 L687.6,188.9 L689.1,187.4 L690.8,186.1 L692.8,187.0 L694.6,188.1 L696.5,187.4 L698.7,187.0 L700.1,188.6 L701.2,190.4 L703.3,190.6 L705.4,191.2 L706.0,193.3 L706.2,195.4 L708.0,196.5 L709.6,197.9 L709.2,200.1 L708.5,202.0Z" fill="#f9c9bd" opacity="0.85"/>
<path d="M711.6,244.2 L712.4,245.9 L711.3,247.3 L710.0,248.6 L710.2,250.3 L710.2,252.1 L708.6,252.9 L706.9,253.5 L706.3,255.2 L705.5,256.8 L703.7,256.8 L702.0,256.6 L700.7,257.9 L699.3,259.0 L697.6,258.2 L696.1,257.3 L694.5,257.9 L692.7,258.2 L691.5,256.8 L690.6,255.4 L688.9,255.2 L687.1,254.7 L686.6,252.9 L686.4,251.2 L685.0,250.3 L683.6,249.1 L683.9,247.3 L684.5,245.7 L683.6,244.2 L682.8,242.5 L683.9,241.1 L685.2,239.8 L685.0,238.1 L685.0,236.3 L686.6,235.5 L688.3,234.9 L688.9,233.2 L689.7,231.6 L691.5,231.6 L693.2,231.8 L694.5,230.5 L695.9,229.4 L697.6,230.2 L699.1,231.1 L700.7,230.5 L702.5,230.2 L703.7,231.6 L704.6,233.0 L706.3,233.2 L708.1,233.7 L708.6,235.5 L708.8,237.2 L710.2,238.1 L711.6,239.3 L711.3,241.1 L710.7,242.7Z" fill="#f9c9bd" opacity="0.85"/>
<path d="M732.6,211.0 L733.7,213.3 L732.1,215.4 L730.4,217.1 L730.7,219.5 L730.6,222.1 L728.4,223.2 L726.1,224.1 L725.2,226.4 L724.1,228.6 L721.5,228.7 L719.1,228.4 L717.4,230.1 L715.3,231.7 L713.0,230.6 L710.9,229.3 L708.6,230.1 L706.1,230.7 L704.5,228.7 L703.2,226.6 L700.8,226.4 L698.3,225.7 L697.6,223.2 L697.4,220.8 L695.3,219.5 L693.3,217.9 L693.9,215.4 L694.7,213.1 L693.4,211.0 L692.3,208.7 L693.9,206.6 L695.6,204.9 L695.3,202.5 L695.4,199.9 L697.6,198.8 L699.9,197.9 L700.8,195.6 L701.9,193.4 L704.5,193.3 L706.9,193.6 L708.6,191.9 L710.7,190.3 L713.0,191.4 L715.1,192.7 L717.4,191.9 L719.9,191.3 L721.5,193.3 L722.8,195.4 L725.2,195.6 L727.7,196.3 L728.4,198.8 L728.6,201.2 L730.7,202.5 L732.7,204.1 L732.1,206.6 L731.3,208.9Z" fill="#f9c9bd" opacity="0.85"/>
<path d="M711.0,226.4 L712.0,228.6 L710.6,230.5 L709.0,232.1 L709.2,234.3 L709.2,236.7 L707.1,237.8 L704.9,238.5 L704.2,240.7 L703.1,242.8 L700.7,242.8 L698.5,242.6 L696.9,244.2 L695.0,245.6 L692.8,244.6 L690.9,243.4 L688.7,244.2 L686.4,244.6 L684.9,242.8 L683.7,240.9 L681.4,240.7 L679.1,240.1 L678.5,237.8 L678.3,235.5 L676.4,234.3 L674.6,232.8 L675.0,230.5 L675.8,228.3 L674.6,226.4 L673.6,224.2 L675.0,222.3 L676.6,220.7 L676.4,218.5 L676.4,216.1 L678.5,215.0 L680.7,214.3 L681.4,212.1 L682.5,210.0 L684.9,210.0 L687.1,210.2 L688.7,208.6 L690.6,207.2 L692.8,208.2 L694.7,209.4 L696.9,208.6 L699.2,208.2 L700.7,210.0 L701.9,211.9 L704.2,212.1 L706.5,212.7 L707.1,215.0 L707.3,217.3 L709.2,218.5 L711.0,220.0 L710.6,222.3 L709.8,224.5Z" fill="#f9c9bd" opacity="0.85"/>
<path d="M757.2,224.0 L758.1,226.0 L756.8,227.7 L755.3,229.2 L755.6,231.3 L755.5,233.5 L753.6,234.5 L751.6,235.2 L750.9,237.2 L749.9,239.1 L747.7,239.2 L745.6,238.9 L744.1,240.4 L742.4,241.7 L740.4,240.8 L738.6,239.7 L736.7,240.4 L734.5,240.8 L733.1,239.2 L732.0,237.4 L729.9,237.2 L727.8,236.6 L727.2,234.5 L727.0,232.4 L725.2,231.3 L723.6,229.9 L724.0,227.7 L724.7,225.8 L723.6,224.0 L722.7,222.0 L724.0,220.3 L725.5,218.8 L725.2,216.7 L725.3,214.5 L727.2,213.5 L729.2,212.8 L729.9,210.8 L730.9,208.9 L733.1,208.8 L735.2,209.1 L736.7,207.6 L738.4,206.3 L740.4,207.2 L742.2,208.3 L744.1,207.6 L746.3,207.2 L747.7,208.8 L748.8,210.6 L750.9,210.8 L753.0,211.4 L753.6,213.5 L753.8,215.6 L755.6,216.7 L757.2,218.1 L756.8,220.3 L756.1,222.2Z" fill="#f9c9bd" opacity="0.85"/>
<path d="M731.2,235.9 L732.2,238.1 L730.8,240.0 L729.2,241.6 L729.4,243.8 L729.4,246.2 L727.3,247.3 L725.1,248.0 L724.4,250.2 L723.3,252.3 L720.9,252.3 L718.7,252.1 L717.1,253.7 L715.2,255.1 L713.0,254.1 L711.1,252.9 L708.9,253.7 L706.6,254.1 L705.1,252.3 L703.9,250.4 L701.6,250.2 L699.3,249.6 L698.7,247.3 L698.5,245.0 L696.6,243.8 L694.8,242.3 L695.2,240.0 L696.0,237.8 L694.8,235.9 L693.8,233.7 L695.2,231.8 L696.8,230.2 L696.6,228.0 L696.6,225.6 L698.7,224.5 L700.9,223.8 L701.6,221.6 L702.7,219.5 L705.1,219.5 L707.3,219.7 L708.9,218.1 L710.8,216.7 L713.0,217.7 L714.9,218.9 L717.1,218.1 L719.4,217.7 L720.9,219.5 L722.1,221.4 L724.4,221.6 L726.7,222.2 L727.3,224.5 L727.5,226.8 L729.4,228.0 L731.2,229.5 L730.8,231.8 L730.0,234.0Z" fill="#f9c9bd" opacity="0.85"/>
<path d="M688.9,215.7 L689.4,216.9 L688.6,218.0 L687.7,218.9 L687.8,220.2 L687.8,221.5 L686.6,222.2 L685.4,222.6 L685.0,223.8 L684.3,225.0 L683.0,225.0 L681.7,224.9 L680.8,225.8 L679.7,226.6 L678.5,226.0 L677.4,225.4 L676.2,225.8 L674.9,226.1 L674.0,225.0 L673.3,223.9 L672.0,223.8 L670.7,223.5 L670.4,222.2 L670.3,220.9 L669.2,220.2 L668.1,219.3 L668.4,218.0 L668.8,216.8 L668.1,215.7 L667.6,214.5 L668.4,213.4 L669.3,212.5 L669.2,211.2 L669.2,209.9 L670.4,209.2 L671.6,208.8 L672.0,207.6 L672.7,206.4 L674.0,206.4 L675.3,206.5 L676.2,205.6 L677.3,204.8 L678.5,205.3 L679.6,206.0 L680.8,205.6 L682.1,205.3 L683.0,206.4 L683.7,207.5 L685.0,207.6 L686.3,207.9 L686.6,209.2 L686.7,210.5 L687.8,211.2 L688.9,212.1 L688.6,213.4 L688.2,214.6Z" fill="#fbd3cb" opacity="1"/>
<circle cx="678.5" cy="215.7" r="4.1" fill="#f7c0b4" opacity="1"/>
<path d="M732.8,199.0 L733.4,200.4 L732.5,201.6 L731.5,202.6 L731.7,204.0 L731.6,205.5 L730.3,206.2 L728.9,206.6 L728.5,208.0 L727.8,209.3 L726.3,209.4 L724.9,209.2 L723.9,210.2 L722.7,211.1 L721.3,210.5 L720.1,209.7 L718.7,210.2 L717.3,210.5 L716.3,209.4 L715.5,208.2 L714.1,208.0 L712.7,207.6 L712.3,206.2 L712.1,204.8 L710.9,204.0 L709.8,203.0 L710.1,201.6 L710.6,200.2 L709.8,199.0 L709.2,197.6 L710.1,196.4 L711.1,195.4 L710.9,194.0 L711.0,192.5 L712.3,191.8 L713.7,191.4 L714.1,190.0 L714.8,188.7 L716.3,188.6 L717.7,188.8 L718.7,187.8 L719.9,186.9 L721.3,187.5 L722.5,188.3 L723.9,187.8 L725.3,187.5 L726.3,188.6 L727.1,189.8 L728.5,190.0 L729.9,190.4 L730.3,191.8 L730.5,193.2 L731.7,194.0 L732.8,195.0 L732.5,196.4 L732.0,197.8Z" fill="#fbd3cb" opacity="1"/>
<circle cx="721.3" cy="199.0" r="4.6" fill="#f7c0b4" opacity="1"/>
<path d="M706.6,203.8 L707.3,205.4 L706.3,206.9 L705.0,208.1 L705.2,209.8 L705.2,211.6 L703.6,212.4 L702.0,213.0 L701.4,214.6 L700.6,216.2 L698.8,216.2 L697.1,216.0 L695.9,217.3 L694.4,218.3 L692.8,217.6 L691.3,216.7 L689.7,217.3 L688.0,217.6 L686.8,216.2 L685.9,214.8 L684.2,214.6 L682.5,214.1 L682.0,212.4 L681.8,210.7 L680.4,209.8 L679.0,208.6 L679.3,206.9 L679.9,205.3 L679.0,203.8 L678.3,202.2 L679.3,200.7 L680.6,199.5 L680.4,197.8 L680.4,196.0 L682.0,195.2 L683.6,194.6 L684.2,193.0 L685.0,191.4 L686.8,191.4 L688.5,191.6 L689.7,190.3 L691.2,189.3 L692.8,190.0 L694.3,190.9 L695.9,190.3 L697.6,190.0 L698.8,191.4 L699.7,192.8 L701.4,193.0 L703.1,193.5 L703.6,195.2 L703.8,196.9 L705.2,197.8 L706.6,199.0 L706.3,200.7 L705.7,202.3Z" fill="#f7b0a2" opacity="1"/>
<circle cx="692.8" cy="203.8" r="5.5" fill="#efa08e" opacity="1"/>
<path d="M709.1,244.2 L709.7,245.6 L708.8,246.8 L707.8,247.8 L708.0,249.2 L707.9,250.7 L706.6,251.4 L705.2,251.8 L704.8,253.2 L704.1,254.5 L702.6,254.6 L701.2,254.4 L700.2,255.4 L699.0,256.3 L697.6,255.7 L696.4,254.9 L695.0,255.4 L693.6,255.7 L692.6,254.6 L691.8,253.4 L690.4,253.2 L689.0,252.8 L688.6,251.4 L688.4,250.0 L687.2,249.2 L686.1,248.2 L686.4,246.8 L686.9,245.4 L686.1,244.2 L685.5,242.8 L686.4,241.6 L687.4,240.6 L687.2,239.2 L687.3,237.7 L688.6,237.0 L690.0,236.6 L690.4,235.2 L691.1,233.9 L692.6,233.8 L694.0,234.0 L695.0,233.0 L696.2,232.1 L697.6,232.7 L698.8,233.5 L700.2,233.0 L701.6,232.7 L702.6,233.8 L703.4,235.0 L704.8,235.2 L706.2,235.6 L706.6,237.0 L706.8,238.4 L708.0,239.2 L709.1,240.2 L708.8,241.6 L708.3,243.0Z" fill="#f8b9ad" opacity="1"/>
<circle cx="697.6" cy="244.2" r="4.6" fill="#f0a898" opacity="1"/>
<path d="M729.1,211.0 L730.0,212.9 L728.7,214.6 L727.3,216.0 L727.5,218.0 L727.5,220.1 L725.6,221.0 L723.7,221.7 L723.0,223.6 L722.1,225.5 L720.0,225.5 L718.0,225.3 L716.6,226.7 L714.9,228.0 L713.0,227.1 L711.3,226.0 L709.4,226.7 L707.4,227.1 L706.0,225.5 L704.9,223.8 L703.0,223.6 L700.9,223.1 L700.4,221.0 L700.2,219.1 L698.5,218.0 L696.9,216.6 L697.3,214.6 L698.0,212.7 L696.9,211.0 L696.0,209.1 L697.3,207.4 L698.7,206.0 L698.5,204.0 L698.5,201.9 L700.4,201.0 L702.3,200.3 L703.0,198.4 L703.9,196.5 L706.0,196.5 L708.0,196.7 L709.4,195.3 L711.1,194.0 L713.0,194.9 L714.7,196.0 L716.6,195.3 L718.6,194.9 L720.0,196.5 L721.1,198.2 L723.0,198.4 L725.1,198.9 L725.6,201.0 L725.8,202.9 L727.5,204.0 L729.1,205.4 L728.7,207.4 L728.0,209.3Z" fill="#f5a394" opacity="1"/>
<circle cx="713.0" cy="211.0" r="6.4" fill="#e58468" opacity="1"/>
<path d="M707.8,226.4 L708.5,228.2 L707.4,229.7 L706.1,231.0 L706.3,232.9 L706.2,234.8 L704.5,235.7 L702.7,236.3 L702.1,238.1 L701.2,239.8 L699.3,239.9 L697.4,239.7 L696.1,241.0 L694.6,242.1 L692.8,241.3 L691.2,240.4 L689.5,241.0 L687.6,241.4 L686.3,239.9 L685.3,238.3 L683.5,238.1 L681.6,237.6 L681.1,235.7 L680.9,233.9 L679.3,232.9 L677.8,231.6 L678.2,229.7 L678.8,228.0 L677.8,226.4 L677.1,224.6 L678.2,223.1 L679.5,221.8 L679.3,219.9 L679.4,218.0 L681.1,217.1 L682.9,216.5 L683.5,214.7 L684.4,213.0 L686.3,212.9 L688.2,213.1 L689.5,211.8 L691.0,210.7 L692.8,211.5 L694.4,212.4 L696.1,211.8 L698.0,211.4 L699.3,212.9 L700.3,214.5 L702.1,214.7 L704.0,215.2 L704.5,217.1 L704.7,218.9 L706.3,219.9 L707.8,221.2 L707.4,223.1 L706.8,224.8Z" fill="#f5a394" opacity="1"/>
<circle cx="692.8" cy="226.4" r="6.0" fill="#e58468" opacity="1"/>
<path d="M754.2,224.0 L754.9,225.6 L753.9,227.1 L752.6,228.3 L752.8,230.0 L752.8,231.8 L751.2,232.6 L749.6,233.2 L749.0,234.8 L748.2,236.4 L746.4,236.4 L744.7,236.2 L743.5,237.5 L742.0,238.5 L740.4,237.8 L738.9,236.9 L737.3,237.5 L735.6,237.8 L734.4,236.4 L733.5,235.0 L731.8,234.8 L730.1,234.3 L729.6,232.6 L729.4,230.9 L728.0,230.0 L726.6,228.8 L726.9,227.1 L727.5,225.5 L726.6,224.0 L725.9,222.4 L726.9,220.9 L728.2,219.7 L728.0,218.0 L728.0,216.2 L729.6,215.4 L731.2,214.8 L731.8,213.2 L732.6,211.6 L734.4,211.6 L736.1,211.8 L737.3,210.5 L738.8,209.5 L740.4,210.2 L741.9,211.1 L743.5,210.5 L745.2,210.2 L746.4,211.6 L747.3,213.0 L749.0,213.2 L750.7,213.7 L751.2,215.4 L751.4,217.1 L752.8,218.0 L754.2,219.2 L753.9,220.9 L753.3,222.5Z" fill="#f5a394" opacity="1"/>
<circle cx="740.4" cy="224.0" r="5.5" fill="#e58468" opacity="1"/>
<path d="M728.0,235.9 L728.7,237.7 L727.6,239.2 L726.3,240.5 L726.5,242.4 L726.4,244.3 L724.7,245.2 L722.9,245.8 L722.3,247.6 L721.4,249.3 L719.5,249.4 L717.6,249.2 L716.3,250.5 L714.8,251.6 L713.0,250.8 L711.4,249.9 L709.7,250.5 L707.8,250.9 L706.5,249.4 L705.5,247.8 L703.7,247.6 L701.8,247.1 L701.3,245.2 L701.1,243.4 L699.5,242.4 L698.0,241.1 L698.4,239.2 L699.0,237.5 L698.0,235.9 L697.3,234.1 L698.4,232.6 L699.7,231.3 L699.5,229.4 L699.6,227.5 L701.3,226.6 L703.1,226.0 L703.7,224.2 L704.6,222.5 L706.5,222.4 L708.4,222.6 L709.7,221.3 L711.2,220.2 L713.0,221.0 L714.6,221.9 L716.3,221.3 L718.2,220.9 L719.5,222.4 L720.5,224.0 L722.3,224.2 L724.2,224.7 L724.7,226.6 L724.9,228.4 L726.5,229.4 L728.0,230.7 L727.6,232.6 L727.0,234.3Z" fill="#f5a394" opacity="1"/>
<circle cx="713.0" cy="235.9" r="6.0" fill="#e58468" opacity="1"/>
<path d="M763.1,228.0 L763.0,229.0 L762.5,230.0 L761.7,230.8 L760.8,231.5 L760.0,232.0 L759.2,232.5 L758.5,233.0 L757.9,233.5 L757.3,233.9 L756.7,234.3 L755.9,234.6 L755.2,234.8 L754.4,234.8 L753.7,234.8 L753.0,234.8 L752.3,234.9 L751.5,235.1 L750.6,235.5 L749.5,235.8 L748.4,236.0 L747.2,236.0 L746.1,235.6 L745.4,234.9 L744.9,233.9 L744.9,232.7 L745.3,231.4 L745.8,230.3 L746.4,229.4 L746.8,228.6 L747.1,228.0 L747.0,227.4 L746.8,226.7 L746.5,225.9 L746.2,225.0 L746.1,224.0 L746.3,223.1 L746.6,222.3 L747.2,221.6 L747.9,221.0 L748.7,220.5 L749.4,220.0 L750.3,219.6 L751.1,219.2 L752.0,218.9 L753.0,218.8 L753.9,219.0 L754.8,219.5 L755.5,220.3 L756.0,221.2 L756.4,222.2 L756.6,223.0 L756.8,223.7 L757.2,224.2 L757.9,224.5 L758.8,224.7 L759.9,224.9 L761.0,225.4 L762.0,226.1 L762.8,227.0Z" fill="#f5a394"/>
<path d="M504.7,532.6 C502.7,535.9 505.9,550.6 508.0,558.0 C510.1,565.4 510.6,572.1 517.4,576.8 C524.2,581.5 535.9,584.2 549.0,586.3 C562.1,588.4 580.5,589.8 596.3,589.5 C612.1,589.2 630.6,587.9 643.7,584.7 C656.9,581.5 666.3,577.6 675.2,570.5 C684.1,563.4 692.5,552.0 697.3,542.0 C702.0,532.0 703.2,521.0 703.7,510.5 C704.2,500.0 702.6,487.9 700.5,479.0 C698.4,470.1 695.2,462.6 691.0,456.8 C686.8,451.0 679.9,445.8 675.2,444.2 C670.5,442.6 665.2,444.3 662.6,447.4 C660.0,450.5 661.6,456.2 659.5,463.0 C657.4,469.8 654.2,481.0 650.0,488.4 C645.8,495.8 641.0,501.1 634.2,507.4 C627.4,513.7 615.3,521.6 609.0,526.3 C602.7,531.0 602.8,533.5 596.3,535.8 C589.8,538.1 579.0,538.5 570.0,540.0 C561.0,541.5 550.9,545.3 542.6,545.0 C534.3,544.7 526.3,540.1 520.0,538.0 C513.7,535.9 506.7,529.3 504.7,532.6Z" fill="url(#boneN)"/>
<g transform="translate(662.6 532.6) rotate(-70)" stroke="#d0a494" stroke-width="0.8" fill="none"><path d="M0,0 L-14.1,-3.8 M-9.2,-2.5 l1.0,-3.5 M-14.1,-3.8 l-2.2,-2.9"/><path d="M0,0 L-6.3,-10.2 M-4.1,-6.6 l2.5,-1.6 M-6.3,-10.2 l0.3,-3.0"/><path d="M0,0 L6.3,-10.2 M4.1,-6.6 l2.5,1.6 M6.3,-10.2 l2.8,-1.1"/><path d="M0,0 L14.1,-3.8 M9.2,-2.5 l1.0,3.5 M14.1,-3.8 l3.4,1.3"/><path d="M0,0 L13.6,4.8 M8.8,3.1 l-1.2,3.4 M13.6,4.8 l2.0,3.0"/><path d="M0,0 L5.1,10.6 M3.3,6.9 l-2.6,1.3 M5.1,10.6 l-0.6,2.9"/><path d="M0,0 L-6.3,10.2 M-4.1,6.6 l-2.5,-1.6 M-6.3,10.2 l-2.8,1.1"/><path d="M0,0 L-14.1,3.8 M-9.2,2.5 l-1.0,-3.5 M-14.1,3.8 l-3.4,-1.3"/></g><g transform="translate(662.6 532.6) rotate(-70)"><ellipse rx="7.5" ry="3.8" fill="#cf9a88"/><ellipse rx="3.1" ry="2.0" fill="#a8564c"/></g>
<g transform="translate(624.7 561.0) rotate(-60)" stroke="#d0a494" stroke-width="0.8" fill="none"><path d="M0,0 L-14.1,-3.8 M-9.2,-2.5 l1.0,-3.5 M-14.1,-3.8 l-2.2,-2.9"/><path d="M0,0 L-6.3,-10.2 M-4.1,-6.6 l2.5,-1.6 M-6.3,-10.2 l0.3,-3.0"/><path d="M0,0 L6.3,-10.2 M4.1,-6.6 l2.5,1.6 M6.3,-10.2 l2.8,-1.1"/><path d="M0,0 L14.1,-3.8 M9.2,-2.5 l1.0,3.5 M14.1,-3.8 l3.4,1.3"/><path d="M0,0 L13.6,4.8 M8.8,3.1 l-1.2,3.4 M13.6,4.8 l2.0,3.0"/><path d="M0,0 L5.1,10.6 M3.3,6.9 l-2.6,1.3 M5.1,10.6 l-0.6,2.9"/><path d="M0,0 L-6.3,10.2 M-4.1,6.6 l-2.5,-1.6 M-6.3,10.2 l-2.8,1.1"/><path d="M0,0 L-14.1,3.8 M-9.2,2.5 l-1.0,-3.5 M-14.1,3.8 l-3.4,-1.3"/></g><g transform="translate(624.7 561.0) rotate(-60)"><ellipse rx="7.5" ry="3.8" fill="#cf9a88"/><ellipse rx="3.1" ry="2.0" fill="#a8564c"/></g>
<g transform="translate(568.0 572.0) rotate(5)" stroke="#d0a494" stroke-width="0.8" fill="none"><path d="M0,0 L-14.1,-3.8 M-9.2,-2.5 l1.0,-3.5 M-14.1,-3.8 l-2.2,-2.9"/><path d="M0,0 L-6.3,-10.2 M-4.1,-6.6 l2.5,-1.6 M-6.3,-10.2 l0.3,-3.0"/><path d="M0,0 L6.3,-10.2 M4.1,-6.6 l2.5,1.6 M6.3,-10.2 l2.8,-1.1"/><path d="M0,0 L14.1,-3.8 M9.2,-2.5 l1.0,3.5 M14.1,-3.8 l3.4,1.3"/><path d="M0,0 L13.6,4.8 M8.8,3.1 l-1.2,3.4 M13.6,4.8 l2.0,3.0"/><path d="M0,0 L5.1,10.6 M3.3,6.9 l-2.6,1.3 M5.1,10.6 l-0.6,2.9"/><path d="M0,0 L-6.3,10.2 M-4.1,6.6 l-2.5,-1.6 M-6.3,10.2 l-2.8,1.1"/><path d="M0,0 L-14.1,3.8 M-9.2,2.5 l-1.0,-3.5 M-14.1,3.8 l-3.4,-1.3"/></g><g transform="translate(568.0 572.0) rotate(5)"><ellipse rx="7.5" ry="3.8" fill="#cf9a88"/><ellipse rx="3.1" ry="2.0" fill="#a8564c"/></g>
<path d="M492,519 L498.2,518.8 L504.4,517.1 L510.7,517.3 L516.9,515.8 L523.1,514.9 L529.3,513.8 L535.6,512.6 L541.8,512.5 L548.0,510.4 " stroke="#3e4651" stroke-width="1" fill="none" stroke-dasharray="2 0.8"/>
<path d="M491.6,505.0 Q495.6,511.9 494.6,518.7 Q493.6,523.9 496.6,529.2" stroke="#8f99a4" stroke-width="0.85" fill="none"/>
<path d="M498.3,504.0 Q502.3,510.8 501.3,517.7 Q500.3,523.1 503.3,528.5" stroke="#8f99a4" stroke-width="0.85" fill="none"/>
<path d="M505.8,505.0 Q509.8,510.8 508.8,516.7 Q507.8,523.1 510.8,529.5" stroke="#8f99a4" stroke-width="0.85" fill="none"/>
<path d="M511.9,504.4 Q515.9,510.0 514.9,515.7 Q513.9,522.2 516.9,528.6" stroke="#8f99a4" stroke-width="0.85" fill="none"/>
<path d="M520.1,502.2 Q524.1,508.4 523.1,514.7 Q522.1,519.8 525.1,525.0" stroke="#8f99a4" stroke-width="0.85" fill="none"/>
<path d="M526.5,501.2 Q530.5,507.5 529.5,513.7 Q528.5,518.5 531.5,523.3" stroke="#8f99a4" stroke-width="0.85" fill="none"/>
<path d="M533.5,502.3 Q537.5,507.5 536.5,512.7 Q535.5,519.6 538.5,526.4" stroke="#8f99a4" stroke-width="0.85" fill="none"/>
<path d="M540.3,502.0 Q544.3,506.9 543.3,511.7 Q542.3,515.9 545.3,520.2" stroke="#8f99a4" stroke-width="0.85" fill="none"/>
<path d="M575.0,440.0 C574.5,443.3 574.5,455.0 572.0,460.0 C569.5,465.0 562.0,468.3 560.0,470.0" stroke="#8d96a0" stroke-width="0.8" fill="none"/>
<path d="M585.0,478.0 C587.5,476.7 595.8,473.8 600.0,470.0 C604.2,466.2 608.3,457.5 610.0,455.0" stroke="#8d96a0" stroke-width="0.8" fill="none"/>
<path d="M545.0,486.0 C547.5,488.3 553.3,496.8 560.0,500.0 C566.7,503.2 578.3,505.0 585.0,505.0 C591.7,505.0 597.5,500.8 600.0,500.0" stroke="#8d96a0" stroke-width="0.8" fill="none"/>
<path d="M560.0,505.0 C562.5,507.5 568.3,517.2 575.0,520.0 C581.7,522.8 595.8,521.7 600.0,522.0" stroke="#8d96a0" stroke-width="0.8" fill="none"/>
<path d="M517.4,541.0 L518.0,541.7 L517.3,542.3 L516.5,542.8 L517.0,543.5 L517.4,544.4 L516.5,544.7 L515.6,545.0 L515.8,545.9 L516.0,546.8 L515.0,546.9 L514.1,546.9 L514.1,547.8 L514.0,548.7 L513.0,548.6 L512.1,548.3 L511.8,549.2 L511.4,550.0 L510.6,549.6 L509.8,549.2 L509.2,549.9 L508.6,550.6 L507.9,550.0 L507.3,549.3 L506.6,549.9 L505.8,550.4 L505.2,549.6 L504.8,548.8 L504.0,549.2 L503.1,549.5 L502.8,548.6 L502.6,547.7 L501.7,547.8 L500.8,547.8 L500.8,546.9 L500.9,546.0 L500.0,545.9 L499.0,545.6 L499.3,544.7 L499.7,543.9 L498.8,543.5 L498.0,543.0 L498.5,542.3 L499.1,541.6 L498.4,541.0 L497.8,540.3 L498.5,539.7 L499.3,539.2 L498.8,538.5 L498.4,537.6 L499.3,537.3 L500.2,537.0 L500.0,536.1 L499.8,535.2 L500.8,535.1 L501.7,535.1 L501.7,534.2 L501.8,533.3 L502.8,533.4 L503.7,533.7 L504.0,532.8 L504.4,532.0 L505.2,532.4 L506.0,532.8 L506.6,532.1 L507.2,531.4 L507.9,532.0 L508.5,532.7 L509.2,532.1 L510.0,531.6 L510.6,532.4 L511.0,533.2 L511.8,532.8 L512.7,532.5 L513.0,533.4 L513.2,534.3 L514.1,534.2 L515.0,534.2 L515.0,535.1 L514.9,536.0 L515.8,536.1 L516.8,536.4 L516.5,537.3 L516.1,538.1 L517.0,538.5 L517.8,539.0 L517.3,539.7 L516.7,540.4Z" fill="#d3a395"/>
<ellipse cx="507.0" cy="539.6" rx="4.0" ry="3.1" fill="#bb8474"/>
<path d="M531.5,544.5 L532.1,545.2 L531.4,545.8 L530.6,546.3 L531.1,547.0 L531.5,547.9 L530.6,548.2 L529.7,548.5 L529.9,549.4 L530.1,550.3 L529.1,550.4 L528.2,550.4 L528.2,551.3 L528.1,552.2 L527.1,552.1 L526.2,551.8 L525.9,552.7 L525.5,553.5 L524.7,553.1 L523.9,552.7 L523.3,553.4 L522.7,554.1 L522.0,553.5 L521.4,552.8 L520.7,553.4 L519.9,553.9 L519.3,553.1 L518.9,552.3 L518.1,552.7 L517.2,553.0 L516.9,552.1 L516.7,551.2 L515.8,551.3 L514.9,551.3 L514.9,550.4 L515.0,549.5 L514.1,549.4 L513.1,549.1 L513.4,548.2 L513.8,547.4 L512.9,547.0 L512.1,546.5 L512.6,545.8 L513.2,545.1 L512.5,544.5 L511.9,543.8 L512.6,543.2 L513.4,542.7 L512.9,542.0 L512.5,541.1 L513.4,540.8 L514.3,540.5 L514.1,539.6 L513.9,538.7 L514.9,538.6 L515.8,538.6 L515.8,537.7 L515.9,536.8 L516.9,536.9 L517.8,537.2 L518.1,536.3 L518.5,535.5 L519.3,535.9 L520.1,536.3 L520.7,535.6 L521.3,534.9 L522.0,535.5 L522.6,536.2 L523.3,535.6 L524.1,535.1 L524.7,535.9 L525.1,536.7 L525.9,536.3 L526.8,536.0 L527.1,536.9 L527.3,537.8 L528.2,537.7 L529.1,537.7 L529.1,538.6 L529.0,539.5 L529.9,539.6 L530.9,539.9 L530.6,540.8 L530.2,541.6 L531.1,542.0 L531.9,542.5 L531.4,543.2 L530.8,543.9Z" fill="#d3a395"/>
<ellipse cx="521.1" cy="543.1" rx="4.0" ry="3.1" fill="#bb8474"/>
<path d="M544.2,541.5 L544.8,542.2 L544.1,542.8 L543.3,543.3 L543.8,544.0 L544.2,544.9 L543.3,545.2 L542.4,545.5 L542.6,546.4 L542.8,547.3 L541.8,547.4 L540.9,547.4 L540.9,548.3 L540.8,549.2 L539.8,549.1 L538.9,548.8 L538.6,549.7 L538.2,550.5 L537.4,550.1 L536.6,549.7 L536.0,550.4 L535.4,551.1 L534.7,550.5 L534.1,549.8 L533.4,550.4 L532.6,550.9 L532.0,550.1 L531.6,549.3 L530.8,549.7 L529.9,550.0 L529.6,549.1 L529.4,548.2 L528.5,548.3 L527.6,548.3 L527.6,547.4 L527.7,546.5 L526.8,546.4 L525.8,546.1 L526.1,545.2 L526.5,544.4 L525.6,544.0 L524.8,543.5 L525.3,542.8 L525.9,542.1 L525.2,541.5 L524.6,540.8 L525.3,540.2 L526.1,539.7 L525.6,539.0 L525.2,538.1 L526.1,537.8 L527.0,537.5 L526.8,536.6 L526.6,535.7 L527.6,535.6 L528.5,535.6 L528.5,534.7 L528.6,533.8 L529.6,533.9 L530.5,534.2 L530.8,533.3 L531.2,532.5 L532.0,532.9 L532.8,533.3 L533.4,532.6 L534.0,531.9 L534.7,532.5 L535.3,533.2 L536.0,532.6 L536.8,532.1 L537.4,532.9 L537.8,533.7 L538.6,533.3 L539.5,533.0 L539.8,533.9 L540.0,534.8 L540.9,534.7 L541.8,534.7 L541.8,535.6 L541.7,536.5 L542.6,536.6 L543.6,536.9 L543.3,537.8 L542.9,538.6 L543.8,539.0 L544.6,539.5 L544.1,540.2 L543.5,540.9Z" fill="#d3a395"/>
<ellipse cx="533.8" cy="540.1" rx="4.0" ry="3.1" fill="#bb8474"/>
<path d="M605.8,537.0 L606.4,537.7 L605.7,538.3 L604.9,538.8 L605.4,539.5 L605.8,540.4 L604.9,540.7 L604.0,541.0 L604.2,541.9 L604.4,542.8 L603.4,542.9 L602.5,542.9 L602.5,543.8 L602.4,544.7 L601.4,544.6 L600.5,544.3 L600.2,545.2 L599.8,546.0 L599.0,545.6 L598.2,545.2 L597.6,545.9 L597.0,546.6 L596.3,546.0 L595.7,545.3 L595.0,545.9 L594.2,546.4 L593.6,545.6 L593.2,544.8 L592.4,545.2 L591.5,545.5 L591.2,544.6 L591.0,543.7 L590.1,543.8 L589.2,543.8 L589.2,542.9 L589.3,542.0 L588.4,541.9 L587.4,541.6 L587.7,540.7 L588.1,539.9 L587.2,539.5 L586.4,539.0 L586.9,538.3 L587.5,537.6 L586.8,537.0 L586.2,536.3 L586.9,535.7 L587.7,535.2 L587.2,534.5 L586.8,533.6 L587.7,533.3 L588.6,533.0 L588.4,532.1 L588.2,531.2 L589.2,531.1 L590.1,531.1 L590.1,530.2 L590.2,529.3 L591.2,529.4 L592.1,529.7 L592.4,528.8 L592.8,528.0 L593.6,528.4 L594.4,528.8 L595.0,528.1 L595.6,527.4 L596.3,528.0 L596.9,528.7 L597.6,528.1 L598.4,527.6 L599.0,528.4 L599.4,529.2 L600.2,528.8 L601.1,528.5 L601.4,529.4 L601.6,530.3 L602.5,530.2 L603.4,530.2 L603.4,531.1 L603.3,532.0 L604.2,532.1 L605.2,532.4 L604.9,533.3 L604.5,534.1 L605.4,534.5 L606.2,535.0 L605.7,535.7 L605.1,536.4Z" fill="#d3a395"/>
<ellipse cx="595.4" cy="535.6" rx="4.0" ry="3.1" fill="#bb8474"/>
<path d="M620.0,531.0 L620.6,531.7 L619.9,532.3 L619.1,532.8 L619.6,533.5 L620.0,534.4 L619.1,534.7 L618.2,535.0 L618.4,535.9 L618.6,536.8 L617.6,536.9 L616.7,536.9 L616.7,537.8 L616.6,538.7 L615.6,538.6 L614.7,538.3 L614.4,539.2 L614.0,540.0 L613.2,539.6 L612.4,539.2 L611.8,539.9 L611.2,540.6 L610.5,540.0 L609.9,539.3 L609.2,539.9 L608.4,540.4 L607.8,539.6 L607.4,538.8 L606.6,539.2 L605.7,539.5 L605.4,538.6 L605.2,537.7 L604.3,537.8 L603.4,537.8 L603.4,536.9 L603.5,536.0 L602.6,535.9 L601.6,535.6 L601.9,534.7 L602.3,533.9 L601.4,533.5 L600.6,533.0 L601.1,532.3 L601.7,531.6 L601.0,531.0 L600.4,530.3 L601.1,529.7 L601.9,529.2 L601.4,528.5 L601.0,527.6 L601.9,527.3 L602.8,527.0 L602.6,526.1 L602.4,525.2 L603.4,525.1 L604.3,525.1 L604.3,524.2 L604.4,523.3 L605.4,523.4 L606.3,523.7 L606.6,522.8 L607.0,522.0 L607.8,522.4 L608.6,522.8 L609.2,522.1 L609.8,521.4 L610.5,522.0 L611.1,522.7 L611.8,522.1 L612.6,521.6 L613.2,522.4 L613.6,523.2 L614.4,522.8 L615.3,522.5 L615.6,523.4 L615.8,524.3 L616.7,524.2 L617.6,524.2 L617.6,525.1 L617.5,526.0 L618.4,526.1 L619.4,526.4 L619.1,527.3 L618.7,528.1 L619.6,528.5 L620.4,529.0 L619.9,529.7 L619.3,530.4Z" fill="#d3a395"/>
<ellipse cx="609.6" cy="529.6" rx="4.0" ry="3.1" fill="#bb8474"/>
<path d="M634.2,521.6 L634.8,522.3 L634.1,522.9 L633.3,523.4 L633.8,524.1 L634.2,525.0 L633.3,525.3 L632.4,525.6 L632.6,526.5 L632.8,527.4 L631.8,527.5 L630.9,527.5 L630.9,528.4 L630.8,529.3 L629.8,529.2 L628.9,528.9 L628.6,529.8 L628.2,530.6 L627.4,530.2 L626.6,529.8 L626.0,530.5 L625.4,531.2 L624.7,530.6 L624.1,529.9 L623.4,530.5 L622.6,531.0 L622.0,530.2 L621.6,529.4 L620.8,529.8 L619.9,530.1 L619.6,529.2 L619.4,528.3 L618.5,528.4 L617.6,528.4 L617.6,527.5 L617.7,526.6 L616.8,526.5 L615.8,526.2 L616.1,525.3 L616.5,524.5 L615.6,524.1 L614.8,523.6 L615.3,522.9 L615.9,522.2 L615.2,521.6 L614.6,520.9 L615.3,520.3 L616.1,519.8 L615.6,519.1 L615.2,518.2 L616.1,517.9 L617.0,517.6 L616.8,516.7 L616.6,515.8 L617.6,515.7 L618.5,515.7 L618.5,514.8 L618.6,513.9 L619.6,514.0 L620.5,514.3 L620.8,513.4 L621.2,512.6 L622.0,513.0 L622.8,513.4 L623.4,512.7 L624.0,512.0 L624.7,512.6 L625.3,513.3 L626.0,512.7 L626.8,512.2 L627.4,513.0 L627.8,513.8 L628.6,513.4 L629.5,513.1 L629.8,514.0 L630.0,514.9 L630.9,514.8 L631.8,514.8 L631.8,515.7 L631.7,516.6 L632.6,516.7 L633.6,517.0 L633.3,517.9 L632.9,518.7 L633.8,519.1 L634.6,519.6 L634.1,520.3 L633.5,521.0Z" fill="#d3a395"/>
<ellipse cx="623.8" cy="520.2" rx="4.0" ry="3.1" fill="#bb8474"/>
<path d="M643.7,510.5 L644.3,511.2 L643.6,511.8 L642.8,512.3 L643.3,513.0 L643.7,513.9 L642.8,514.2 L641.9,514.5 L642.1,515.4 L642.3,516.3 L641.3,516.4 L640.4,516.4 L640.4,517.3 L640.3,518.2 L639.3,518.1 L638.4,517.8 L638.1,518.7 L637.7,519.5 L636.9,519.1 L636.1,518.7 L635.5,519.4 L634.9,520.1 L634.2,519.5 L633.6,518.8 L632.9,519.4 L632.1,519.9 L631.5,519.1 L631.1,518.3 L630.3,518.7 L629.4,519.0 L629.1,518.1 L628.9,517.2 L628.0,517.3 L627.1,517.3 L627.1,516.4 L627.2,515.5 L626.3,515.4 L625.3,515.1 L625.6,514.2 L626.0,513.4 L625.1,513.0 L624.3,512.5 L624.8,511.8 L625.4,511.1 L624.8,510.5 L624.1,509.8 L624.8,509.2 L625.6,508.7 L625.1,508.0 L624.7,507.1 L625.6,506.8 L626.5,506.5 L626.3,505.6 L626.1,504.7 L627.1,504.6 L628.0,504.6 L628.0,503.7 L628.1,502.8 L629.1,502.9 L630.0,503.2 L630.3,502.3 L630.7,501.5 L631.5,501.9 L632.3,502.3 L632.9,501.6 L633.5,500.9 L634.2,501.5 L634.8,502.2 L635.5,501.6 L636.3,501.1 L636.9,501.9 L637.3,502.7 L638.1,502.3 L639.0,502.0 L639.3,502.9 L639.5,503.8 L640.4,503.7 L641.3,503.7 L641.3,504.6 L641.2,505.5 L642.1,505.6 L643.1,505.9 L642.8,506.8 L642.4,507.6 L643.3,508.0 L644.1,508.5 L643.6,509.2 L643.0,509.9Z" fill="#d3a395"/>
<ellipse cx="633.3" cy="509.1" rx="4.0" ry="3.1" fill="#bb8474"/>
<path d="M651.5,498.0 L652.1,498.7 L651.4,499.3 L650.6,499.8 L651.1,500.5 L651.5,501.4 L650.6,501.7 L649.7,502.0 L649.9,502.9 L650.1,503.8 L649.1,503.9 L648.2,503.9 L648.2,504.8 L648.1,505.7 L647.1,505.6 L646.2,505.3 L645.9,506.2 L645.5,507.0 L644.7,506.6 L643.9,506.2 L643.3,506.9 L642.7,507.6 L642.0,507.0 L641.4,506.3 L640.7,506.9 L639.9,507.4 L639.3,506.6 L638.9,505.8 L638.1,506.2 L637.2,506.5 L636.9,505.6 L636.7,504.7 L635.8,504.8 L634.9,504.8 L634.9,503.9 L635.0,503.0 L634.1,502.9 L633.1,502.6 L633.4,501.7 L633.8,500.9 L632.9,500.5 L632.1,500.0 L632.6,499.3 L633.2,498.6 L632.5,498.0 L631.9,497.3 L632.6,496.7 L633.4,496.2 L632.9,495.5 L632.5,494.6 L633.4,494.3 L634.3,494.0 L634.1,493.1 L633.9,492.2 L634.9,492.1 L635.8,492.1 L635.8,491.2 L635.9,490.3 L636.9,490.4 L637.8,490.7 L638.1,489.8 L638.5,489.0 L639.3,489.4 L640.1,489.8 L640.7,489.1 L641.3,488.4 L642.0,489.0 L642.6,489.7 L643.3,489.1 L644.1,488.6 L644.7,489.4 L645.1,490.2 L645.9,489.8 L646.8,489.5 L647.1,490.4 L647.3,491.3 L648.2,491.2 L649.1,491.2 L649.1,492.1 L649.0,493.0 L649.9,493.1 L650.9,493.4 L650.6,494.3 L650.2,495.1 L651.1,495.5 L651.9,496.0 L651.4,496.7 L650.8,497.4Z" fill="#d3a395"/>
<ellipse cx="641.1" cy="496.6" rx="4.0" ry="3.1" fill="#bb8474"/>
<path d="M656.2,485.3 L656.9,486.0 L656.2,486.6 L655.4,487.1 L655.9,487.8 L656.3,488.7 L655.4,489.0 L654.5,489.3 L654.7,490.2 L654.9,491.1 L653.9,491.2 L653.0,491.2 L653.0,492.1 L652.9,493.0 L651.9,492.9 L651.0,492.6 L650.7,493.5 L650.3,494.3 L649.5,493.9 L648.7,493.5 L648.1,494.2 L647.5,494.9 L646.8,494.3 L646.2,493.6 L645.5,494.2 L644.7,494.7 L644.1,493.9 L643.7,493.1 L642.9,493.5 L642.0,493.8 L641.7,492.9 L641.5,492.0 L640.6,492.1 L639.7,492.1 L639.7,491.2 L639.8,490.3 L638.9,490.2 L637.9,489.9 L638.2,489.0 L638.6,488.2 L637.7,487.8 L636.9,487.3 L637.4,486.6 L638.0,485.9 L637.3,485.3 L636.7,484.6 L637.4,484.0 L638.2,483.5 L637.7,482.8 L637.3,481.9 L638.2,481.6 L639.1,481.3 L638.9,480.4 L638.7,479.5 L639.7,479.4 L640.6,479.4 L640.6,478.5 L640.7,477.6 L641.7,477.7 L642.6,478.0 L642.9,477.1 L643.3,476.3 L644.1,476.7 L644.9,477.1 L645.5,476.4 L646.1,475.7 L646.8,476.3 L647.4,477.0 L648.1,476.4 L648.9,475.9 L649.5,476.7 L649.9,477.5 L650.7,477.1 L651.6,476.8 L651.9,477.7 L652.1,478.6 L653.0,478.5 L653.9,478.5 L653.9,479.4 L653.8,480.3 L654.7,480.4 L655.7,480.7 L655.4,481.6 L655.0,482.4 L655.9,482.8 L656.7,483.3 L656.2,484.0 L655.6,484.7Z" fill="#d3a395"/>
<ellipse cx="645.9" cy="483.9" rx="4.0" ry="3.1" fill="#bb8474"/>
<path d="M661.1,474.2 L661.7,474.9 L661.0,475.5 L660.2,476.0 L660.7,476.7 L661.1,477.6 L660.2,477.9 L659.3,478.2 L659.5,479.1 L659.7,480.0 L658.7,480.1 L657.8,480.1 L657.8,481.0 L657.7,481.9 L656.7,481.8 L655.8,481.5 L655.5,482.4 L655.1,483.2 L654.3,482.8 L653.5,482.4 L652.9,483.1 L652.3,483.8 L651.6,483.2 L651.0,482.5 L650.3,483.1 L649.5,483.6 L648.9,482.8 L648.5,482.0 L647.7,482.4 L646.8,482.7 L646.5,481.8 L646.3,480.9 L645.4,481.0 L644.5,481.0 L644.5,480.1 L644.6,479.2 L643.7,479.1 L642.7,478.8 L643.0,477.9 L643.4,477.1 L642.5,476.7 L641.7,476.2 L642.2,475.5 L642.8,474.8 L642.1,474.2 L641.5,473.5 L642.2,472.9 L643.0,472.4 L642.5,471.7 L642.1,470.8 L643.0,470.5 L643.9,470.2 L643.7,469.3 L643.5,468.4 L644.5,468.3 L645.4,468.3 L645.4,467.4 L645.5,466.5 L646.5,466.6 L647.4,466.9 L647.7,466.0 L648.1,465.2 L648.9,465.6 L649.7,466.0 L650.3,465.3 L650.9,464.6 L651.6,465.2 L652.2,465.9 L652.9,465.3 L653.7,464.8 L654.3,465.6 L654.7,466.4 L655.5,466.0 L656.4,465.7 L656.7,466.6 L656.9,467.5 L657.8,467.4 L658.7,467.4 L658.7,468.3 L658.6,469.2 L659.5,469.3 L660.5,469.6 L660.2,470.5 L659.8,471.3 L660.7,471.7 L661.5,472.2 L661.0,472.9 L660.4,473.6Z" fill="#d3a395"/>
<ellipse cx="650.7" cy="472.8" rx="4.0" ry="3.1" fill="#bb8474"/>
<path d="M665.8,464.7 L666.4,465.4 L665.7,466.0 L664.9,466.5 L665.4,467.2 L665.8,468.1 L664.9,468.4 L664.0,468.7 L664.2,469.6 L664.4,470.5 L663.4,470.6 L662.5,470.6 L662.5,471.5 L662.4,472.4 L661.4,472.3 L660.5,472.0 L660.2,472.9 L659.8,473.7 L659.0,473.3 L658.2,472.9 L657.6,473.6 L657.0,474.3 L656.3,473.7 L655.7,473.0 L655.0,473.6 L654.2,474.1 L653.6,473.3 L653.2,472.5 L652.4,472.9 L651.5,473.2 L651.2,472.3 L651.0,471.4 L650.1,471.5 L649.2,471.5 L649.2,470.6 L649.3,469.7 L648.4,469.6 L647.4,469.3 L647.7,468.4 L648.1,467.6 L647.2,467.2 L646.4,466.7 L646.9,466.0 L647.5,465.3 L646.8,464.7 L646.2,464.0 L646.9,463.4 L647.7,462.9 L647.2,462.2 L646.8,461.3 L647.7,461.0 L648.6,460.7 L648.4,459.8 L648.2,458.9 L649.2,458.8 L650.1,458.8 L650.1,457.9 L650.2,457.0 L651.2,457.1 L652.1,457.4 L652.4,456.5 L652.8,455.7 L653.6,456.1 L654.4,456.5 L655.0,455.8 L655.6,455.1 L656.3,455.7 L656.9,456.4 L657.6,455.8 L658.4,455.3 L659.0,456.1 L659.4,456.9 L660.2,456.5 L661.1,456.2 L661.4,457.1 L661.6,458.0 L662.5,457.9 L663.4,457.9 L663.4,458.8 L663.3,459.7 L664.2,459.8 L665.2,460.1 L664.9,461.0 L664.5,461.8 L665.4,462.2 L666.2,462.7 L665.7,463.4 L665.1,464.1Z" fill="#d3a395"/>
<ellipse cx="655.4" cy="463.3" rx="4.0" ry="3.1" fill="#bb8474"/>
<g transform="translate(568 550) rotate(0)"><path d="M-26.0,0.0 L-25.9,-1.3 L-25.7,-2.5 L-25.3,-3.7 L-24.7,-4.9 L-24.0,-6.1 L-23.2,-7.3 L-22.2,-8.4 L-21.0,-9.4 L-19.8,-10.4 L-18.4,-11.3 L-16.9,-12.2 L-15.3,-12.9 L-13.6,-13.6 L-11.8,-14.3 L-9.9,-14.8 L-8.0,-15.2 L-6.1,-15.6 L-4.1,-15.8 L-2.0,-16.0 L-0.0,-16.0 L2.0,-16.0 L4.1,-15.8 L6.1,-15.6 L8.0,-15.2 L9.9,-14.8 L11.8,-14.3 L13.6,-13.6 L15.3,-12.9 L16.9,-12.2 L18.4,-11.3 L19.8,-10.4 L21.0,-9.4 L22.2,-8.4 L23.2,-7.3 L24.0,-6.1 L24.7,-4.9 L25.3,-3.7 L25.7,-2.5 L25.9,-1.3 L26.0,-0.0 L26.0,0.0 L25.9,1.7 L25.7,0.9 L25.3,2.7 L24.7,1.7 L24.0,3.7 L23.2,2.5 L22.2,4.6 L21.0,3.3 L19.8,5.5 L18.4,4.0 L16.9,6.2 L15.3,4.5 L13.6,6.8 L11.8,5.0 L9.9,7.3 L8.0,5.3 L6.1,7.6 L4.1,5.5 L2.0,7.7 L0.0,5.6 L-2.0,7.7 L-4.1,5.5 L-6.1,7.6 L-8.0,5.3 L-9.9,7.3 L-11.8,5.0 L-13.6,6.8 L-15.3,4.5 L-16.9,6.2 L-18.4,4.0 L-19.8,5.5 L-21.0,3.3 L-22.2,4.6 L-23.2,2.5 L-24.0,3.7 L-24.7,1.7 L-25.3,2.7 L-25.7,0.9 L-25.9,1.7 L-26.0,0.0Z" fill="#a59a3b"/><ellipse cx="-15.6" cy="-3.2" rx="2.6" ry="1.6" fill="#7c6634"/><ellipse cx="-7.8" cy="-8.8" rx="2.6" ry="1.6" fill="#7c6634"/><ellipse cx="0.0" cy="-4.8" rx="3.1" ry="1.9" fill="#7c6634"/><ellipse cx="7.8" cy="-8.8" rx="2.6" ry="1.6" fill="#7c6634"/><ellipse cx="13.0" cy="-3.2" rx="2.6" ry="1.6" fill="#7c6634"/><ellipse cx="-2.6" cy="-12.0" rx="2.3" ry="1.4" fill="#7c6634"/><ellipse cx="3.9" cy="0.0" rx="2.6" ry="1.6" fill="#7c6634"/></g>
<g transform="translate(568.0 523.0) rotate(-2.6)"><path d="M-22.0,0 Q-11.0,-4.5 0,-4.5 Q11.0,-4.5 22.0,-1.3 L19.0,0 L22.0,2.2 Q11.0,4.5 0,4.5 Q-11.0,4.5 -22.0,0Z" fill="#c27968"/><ellipse cx="0" cy="0" rx="6.2" ry="2.2" fill="#9e4a3c"/></g>
<ellipse cx="590" cy="483.7" rx="98.5" ry="77.4" fill="none" stroke="#cb2a7f" stroke-width="1.8"/>
<ellipse cx="579.0" cy="423.7" rx="13.3" ry="15.8" fill="#fdf6b4" stroke="#c9a651" stroke-width="1"/>
<circle cx="593.0" cy="444.2" r="8.5" fill="#f3a6de"/>
<ellipse cx="590.9" cy="442.1" rx="2.7" ry="2.1" fill="#c45aa8"/>
<ellipse cx="593.9" cy="446.8" rx="3.0" ry="2.1" fill="#c45aa8"/>
<circle cx="618.4" cy="442.6" r="9.8" fill="#b07ad8"/>
<circle cx="618.4" cy="442.6" r="4.9" fill="#8b55b8"/>
<path d="M616.9,458.4 L618.2,459.5 L616.7,460.3 L615.2,460.8 L616.2,462.0 L617.0,463.5 L615.3,463.7 L613.7,463.6 L614.1,465.1 L614.3,466.8 L612.7,466.3 L611.3,465.6 L611.0,467.2 L610.5,468.8 L609.3,467.7 L608.2,466.5 L607.4,467.9 L606.3,469.2 L605.5,467.7 L605.0,466.2 L603.8,467.2 L602.3,468.0 L602.1,466.3 L602.2,464.7 L600.7,465.1 L599.0,465.3 L599.5,463.7 L600.2,462.3 L598.6,462.0 L597.0,461.5 L598.1,460.3 L599.3,459.2 L597.9,458.4 L596.6,457.3 L598.1,456.5 L599.6,456.0 L598.6,454.8 L597.8,453.3 L599.5,453.1 L601.1,453.2 L600.7,451.7 L600.5,450.0 L602.1,450.5 L603.5,451.2 L603.8,449.6 L604.3,448.0 L605.5,449.1 L606.6,450.3 L607.4,448.9 L608.5,447.6 L609.3,449.1 L609.8,450.6 L611.0,449.6 L612.5,448.8 L612.7,450.5 L612.6,452.1 L614.1,451.7 L615.8,451.5 L615.3,453.1 L614.6,454.5 L616.2,454.8 L617.8,455.3 L616.7,456.5 L615.5,457.6Z" fill="#d75b9c"/>
<ellipse cx="608.8" cy="458.4" rx="4.0" ry="5.2" fill="#a8116e"/>
<circle cx="628.8" cy="459.4" r="8.4" fill="#22b5a5"/>
<circle cx="628.8" cy="459.4" r="4.2" fill="#0e8a80"/>
<circle cx="594.7" cy="485.9" r="9.2" fill="#f28a3a"/>
<circle cx="594.7" cy="485.9" r="4.6" fill="#e06a10"/>
<path d="M629.2,489.1 L620.6,488.8 L621.5,497.4 L616.4,490.5 L610.3,496.6 L612.5,488.2 L603.9,487.2 L611.8,483.8 L607.3,476.5 L614.9,480.5 L617.8,472.3 L619.4,480.8 L627.5,478.0 L621.9,484.5Z" fill="#f7852a"/>
<ellipse cx="616.8" cy="485.3" rx="4.2" ry="2.6" transform="rotate(-43 616.8 485.3)" fill="#e0661a"/>
<circle cx="594.7" cy="510.5" r="9.8" fill="#8e8ef0"/>
<circle cx="594.7" cy="510.5" r="4.9" fill="#6c6cd8"/>
<circle cx="574.2" cy="468.8" r="9.4" fill="#d8101e"/>
<circle cx="574.2" cy="468.8" r="5.8" fill="#b8000e"/>
<circle cx="569.5" cy="491.6" r="9.4" fill="#d8101e"/>
<circle cx="569.5" cy="491.6" r="5.8" fill="#b8000e"/>
<circle cx="550.5" cy="501.0" r="9.4" fill="#d8101e"/>
<circle cx="550.5" cy="501.0" r="5.8" fill="#b8000e"/>
<g fill="#f4a090"><circle cx="546.0" cy="472.0" r="11.2"/><circle cx="536.7" cy="477.9" r="6.1"/><circle cx="533.9" cy="465.2" r="4.4"/><circle cx="547.8" cy="462.2" r="6.3"/><circle cx="555.7" cy="463.3" r="6.3"/><circle cx="558.4" cy="478.6" r="5.9"/><circle cx="546.4" cy="485.9" r="5.3"/></g>
<path d="M552.6,473.0 L552.6,473.6 L552.6,474.2 L552.6,474.8 L552.5,475.5 L552.4,476.1 L552.2,476.8 L551.8,477.4 L551.4,477.9 L550.9,478.4 L550.3,478.8 L549.7,479.1 L549.0,479.3 L548.4,479.4 L547.7,479.5 L547.0,479.5 L546.3,479.5 L545.6,479.4 L545.0,479.3 L544.3,479.1 L543.6,478.9 L542.9,478.6 L542.3,478.3 L541.7,477.8 L541.2,477.2 L540.7,476.6 L540.5,475.9 L540.3,475.2 L540.3,474.4 L540.4,473.7 L540.7,473.0 L541.0,472.4 L541.3,471.8 L541.7,471.3 L542.1,470.8 L542.5,470.4 L542.8,470.0 L543.1,469.5 L543.4,469.0 L543.7,468.5 L544.1,467.9 L544.5,467.3 L545.0,466.8 L545.6,466.2 L546.2,465.8 L547.0,465.5 L547.8,465.3 L548.6,465.3 L549.4,465.5 L550.2,465.9 L550.8,466.4 L551.4,467.0 L551.8,467.7 L552.1,468.4 L552.3,469.2 L552.4,469.9 L552.4,470.6 L552.5,471.2 L552.5,471.8 L552.5,472.4Z" fill="#e07a6a"/>
<circle cx="557.3" cy="473.7" r="0.7" fill="#e58a7a"/>
<circle cx="556.0" cy="478.2" r="0.7" fill="#e58a7a"/>
<circle cx="554.8" cy="473.1" r="0.7" fill="#e58a7a"/>
<circle cx="544.6" cy="462.2" r="0.7" fill="#e58a7a"/>
<circle cx="552.5" cy="481.0" r="0.7" fill="#e58a7a"/>
<circle cx="534.4" cy="474.2" r="0.7" fill="#e58a7a"/>
<ellipse cx="534.7" cy="505.8" rx="3" ry="6" fill="#b27ad6"/>
<ellipse cx="526.8" cy="456.8" rx="3" ry="6" transform="rotate(50 526.8 456.8)" fill="#b27ad6"/>
<circle cx="536.3" cy="442.6" r="2.2" fill="#1a9ad0"/><circle cx="484.5" cy="474.7" r="2.2" fill="#1a9ad0"/>
<path d="M446,372 Q470,380 491,390 Q510,399 525,410 Q540,423 548,438 Q553,448 556.7,457" stroke="#b50c1a" stroke-width="1.8" fill="none"/>
<ellipse cx="500" cy="395" rx="12" ry="2.6" transform="rotate(28 500 395)" fill="#b50c1a"/>
<path d="M531,414 Q545,425 551,445 Q542,432 531,414Z" fill="#b50c1a" stroke="#b50c1a" stroke-width="2"/>
<path d="M488,492 Q495,496 502,496 Q520,494 540,488" stroke="#b50c1a" stroke-width="1.8" fill="none"/>
<ellipse cx="513" cy="495" rx="11" ry="2.6" transform="rotate(-6 513 495)" fill="#b50c1a"/>
<ellipse cx="508.5" cy="477.4" rx="10.0" ry="5.0" transform="rotate(-15 508.5 477.4)" fill="#d0021b"/>
<circle cx="521.0" cy="427.5" r="8.5" fill="#d0021b"/>
<circle cx="521.0" cy="427.5" r="5.3" fill="#c0001a"/>
<g fill="#f4a090"><circle cx="491.0" cy="445.0" r="10.5"/><circle cx="481.1" cy="445.3" r="3.8"/><circle cx="483.2" cy="435.7" r="4.1"/><circle cx="491.5" cy="435.4" r="4.3"/><circle cx="501.0" cy="443.2" r="5.2"/><circle cx="505.8" cy="444.6" r="2.8"/><circle cx="497.7" cy="455.9" r="4.6"/><circle cx="497.7" cy="460.6" r="2.5"/><circle cx="487.9" cy="456.3" r="4.3"/></g>
<path d="M498.1,446.0 L497.8,446.6 L497.6,447.2 L497.3,447.7 L497.0,448.2 L496.7,448.7 L496.4,449.2 L496.1,449.7 L495.8,450.2 L495.4,450.6 L494.9,451.1 L494.4,451.4 L493.9,451.7 L493.3,451.9 L492.6,452.1 L492.0,452.1 L491.4,452.0 L490.7,451.9 L490.2,451.7 L489.6,451.4 L489.0,451.2 L488.5,450.8 L488.0,450.5 L487.4,450.1 L486.9,449.7 L486.4,449.2 L486.0,448.7 L485.6,448.1 L485.3,447.4 L485.1,446.7 L485.0,446.0 L485.1,445.3 L485.3,444.6 L485.6,443.9 L486.1,443.4 L486.6,442.9 L487.2,442.5 L487.8,442.2 L488.4,442.0 L489.0,441.9 L489.5,441.7 L490.0,441.6 L490.5,441.4 L491.0,441.2 L491.5,441.0 L492.0,440.7 L492.6,440.5 L493.2,440.2 L493.9,440.1 L494.7,440.0 L495.4,440.1 L496.2,440.3 L496.9,440.6 L497.5,441.1 L497.9,441.7 L498.3,442.4 L498.5,443.1 L498.6,443.9 L498.5,444.6 L498.3,445.3Z" fill="#e07a6a"/>
<circle cx="498.3" cy="447.9" r="0.7" fill="#e58a7a"/>
<circle cx="494.5" cy="452.4" r="0.7" fill="#e58a7a"/>
<circle cx="497.6" cy="453.8" r="0.7" fill="#e58a7a"/>
<circle cx="485.3" cy="450.6" r="0.7" fill="#e58a7a"/>
<circle cx="481.7" cy="443.2" r="0.7" fill="#e58a7a"/>
<circle cx="494.1" cy="437.0" r="0.7" fill="#e58a7a"/>
<path d="M483.2,439.6 L480.1,439.6 L479.5,442.4 L478.2,440.4 L476.0,441.9 L476.2,439.7 L473.1,439.8 L475.8,437.3 L473.9,435.5 L476.5,435.5 L478.5,432.9 L478.7,435.7 L482.4,435.2 L480.9,437.7Z" fill="#f6dc7a" stroke="#f6dc7a" stroke-width="0.8" stroke-linejoin="round"/>
<circle cx="478.0" cy="438.0" r="1.9" fill="#f9eaa6"/>
<path d="M499.4,440.9 L497.2,438.7 L495.9,440.6 L495.2,438.1 L492.0,437.5 L494.5,435.4 L492.4,433.3 L495.8,433.4 L497.0,430.9 L497.6,433.3 L500.2,431.9 L499.6,434.9 L501.8,436.5 L499.7,437.2Z" fill="#f6dc7a" stroke="#f6dc7a" stroke-width="0.8" stroke-linejoin="round"/>
<circle cx="497.0" cy="436.0" r="1.9" fill="#f9eaa6"/>
<path d="M504.6,456.9 L501.3,457.3 L501.4,460.2 L499.6,457.5 L496.4,458.3 L497.4,455.7 L494.5,455.4 L497.6,453.6 L497.1,450.4 L499.1,452.3 L501.4,450.2 L501.8,453.0 L503.9,453.0 L502.6,455.5Z" fill="#f6dc7a" stroke="#f6dc7a" stroke-width="0.8" stroke-linejoin="round"/>
<circle cx="500.0" cy="455.0" r="1.9" fill="#f9eaa6"/>
<path d="M482.7,461.4 L481.3,460.5 L479.8,463.5 L478.6,460.4 L476.4,460.9 L477.1,457.9 L475.4,456.5 L477.7,456.2 L478.3,453.0 L480.6,455.2 L483.1,453.7 L482.3,456.6 L484.7,457.3 L482.7,458.8Z" fill="#f6dc7a" stroke="#f6dc7a" stroke-width="0.8" stroke-linejoin="round"/>
<circle cx="480.0" cy="458.0" r="1.9" fill="#f9eaa6"/>
<path d="M495.7,432.8 L492.9,433.9 L492.8,436.0 L490.6,434.7 L488.6,436.5 L488.5,433.3 L486.6,433.1 L488.2,431.5 L486.8,429.0 L490.1,429.7 L491.2,427.1 L492.1,429.3 L495.0,428.3 L493.4,431.7Z" fill="#f6dc7a" stroke="#f6dc7a" stroke-width="0.8" stroke-linejoin="round"/>
<circle cx="491.0" cy="432.0" r="1.9" fill="#f9eaa6"/>
<path d="M495.0,502.0 L495.8,503.6 L494.6,504.8 L493.2,505.9 L493.4,507.5 L493.3,509.2 L491.5,509.8 L489.7,510.0 L489.0,511.5 L488.0,513.0 L486.1,512.6 L484.4,512.0 L483.0,513.0 L481.3,513.8 L479.9,512.6 L478.8,511.3 L477.0,511.5 L475.1,511.4 L474.5,509.8 L474.2,508.2 L472.6,507.5 L471.0,506.5 L471.4,504.8 L472.1,503.3 L471.0,502.0 L470.2,500.4 L471.4,499.2 L472.8,498.1 L472.6,496.5 L472.7,494.8 L474.5,494.2 L476.3,494.0 L477.0,492.5 L478.0,491.0 L479.9,491.4 L481.6,492.0 L483.0,491.0 L484.7,490.2 L486.1,491.4 L487.2,492.7 L489.0,492.5 L490.9,492.6 L491.5,494.2 L491.8,495.8 L493.4,496.5 L495.0,497.5 L494.6,499.2 L493.9,500.7Z" fill="#f8d98a"/>
<path d="M489.0,503.0 L489.5,504.2 L488.5,505.1 L487.5,505.8 L487.2,506.9 L486.7,508.0 L485.3,508.1 L484.1,507.9 L483.0,508.5 L481.7,508.9 L480.7,508.1 L480.0,507.1 L478.8,506.9 L477.5,506.4 L477.5,505.1 L477.7,504.0 L477.0,503.0 L476.5,501.8 L477.5,500.9 L478.5,500.2 L478.8,499.1 L479.3,498.0 L480.7,497.9 L481.9,498.1 L483.0,497.5 L484.3,497.1 L485.3,497.9 L486.0,498.9 L487.2,499.1 L488.5,499.6 L488.5,500.9 L488.3,502.0Z" fill="#f5a623"/>
<path d="M34.5,448.0 L35.1,449.2 L34.2,450.3 L33.3,451.3 L33.5,452.6 L33.4,453.9 L32.2,454.5 L31.0,455.0 L30.5,456.2 L29.9,457.4 L28.6,457.5 L27.3,457.3 L26.3,458.2 L25.2,459.1 L24.0,458.5 L22.9,457.8 L21.7,458.2 L20.3,458.5 L19.4,457.5 L18.7,456.4 L17.5,456.2 L16.1,455.9 L15.8,454.5 L15.6,453.3 L14.5,452.6 L13.5,451.7 L13.8,450.3 L14.2,449.1 L13.5,448.0 L12.9,446.8 L13.8,445.7 L14.7,444.7 L14.5,443.4 L14.6,442.1 L15.8,441.5 L17.0,441.0 L17.5,439.8 L18.1,438.6 L19.4,438.5 L20.7,438.7 L21.7,437.8 L22.8,436.9 L24.0,437.5 L25.1,438.2 L26.3,437.8 L27.7,437.5 L28.6,438.5 L29.3,439.6 L30.5,439.8 L31.9,440.1 L32.2,441.5 L32.4,442.7 L33.5,443.4 L34.5,444.3 L34.2,445.7 L33.8,446.9Z" fill="#f5a394" opacity="1"/>
<circle cx="24.0" cy="448.0" r="4.5" fill="#ec8a7a" opacity="1"/>
<circle cx="24.0" cy="471.0" r="8.5" fill="#d0021b"/>
<circle cx="24.0" cy="471.0" r="5.3" fill="#c0001a"/>
<path d="M38.7,490.2 L33.3,490.9 L33.2,496.1 L30.7,491.8 L28.0,495.6 L27.9,490.0 L23.1,488.1 L27.2,487.1 L24.9,482.8 L29.4,484.1 L31.6,481.2 L33.5,484.2 L36.2,483.2 L35.6,487.6Z" fill="#f6dc7a" stroke="#f6dc7a" stroke-width="0.8" stroke-linejoin="round"/>
<circle cx="31.0" cy="488.0" r="3.0" fill="#f9eaa6"/>
<circle cx="15.5" cy="509.0" r="11.5" fill="#c996dc"/>
<circle cx="15.5" cy="509.0" r="9.9" fill="#b97bd2"/>
<path d="M17.2,504.2 Q10.3,503.2 12.1,509.0 Q10.3,514.2 17.8,513.4" stroke="#5b1780" stroke-width="2.5" fill="none" stroke-linecap="round"/>
<circle cx="17.6" cy="504.4" r="2.3" fill="#5b1780"/>
<circle cx="11.7" cy="508.4" r="2.8" fill="#5b1780"/>
<circle cx="18.0" cy="513.1" r="2.3" fill="#5b1780"/>
<circle cx="14.9" cy="509.2" r="1.5" fill="#5b1780"/>
<circle cx="30.0" cy="505.5" r="8.5" fill="#3cc0ee"/>
<circle cx="30.0" cy="505.5" r="7.2" fill="#2fb3e8"/>
<circle cx="30.0" cy="505.5" r="4.2" fill="#1b8ed0"/>
<circle cx="31.0" cy="520.0" r="8.5" fill="#1eb3a5"/>
<circle cx="31.0" cy="520.0" r="4.2" fill="#0e8f84"/>
<ellipse cx="18.0" cy="539.5" rx="14.0" ry="16.0" fill="#fdf6b4" stroke="#c9a651" stroke-width="1"/>
<path d="M43.0,562.0 L44.2,563.0 L42.8,563.8 L41.4,564.2 L42.3,565.4 L43.0,566.8 L41.5,567.0 L40.0,566.9 L40.4,568.4 L40.5,569.9 L39.0,569.5 L37.6,568.8 L37.4,570.3 L37.0,571.8 L35.8,570.8 L34.8,569.7 L34.0,571.0 L33.0,572.2 L32.2,570.8 L31.8,569.4 L30.6,570.3 L29.2,571.0 L29.0,569.5 L29.1,568.0 L27.6,568.4 L26.1,568.5 L26.5,567.0 L27.2,565.6 L25.7,565.4 L24.2,565.0 L25.2,563.8 L26.3,562.8 L25.0,562.0 L23.8,561.0 L25.2,560.2 L26.6,559.8 L25.7,558.6 L25.0,557.2 L26.5,557.0 L28.0,557.1 L27.6,555.6 L27.5,554.1 L29.0,554.5 L30.4,555.2 L30.6,553.7 L31.0,552.2 L32.2,553.2 L33.2,554.3 L34.0,553.0 L35.0,551.8 L35.8,553.2 L36.2,554.6 L37.4,553.7 L38.8,553.0 L39.0,554.5 L38.9,556.0 L40.4,555.6 L41.9,555.5 L41.5,557.0 L40.8,558.4 L42.3,558.6 L43.8,559.0 L42.8,560.2 L41.7,561.2Z" fill="#d75b9c"/>
<ellipse cx="35.4" cy="562.0" rx="3.8" ry="5.0" fill="#a8116e"/>
<circle cx="34.0" cy="585.0" r="10.0" fill="#9494ec"/>
<circle cx="34.0" cy="585.0" r="5.0" fill="#7474d8"/>
<circle cx="50.5" cy="601.5" r="9.5" fill="#e0303a"/>
<circle cx="50.5" cy="601.5" r="7.4" fill="#b3000f"/>
<g transform="translate(45 620) scale(1.25 0.52)">
<path d="M14.9,1.5 L5.1,3.1 L8.1,12.6 L0.7,6.0 L-4.8,14.2 L-4.2,4.3 L-14.1,5.1 L-6.0,-0.6 L-12.8,-7.8 L-3.3,-5.0 L-1.9,-14.9 L1.9,-5.7 L10.5,-10.7 L5.6,-2.1Z" fill="#f7852a"/>
<ellipse cx="0.0" cy="0.0" rx="4.8" ry="3.0" transform="rotate(-54 0.0 0.0)" fill="#e0661a"/>
</g>
<path d="M174,528 Q190,520 205,522 Q220,524 232,535" stroke="#c8101e" stroke-width="2.6" fill="none" stroke-linecap="round"/>
<ellipse cx="205" cy="522.5" rx="9" ry="2.5" fill="#c8101e"/>
<g transform="translate(204 553) rotate(6)"><path d="M-28.5,0.0 L-28.4,-1.2 L-28.1,-2.4 L-27.7,-3.6 L-27.1,-4.8 L-26.3,-5.9 L-25.4,-7.0 L-24.3,-8.1 L-23.1,-9.1 L-21.7,-10.1 L-20.2,-11.0 L-18.5,-11.8 L-16.8,-12.5 L-14.9,-13.2 L-12.9,-13.8 L-10.9,-14.3 L-8.8,-14.7 L-6.7,-15.1 L-4.5,-15.3 L-2.2,-15.5 L-0.0,-15.5 L2.2,-15.5 L4.5,-15.3 L6.7,-15.1 L8.8,-14.7 L10.9,-14.3 L12.9,-13.8 L14.9,-13.2 L16.8,-12.5 L18.5,-11.8 L20.2,-11.0 L21.7,-10.1 L23.1,-9.1 L24.3,-8.1 L25.4,-7.0 L26.3,-5.9 L27.1,-4.8 L27.7,-3.6 L28.1,-2.4 L28.4,-1.2 L28.5,-0.0 L28.5,0.0 L28.4,1.7 L28.1,0.8 L27.7,2.7 L27.1,1.7 L26.3,3.6 L25.4,2.5 L24.3,4.5 L23.1,3.2 L21.7,5.3 L20.2,3.8 L18.5,6.0 L16.8,4.4 L14.9,6.6 L12.9,4.8 L10.9,7.1 L8.8,5.2 L6.7,7.4 L4.5,5.4 L2.2,7.5 L0.0,5.4 L-2.2,7.5 L-4.5,5.4 L-6.7,7.4 L-8.8,5.2 L-10.9,7.1 L-12.9,4.8 L-14.9,6.6 L-16.8,4.4 L-18.5,6.0 L-20.2,3.8 L-21.7,5.3 L-23.1,3.2 L-24.3,4.5 L-25.4,2.5 L-26.3,3.6 L-27.1,1.7 L-27.7,2.7 L-28.1,0.8 L-28.4,1.7 L-28.5,0.0Z" fill="#a59a3b"/><ellipse cx="-17.1" cy="-3.1" rx="2.9" ry="1.7" fill="#7c6634"/><ellipse cx="-8.5" cy="-8.5" rx="2.9" ry="1.7" fill="#7c6634"/><ellipse cx="0.0" cy="-4.6" rx="3.4" ry="2.1" fill="#7c6634"/><ellipse cx="8.5" cy="-8.5" rx="2.9" ry="1.7" fill="#7c6634"/><ellipse cx="14.2" cy="-3.1" rx="2.9" ry="1.7" fill="#7c6634"/><ellipse cx="-2.9" cy="-11.6" rx="2.6" ry="1.5" fill="#7c6634"/><ellipse cx="4.3" cy="0.0" rx="2.9" ry="1.7" fill="#7c6634"/></g>
<path d="M224.4,573.5 L225.1,574.2 L224.4,574.8 L223.6,575.3 L224.1,576.0 L224.5,576.9 L223.6,577.2 L222.7,577.5 L222.9,578.4 L223.1,579.3 L222.1,579.4 L221.2,579.4 L221.2,580.3 L221.1,581.2 L220.1,581.1 L219.2,580.8 L218.9,581.7 L218.5,582.5 L217.7,582.1 L216.9,581.7 L216.3,582.4 L215.7,583.1 L215.0,582.5 L214.4,581.8 L213.7,582.4 L212.9,582.9 L212.3,582.1 L211.9,581.3 L211.1,581.7 L210.2,582.0 L209.9,581.1 L209.7,580.2 L208.8,580.3 L207.9,580.3 L207.9,579.4 L208.0,578.5 L207.1,578.4 L206.1,578.1 L206.4,577.2 L206.8,576.4 L205.9,576.0 L205.1,575.5 L205.6,574.8 L206.2,574.1 L205.6,573.5 L204.9,572.8 L205.6,572.2 L206.4,571.7 L205.9,571.0 L205.5,570.1 L206.4,569.8 L207.3,569.5 L207.1,568.6 L206.9,567.7 L207.9,567.6 L208.8,567.6 L208.8,566.7 L208.9,565.8 L209.9,565.9 L210.8,566.2 L211.1,565.3 L211.5,564.5 L212.3,564.9 L213.1,565.3 L213.7,564.6 L214.3,563.9 L215.0,564.5 L215.6,565.2 L216.3,564.6 L217.1,564.1 L217.7,564.9 L218.1,565.7 L218.9,565.3 L219.8,565.0 L220.1,565.9 L220.3,566.8 L221.2,566.7 L222.1,566.7 L222.1,567.6 L222.0,568.5 L222.9,568.6 L223.9,568.9 L223.6,569.8 L223.2,570.6 L224.1,571.0 L224.9,571.5 L224.4,572.2 L223.8,572.9Z" fill="#d3a395"/>
<ellipse cx="214.1" cy="572.1" rx="4.0" ry="3.1" fill="#bb8474"/>
<g transform="translate(209.0 593.5) rotate(11.1)"><path d="M-23.4,0 Q-11.7,-5.0 0,-5.0 Q11.7,-5.0 23.4,-1.5 L20.4,0 L23.4,2.5 Q11.7,5.0 0,5.0 Q-11.7,5.0 -23.4,0Z" fill="#c27968"/><ellipse cx="0" cy="0" rx="6.6" ry="2.5" fill="#9e4a3c"/></g>
<g transform="translate(214.0 613.0) rotate(-60)" stroke="#d0a494" stroke-width="0.8" fill="none"><path d="M0,0 L-11.3,-3.1 M-7.3,-2.0 l0.8,-2.8 M-11.3,-3.1 l-1.8,-2.3"/><path d="M0,0 L-5.1,-8.2 M-3.3,-5.3 l2.0,-1.3 M-5.1,-8.2 l0.2,-2.4"/><path d="M0,0 L5.1,-8.2 M3.3,-5.3 l2.0,1.3 M5.1,-8.2 l2.2,-0.9"/><path d="M0,0 L11.3,-3.1 M7.3,-2.0 l0.8,2.8 M11.3,-3.1 l2.7,1.1"/><path d="M0,0 L10.9,3.8 M7.1,2.5 l-1.0,2.7 M10.9,3.8 l1.6,2.4"/><path d="M0,0 L4.1,8.5 M2.7,5.5 l-2.1,1.0 M4.1,8.5 l-0.4,2.3"/><path d="M0,0 L-5.1,8.2 M-3.3,5.3 l-2.0,-1.3 M-5.1,8.2 l-2.2,0.9"/><path d="M0,0 L-11.3,3.1 M-7.3,2.0 l-0.8,-2.8 M-11.3,3.1 l-2.7,-1.1"/></g><g transform="translate(214.0 613.0) rotate(-60)"><ellipse rx="6.0" ry="3.0" fill="#cf9a88"/><ellipse rx="2.5" ry="1.6" fill="#a8564c"/></g>
<path d="M193,80.3 Q232,77.5 255,110" stroke="#222" stroke-width="1.3" fill="none"/>
<path d="M250.7,111.8 L258.6,115.5 L258.1,106.6Z" fill="#222"/>
<path d="M166,202 C158,212 152,222 151,240 C150,255 143,265 143,280 C143,295 150,310 155,327" stroke="#333" stroke-width="1.1" fill="none"/>
<path d="M151.5,326 L157.4,334.5 L160,324Z" fill="#222"/>
<path d="M286,413 Q310,430 322,445 Q331,457 340,457 Q350,457.5 356,468 Q363,478 377,474" stroke="#222" stroke-width="1.3" fill="none"/>
<path d="M375,468.5 L385,471.5 L377.5,478.5Z" fill="#222"/>
<path d="M722,497 Q700,502 680,493" stroke="#222" stroke-width="1.2" fill="none"/>
<path d="M683,489 L673,492.5 L681,498Z" fill="#222"/>
<path d="M143,182 Q155,182 161,172" stroke="#7a1430" stroke-width="4.5" fill="none" stroke-linecap="butt"/>
<path d="M155,170 L168,161 L166.5,177Z" fill="#7a1430"/>
<path d="M480,271.5 L509,271.5" stroke="#6b0f1a" stroke-width="3"/>
<path d="M474,271.5 L483,265.5 L483,277.5Z M515,271.5 L506,265.5 L506,277.5Z" fill="#6b0f1a"/>
<path d="M631,233 L650,245" stroke="#6b0f2a" stroke-width="4"/>
<path d="M646,238 L658.5,250 L641.5,249.5Z" fill="#6b0f2a"/>
<path d="M636,102.3 L650,92" stroke="#6e0f22" stroke-width="2.1" stroke-dasharray="0.1 3.3" stroke-linecap="round"/>
<path d="M658.5,86 L648.3,87.8 L654.8,95Z" fill="#6e0f22"/>
<path d="M357,258 L494,494" stroke="#1a1a1a" stroke-width="1.6" stroke-dasharray="1.8 2"/>
<path d="M847,276 L686,511" stroke="#1a1a1a" stroke-width="1.6" stroke-dasharray="1.8 2"/>
<defs><filter id="shd" x="-50%" y="-50%" width="200%" height="200%"><feGaussianBlur stdDeviation="5"/></filter></defs>
<rect x="826" y="621" width="70" height="25" fill="#000" opacity="0.22" filter="url(#shd)"/>
<rect x="829.5" y="624.5" width="60" height="15" fill="#fff" stroke="#666" stroke-width="1"/>
<text x="832.5" y="637.8" font-size="10.6" fill="#000" stroke="#000" stroke-width="0.3">Press the</text><text x="879" y="637.8" font-size="10.6" fill="#e08020" font-weight="bold">I</text>
</svg>
</body></html>
